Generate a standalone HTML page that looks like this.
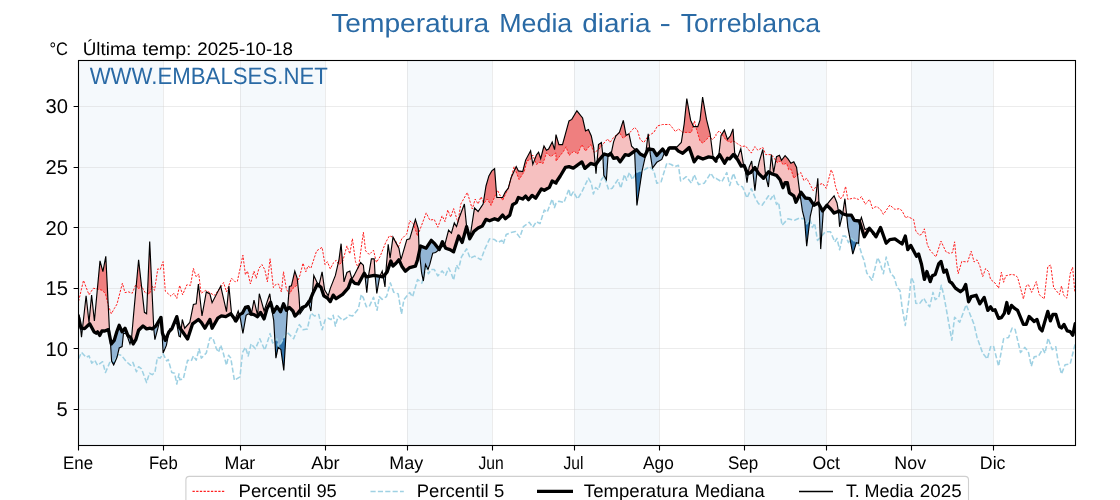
<!DOCTYPE html>
<html><head><meta charset="utf-8"><title>Temperatura Media diaria - Torreblanca</title>
<style>html,body{margin:0;padding:0;background:#fff;overflow:hidden}body{width:1120px;height:500px;font-family:"Liberation Sans",sans-serif}</style></head>
<body>
<svg width="1120" height="500" viewBox="0 0 1120 500" style="display:block;font-family:'Liberation Sans',sans-serif;text-rendering:geometricPrecision;will-change:transform">
<rect width="1120" height="500" fill="#fff"/>
<rect x="78.5" y="60.5" width="84.5" height="385.0" fill="#f5f9fc"/>
<rect x="240.0" y="60.5" width="85.0" height="385.0" fill="#f5f9fc"/>
<rect x="407.0" y="60.5" width="85.0" height="385.0" fill="#f5f9fc"/>
<rect x="574.0" y="60.5" width="85.0" height="385.0" fill="#f5f9fc"/>
<rect x="744.0" y="60.5" width="82.0" height="385.0" fill="#f5f9fc"/>
<rect x="911.0" y="60.5" width="82.0" height="385.0" fill="#f5f9fc"/>
<path d="M163.5 60.5 V445.5 M240.5 60.5 V445.5 M325.5 60.5 V445.5 M407.5 60.5 V445.5 M492.5 60.5 V445.5 M574.5 60.5 V445.5 M659.5 60.5 V445.5 M744.5 60.5 V445.5 M826.5 60.5 V445.5 M911.5 60.5 V445.5 M993.5 60.5 V445.5 M78.5 409.5 H1075.5 M78.5 348.5 H1075.5 M78.5 288.5 H1075.5 M78.5 227.5 H1075.5 M78.5 167.5 H1075.5 M78.5 106.5 H1075.5" stroke="#d0d0d0" stroke-width="1" fill="none" stroke-opacity="0.4"/>
<clipPath id="cp"><rect x="78.5" y="60.5" width="997.0" height="385.0"/></clipPath>
<g clip-path="url(#cp)" fill="none" stroke-linejoin="round">
<path d="M79.2 315.3 L79.5 317.8 L79.8 320.2 L80.0 322.7 L80.0 323.6 L79.8 322.5 L79.5 321.4 L79.2 320.3ZM82.5 328.0 L82.8 325.7 L83.0 323.5 L83.2 321.2 L83.5 319.0 L83.8 316.7 L84.0 314.5 L84.2 312.2 L84.5 310.0 L84.8 307.7 L85.0 305.5 L85.2 303.2 L85.5 301.0 L85.8 298.7 L86.0 296.5 L86.2 297.3 L86.5 299.6 L86.8 302.0 L87.0 304.3 L87.2 306.6 L87.5 308.9 L87.8 311.2 L88.0 313.5 L88.2 315.8 L88.5 318.1 L88.8 320.5 L89.0 322.0 L89.2 319.3 L89.5 316.7 L89.8 314.1 L90.0 311.4 L90.2 308.8 L90.5 306.2 L90.8 303.5 L91.0 300.9 L91.2 298.2 L91.5 295.6 L91.8 296.8 L92.0 299.1 L92.2 301.3 L92.5 303.6 L92.8 305.8 L93.0 308.1 L93.2 310.3 L93.5 312.6 L93.8 314.8 L94.0 317.1 L94.2 319.3 L94.5 320.2 L94.8 317.6 L95.0 314.9 L95.2 312.2 L95.5 309.6 L95.8 306.9 L96.0 304.2 L96.2 301.5 L96.5 298.9 L96.8 296.2 L97.0 293.5 L97.2 290.8 L97.5 288.2 L97.8 285.5 L98.0 282.8 L98.2 280.2 L98.5 277.5 L98.8 274.8 L99.0 272.1 L99.2 269.5 L99.5 266.8 L99.8 264.1 L100.0 261.5 L100.2 261.7 L100.5 262.6 L100.8 263.5 L101.0 264.5 L101.2 265.4 L101.5 266.4 L101.8 267.3 L102.0 268.2 L102.2 269.2 L102.5 270.1 L102.8 271.0 L103.0 271.3 L103.2 270.0 L103.5 268.7 L103.8 267.3 L104.0 266.0 L104.2 264.7 L104.5 263.3 L104.8 262.0 L105.0 260.6 L105.2 259.3 L105.5 258.0 L105.8 256.6 L106.0 260.1 L106.2 265.2 L106.5 270.2 L106.8 275.3 L107.0 280.3 L107.2 285.3 L107.5 290.4 L107.8 295.4 L108.0 300.5 L108.2 305.5 L108.5 310.5 L108.8 315.6 L109.0 320.6 L109.2 325.7 L109.5 330.1 L109.8 333.6 L110.0 337.0 L110.0 337.6 L109.8 336.3 L109.5 335.1 L109.2 333.8 L109.0 332.6 L108.8 331.3 L108.5 330.1 L108.2 329.7 L108.0 329.8 L107.8 329.9 L107.5 330.0 L107.2 330.1 L107.0 330.2 L106.8 330.3 L106.5 330.4 L106.2 330.5 L106.0 330.6 L105.8 330.7 L105.5 330.8 L105.2 330.9 L105.0 331.0 L104.8 331.0 L104.5 331.0 L104.2 331.0 L104.0 331.0 L103.8 331.0 L103.5 331.0 L103.2 331.0 L103.0 331.0 L102.8 331.0 L102.5 331.0 L102.2 331.0 L102.0 331.0 L101.8 331.4 L101.5 331.9 L101.2 332.4 L101.0 332.9 L100.8 333.4 L100.5 333.9 L100.2 334.4 L100.0 334.9 L99.8 335.3 L99.5 334.9 L99.2 334.5 L99.0 334.1 L98.8 333.7 L98.5 333.3 L98.2 332.8 L98.0 332.4 L97.8 332.0 L97.5 331.9 L97.2 332.1 L97.0 332.4 L96.8 332.6 L96.5 332.9 L96.2 333.1 L96.0 333.1 L95.8 332.9 L95.5 332.8 L95.2 332.6 L95.0 332.4 L94.8 332.3 L94.5 332.1 L94.2 331.9 L94.0 331.8 L93.8 331.3 L93.5 330.8 L93.2 330.4 L93.0 329.9 L92.8 329.5 L92.5 329.0 L92.2 328.6 L92.0 328.1 L91.8 327.6 L91.5 327.2 L91.2 326.7 L91.0 326.3 L90.8 325.8 L90.5 325.3 L90.2 324.9 L90.0 324.4 L89.8 324.0 L89.5 324.0 L89.2 324.2 L89.0 324.5 L88.8 324.7 L88.5 325.0 L88.2 325.2 L88.0 325.4 L87.8 325.7 L87.5 325.9 L87.2 326.1 L87.0 326.4 L86.8 326.6 L86.5 326.8 L86.2 327.1 L86.0 327.3 L85.8 327.5 L85.5 327.8 L85.2 328.0 L85.0 328.3 L84.8 328.5 L84.5 328.6 L84.2 328.5 L84.0 328.5 L83.8 328.5 L83.5 328.5 L83.2 328.4 L83.0 328.4 L82.8 328.4 L82.5 328.3ZM131.5 339.0 L131.8 336.1 L132.0 333.2 L132.2 330.3 L132.5 327.4 L132.8 324.4 L133.0 321.5 L133.2 318.6 L133.5 315.7 L133.8 312.9 L134.0 310.2 L134.2 307.5 L134.5 304.8 L134.8 302.0 L135.0 299.3 L135.2 296.6 L135.5 293.9 L135.8 291.2 L136.0 288.5 L136.2 285.8 L136.5 283.0 L136.8 280.3 L137.0 277.6 L137.2 274.9 L137.5 272.2 L137.8 269.5 L138.0 266.8 L138.2 264.0 L138.5 261.3 L138.8 260.7 L139.0 263.0 L139.2 265.3 L139.5 267.6 L139.8 269.9 L140.0 272.1 L140.2 274.4 L140.5 276.7 L140.8 279.0 L141.0 281.3 L141.2 283.5 L141.5 285.8 L141.8 288.1 L142.0 290.4 L142.2 292.7 L142.5 294.9 L142.8 297.2 L143.0 299.5 L143.2 301.8 L143.5 304.1 L143.8 306.4 L144.0 308.6 L144.2 310.9 L144.5 312.4 L144.8 312.6 L145.0 312.7 L145.2 312.9 L145.5 313.1 L145.8 313.2 L146.0 313.4 L146.2 313.6 L146.5 313.7 L146.8 309.5 L147.0 303.8 L147.2 298.1 L147.5 292.4 L147.8 286.7 L148.0 281.0 L148.2 275.3 L148.5 269.6 L148.8 263.9 L149.0 258.2 L149.2 252.5 L149.5 246.8 L149.8 241.9 L150.0 247.3 L150.2 252.7 L150.5 258.2 L150.8 263.6 L151.0 269.0 L151.2 274.5 L151.5 279.9 L151.8 285.4 L152.0 290.8 L152.2 296.2 L152.5 301.7 L152.8 307.1 L153.0 312.5 L153.2 318.0 L153.5 323.4 L153.5 327.9 L153.2 328.1 L153.0 328.3 L152.8 328.5 L152.5 328.7 L152.2 328.9 L152.0 328.8 L151.8 328.7 L151.5 328.6 L151.2 328.5 L151.0 328.4 L150.8 328.4 L150.5 328.3 L150.2 328.2 L150.0 328.2 L149.8 328.2 L149.5 328.3 L149.2 328.3 L149.0 328.4 L148.8 328.4 L148.5 328.5 L148.2 328.5 L148.0 328.6 L147.8 328.6 L147.5 328.7 L147.2 328.7 L147.0 328.8 L146.8 328.8 L146.5 328.8 L146.2 328.6 L146.0 328.4 L145.8 328.2 L145.5 328.0 L145.2 327.8 L145.0 327.6 L144.8 327.4 L144.5 327.2 L144.2 327.0 L144.0 326.8 L143.8 326.6 L143.5 326.4 L143.2 326.2 L143.0 326.0 L142.8 326.2 L142.5 326.5 L142.2 326.7 L142.0 327.0 L141.8 327.2 L141.5 327.5 L141.2 327.7 L141.0 328.0 L140.8 328.2 L140.5 328.5 L140.2 328.7 L140.0 329.0 L139.8 329.2 L139.5 329.5 L139.2 329.7 L139.0 330.0 L138.8 330.2 L138.5 330.8 L138.2 331.6 L138.0 332.4 L137.8 333.2 L137.5 334.0 L137.2 334.9 L137.0 335.7 L136.8 336.5 L136.5 337.3 L136.2 338.1 L136.0 338.9 L135.8 339.7 L135.5 340.1 L135.2 340.5 L135.0 341.0 L134.8 341.4 L134.5 341.8 L134.2 342.2 L134.0 342.6 L133.8 343.0 L133.5 343.5 L133.2 343.9 L133.0 343.5 L132.8 342.9 L132.5 342.2 L132.2 341.6 L132.0 340.9 L131.8 340.2 L131.5 339.6ZM160.0 318.1 L160.2 316.7 L160.2 318.6 L160.0 319.0ZM169.2 330.7 L169.5 329.4 L169.8 328.8 L170.0 328.8 L170.2 328.7 L170.5 328.6 L170.8 328.5 L171.0 328.4 L171.2 328.3 L171.5 328.3 L171.8 328.2 L172.0 327.8 L172.2 327.4 L172.5 327.0 L172.5 327.1 L172.2 327.7 L172.0 328.3 L171.8 328.9 L171.5 329.1 L171.2 329.4 L171.0 329.6 L170.8 329.9 L170.5 330.1 L170.2 330.4 L170.0 330.6 L169.8 330.9 L169.5 331.1 L169.2 331.4ZM181.2 329.0 L181.5 326.7 L181.8 324.4 L182.0 322.1 L182.2 319.8 L182.5 320.3 L182.8 321.2 L183.0 322.1 L183.2 322.9 L183.5 323.8 L183.8 324.7 L184.0 325.6 L184.2 326.5 L184.5 327.4 L184.8 328.1 L185.0 327.9 L185.2 327.6 L185.5 327.3 L185.8 327.0 L186.0 326.7 L186.2 326.4 L186.5 326.1 L186.8 325.9 L187.0 325.6 L187.2 325.3 L187.5 325.0 L187.8 324.7 L188.0 324.4 L188.2 324.1 L188.5 323.9 L188.8 323.6 L189.0 323.3 L189.2 323.0 L189.5 322.7 L189.8 322.4 L190.0 321.2 L190.2 320.0 L190.5 318.7 L190.8 317.5 L191.0 316.2 L191.2 315.0 L191.5 313.7 L191.8 312.5 L192.0 311.2 L192.2 310.0 L192.5 308.7 L192.8 307.5 L193.0 306.2 L193.2 305.0 L193.5 304.4 L193.8 304.3 L194.0 304.2 L194.2 304.2 L194.5 304.1 L194.8 304.1 L195.0 304.0 L195.2 303.9 L195.5 303.9 L195.8 303.8 L196.0 303.7 L196.2 303.7 L196.5 301.4 L196.8 299.1 L197.0 296.8 L197.2 294.5 L197.5 292.2 L197.8 290.0 L198.0 287.7 L198.2 285.4 L198.5 284.8 L198.8 287.0 L199.0 289.2 L199.2 291.4 L199.5 293.7 L199.8 295.9 L200.0 298.1 L200.2 300.3 L200.5 302.5 L200.8 304.8 L201.0 307.0 L201.2 309.2 L201.5 311.4 L201.8 313.6 L202.0 315.9 L202.2 314.6 L202.5 313.2 L202.8 311.8 L203.0 310.4 L203.2 309.0 L203.5 307.6 L203.8 306.2 L204.0 304.8 L204.2 303.4 L204.5 302.1 L204.8 300.7 L205.0 299.3 L205.2 297.9 L205.5 296.5 L205.8 295.1 L206.0 293.7 L206.2 292.3 L206.5 292.0 L206.8 292.1 L207.0 292.3 L207.2 292.4 L207.5 292.6 L207.8 292.7 L208.0 292.9 L208.2 293.0 L208.5 293.2 L208.8 293.3 L209.0 293.5 L209.2 293.6 L209.5 293.8 L209.8 293.9 L210.0 294.3 L210.2 295.3 L210.5 296.3 L210.8 297.3 L211.0 298.3 L211.2 299.3 L211.5 300.3 L211.8 301.3 L212.0 302.3 L212.2 302.4 L212.5 301.9 L212.8 301.4 L213.0 300.9 L213.2 300.5 L213.5 300.0 L213.8 299.5 L214.0 299.0 L214.2 298.5 L214.5 298.1 L214.8 297.6 L215.0 297.1 L215.2 296.6 L215.5 296.1 L215.8 295.7 L216.0 295.2 L216.2 294.7 L216.5 294.2 L216.8 293.8 L217.0 293.3 L217.2 292.8 L217.5 292.3 L217.8 291.8 L218.0 291.4 L218.2 290.9 L218.5 290.4 L218.8 289.9 L219.0 289.4 L219.2 289.0 L219.5 288.5 L219.8 288.0 L220.0 287.5 L220.2 287.0 L220.5 286.6 L220.8 286.2 L221.0 287.3 L221.2 288.4 L221.5 289.5 L221.8 290.6 L222.0 291.7 L222.2 292.8 L222.5 294.0 L222.8 295.1 L223.0 296.2 L223.2 297.3 L223.5 298.4 L223.8 299.5 L224.0 300.6 L224.2 301.7 L224.5 302.8 L224.8 303.9 L225.0 305.0 L225.2 306.1 L225.5 307.2 L225.8 308.3 L226.0 309.4 L226.2 310.5 L226.5 311.5 L226.8 308.9 L227.0 306.3 L227.2 303.7 L227.5 301.1 L227.8 298.5 L228.0 295.9 L228.2 293.3 L228.5 290.7 L228.8 288.1 L229.0 286.8 L229.2 289.4 L229.5 292.0 L229.8 294.6 L230.0 297.2 L230.2 299.7 L230.5 302.3 L230.8 304.9 L231.0 307.5 L231.2 310.1 L231.5 312.7 L231.8 313.6 L232.0 314.3 L232.2 315.0 L232.5 315.7 L232.5 316.0 L232.2 315.7 L232.0 315.3 L231.8 315.0 L231.5 314.7 L231.2 314.3 L231.0 314.0 L230.8 313.8 L230.5 313.9 L230.2 314.1 L230.0 314.2 L229.8 314.4 L229.5 314.5 L229.2 314.7 L229.0 314.8 L228.8 314.9 L228.5 315.1 L228.2 315.2 L228.0 315.4 L227.8 315.5 L227.5 315.7 L227.2 315.8 L227.0 315.9 L226.8 316.1 L226.5 316.2 L226.2 316.4 L226.0 316.5 L225.8 316.6 L225.5 316.6 L225.2 316.6 L225.0 316.5 L224.8 316.5 L224.5 316.4 L224.2 316.4 L224.0 316.3 L223.8 316.3 L223.5 316.3 L223.2 316.2 L223.0 316.2 L222.8 316.1 L222.5 316.1 L222.2 316.1 L222.0 316.0 L221.8 316.0 L221.5 315.9 L221.2 316.0 L221.0 316.2 L220.8 316.3 L220.5 316.5 L220.2 316.6 L220.0 316.8 L219.8 316.9 L219.5 317.1 L219.2 317.2 L219.0 317.4 L218.8 317.5 L218.5 317.7 L218.2 317.8 L218.0 318.0 L217.8 318.3 L217.5 318.7 L217.2 319.1 L217.0 319.6 L216.8 320.0 L216.5 320.4 L216.2 320.9 L216.0 321.3 L215.8 321.8 L215.5 322.2 L215.2 322.6 L215.0 323.1 L214.8 323.5 L214.5 323.9 L214.2 324.4 L214.0 324.8 L213.8 325.3 L213.5 325.7 L213.2 326.1 L213.0 326.6 L212.8 327.0 L212.5 327.4 L212.2 327.9 L212.0 327.8 L211.8 326.8 L211.5 325.8 L211.2 324.8 L211.0 323.8 L210.8 322.8 L210.5 321.8 L210.2 320.8 L210.0 319.8 L209.8 319.8 L209.5 320.3 L209.2 320.7 L209.0 321.1 L208.8 321.5 L208.5 322.0 L208.2 322.4 L208.0 322.8 L207.8 323.3 L207.5 323.7 L207.2 324.1 L207.0 324.5 L206.8 325.0 L206.5 325.4 L206.2 325.8 L206.0 326.3 L205.8 326.7 L205.5 327.1 L205.2 327.5 L205.0 328.0 L204.8 327.9 L204.5 327.5 L204.2 327.1 L204.0 326.7 L203.8 326.3 L203.5 325.9 L203.2 325.5 L203.0 325.1 L202.8 324.7 L202.5 324.3 L202.2 323.9 L202.0 323.5 L201.8 323.1 L201.5 322.7 L201.2 322.4 L201.0 322.1 L200.8 321.9 L200.5 321.6 L200.2 321.4 L200.0 321.1 L199.8 320.9 L199.5 320.6 L199.2 320.4 L199.0 320.1 L198.8 319.9 L198.5 319.6 L198.2 319.6 L198.0 319.8 L197.8 320.0 L197.5 320.2 L197.2 320.4 L197.0 320.6 L196.8 320.8 L196.5 321.0 L196.2 321.1 L196.0 321.3 L195.8 321.5 L195.5 321.7 L195.2 321.9 L195.0 322.1 L194.8 322.3 L194.5 322.5 L194.2 322.6 L194.0 322.8 L193.8 323.0 L193.5 323.2 L193.2 323.4 L193.0 323.6 L192.8 323.8 L192.5 324.3 L192.2 325.0 L192.0 325.8 L191.8 326.5 L191.5 327.3 L191.2 328.0 L191.0 328.8 L190.8 329.5 L190.5 330.3 L190.2 331.0 L190.0 331.8 L189.8 332.5 L189.5 333.3 L189.2 334.0 L189.0 334.8 L188.8 335.5 L188.5 336.3 L188.2 337.0 L188.0 337.8 L187.8 338.5 L187.5 338.8 L187.2 338.5 L187.0 338.1 L186.8 337.7 L186.5 337.4 L186.2 337.0 L186.0 336.7 L185.8 336.3 L185.5 336.0 L185.2 335.6 L185.0 335.2 L184.8 334.9 L184.5 334.5 L184.2 334.2 L184.0 333.8 L183.8 333.5 L183.5 333.1 L183.2 332.7 L183.0 332.4 L182.8 332.0 L182.5 331.7 L182.2 331.3 L182.0 331.0 L181.8 330.6 L181.5 330.3 L181.2 329.9ZM235.2 318.7 L235.5 318.1 L235.8 317.4 L236.0 316.7 L236.2 316.1 L236.5 315.4 L236.8 314.7 L237.0 314.1 L237.2 313.4 L237.5 312.7 L237.8 312.1 L238.0 311.4 L238.2 311.3 L238.5 312.1 L238.8 312.9 L239.0 313.8 L239.2 314.6 L239.2 315.2 L239.0 315.6 L238.8 316.1 L238.5 316.5 L238.2 317.0 L238.0 317.4 L237.8 317.9 L237.5 318.3 L237.2 318.8 L237.0 319.2 L236.8 319.7 L236.5 320.1 L236.2 320.6 L236.0 321.0 L235.8 320.6 L235.5 320.2 L235.2 319.7ZM251.5 313.3 L251.8 312.0 L252.0 310.7 L252.2 309.4 L252.5 308.0 L252.8 306.7 L253.0 305.4 L253.2 304.1 L253.5 302.8 L253.8 301.5 L254.0 300.2 L254.2 301.2 L254.5 302.3 L254.8 303.3 L255.0 304.4 L255.2 305.4 L255.5 306.5 L255.8 307.5 L256.0 308.6 L256.2 309.6 L256.5 310.7 L256.8 311.7 L257.0 312.8 L257.2 313.8 L257.5 314.9 L257.8 313.4 L258.0 310.3 L258.2 307.2 L258.5 304.0 L258.8 300.9 L259.0 297.8 L259.2 294.7 L259.5 294.3 L259.8 295.2 L260.0 296.1 L260.2 297.0 L260.5 297.9 L260.8 298.8 L261.0 299.8 L261.2 300.7 L261.5 301.6 L261.8 302.5 L262.0 303.4 L262.2 304.3 L262.5 305.2 L262.8 306.1 L263.0 307.0 L263.2 307.9 L263.5 308.8 L263.8 309.8 L264.0 310.7 L264.2 310.5 L264.5 309.7 L264.8 309.0 L265.0 308.2 L265.2 307.5 L265.5 306.7 L265.8 306.0 L266.0 305.2 L266.2 304.5 L266.5 303.7 L266.8 303.0 L267.0 302.2 L267.2 301.5 L267.5 300.7 L267.8 300.0 L268.0 299.2 L268.2 298.5 L268.5 297.7 L268.8 297.0 L269.0 296.2 L269.2 295.5 L269.5 294.7 L269.8 294.0 L270.0 294.9 L270.2 296.9 L270.5 298.9 L270.8 300.9 L271.0 302.9 L271.0 303.9 L270.8 303.0 L270.5 302.4 L270.2 302.9 L270.0 303.3 L269.8 303.8 L269.5 304.2 L269.2 304.7 L269.0 305.1 L268.8 305.6 L268.5 306.0 L268.2 306.5 L268.0 306.9 L267.8 307.4 L267.5 307.8 L267.2 308.3 L267.0 308.7 L266.8 309.5 L266.5 310.4 L266.2 311.3 L266.0 312.2 L265.8 313.0 L265.5 313.9 L265.2 314.8 L265.0 315.7 L264.8 316.5 L264.5 317.4 L264.2 318.3 L264.0 318.7 L263.8 318.3 L263.5 317.8 L263.2 317.4 L263.0 316.9 L262.8 316.5 L262.5 316.0 L262.2 315.6 L262.0 315.1 L261.8 314.7 L261.5 314.2 L261.2 313.8 L261.0 313.3 L260.8 312.9 L260.5 312.4 L260.2 312.7 L260.0 313.1 L259.8 313.5 L259.5 313.9 L259.2 314.2 L259.0 314.6 L258.8 315.0 L258.5 315.4 L258.2 315.7 L258.0 316.1 L257.8 316.5 L257.5 316.7 L257.2 316.5 L257.0 316.4 L256.8 316.2 L256.5 316.1 L256.2 315.9 L256.0 315.8 L255.8 315.6 L255.5 315.5 L255.2 315.3 L255.0 315.2 L254.8 315.0 L254.5 314.9 L254.2 314.7 L254.0 314.6 L253.8 314.5 L253.5 314.4 L253.2 314.4 L253.0 314.3 L252.8 314.2 L252.5 314.2 L252.2 314.1 L252.0 314.1 L251.8 314.0 L251.5 313.9ZM287.8 306.7 L288.0 303.4 L288.2 300.1 L288.5 296.8 L288.8 293.5 L289.0 290.2 L289.2 286.9 L289.5 286.4 L289.8 286.3 L290.0 286.2 L290.2 286.2 L290.5 286.1 L290.8 286.0 L291.0 285.9 L291.2 285.8 L291.5 285.5 L291.8 284.4 L292.0 283.3 L292.2 282.2 L292.5 281.1 L292.8 280.0 L293.0 278.9 L293.2 277.8 L293.5 276.6 L293.8 275.5 L294.0 274.4 L294.2 273.3 L294.5 272.2 L294.8 271.1 L295.0 271.8 L295.2 272.5 L295.5 273.3 L295.8 274.0 L296.0 274.7 L296.2 275.5 L296.5 276.2 L296.8 276.9 L297.0 277.7 L297.2 278.7 L297.5 281.0 L297.8 283.4 L298.0 285.7 L298.2 288.0 L298.5 290.4 L298.8 292.7 L299.0 295.5 L299.2 299.8 L299.5 304.0 L299.8 308.2 L299.8 310.7 L299.5 311.0 L299.2 311.4 L299.0 311.7 L298.8 312.0 L298.5 312.4 L298.2 312.7 L298.0 313.0 L297.8 313.3 L297.5 313.5 L297.2 313.8 L297.0 314.0 L296.8 314.3 L296.5 314.5 L296.2 314.8 L296.0 315.0 L295.8 315.3 L295.5 315.5 L295.2 315.8 L295.0 315.9 L294.8 315.3 L294.5 314.7 L294.2 314.2 L294.0 313.6 L293.8 313.0 L293.5 312.4 L293.2 311.8 L293.0 311.2 L292.8 310.8 L292.5 310.6 L292.2 310.3 L292.0 310.1 L291.8 309.8 L291.5 309.6 L291.2 309.3 L291.0 309.1 L290.8 308.8 L290.5 308.6 L290.2 308.3 L290.0 308.1 L289.8 307.8 L289.5 307.6 L289.2 307.4 L289.0 307.6 L288.8 307.9 L288.5 308.1 L288.2 308.4 L288.0 308.6 L287.8 308.9ZM305.2 305.9 L305.5 305.5 L305.8 305.0 L306.0 304.6 L306.2 304.1 L306.5 303.6 L306.8 303.2 L307.0 302.7 L307.2 302.3 L307.5 301.8 L307.8 301.3 L308.0 300.9 L308.2 301.7 L308.5 302.6 L308.5 302.7 L308.2 303.0 L308.0 303.3 L307.8 303.6 L307.5 303.9 L307.2 304.2 L307.0 304.5 L306.8 304.8 L306.5 305.1 L306.2 305.4 L306.0 305.7 L305.8 306.0 L305.5 306.1 L305.2 306.2ZM312.5 292.5 L312.8 289.1 L313.0 285.7 L313.2 282.4 L313.5 279.0 L313.8 275.6 L314.0 275.9 L314.2 276.4 L314.5 277.0 L314.8 277.5 L315.0 278.0 L315.2 278.6 L315.5 279.1 L315.8 279.7 L316.0 280.2 L316.2 280.7 L316.5 281.3 L316.8 281.8 L317.0 282.3 L317.2 282.9 L317.5 283.4 L317.8 283.9 L318.0 284.5 L318.2 285.0 L318.2 285.0 L318.0 284.8 L317.8 284.6 L317.5 284.4 L317.2 284.6 L317.0 285.1 L316.8 285.6 L316.5 286.1 L316.2 286.6 L316.0 287.1 L315.8 287.6 L315.5 288.1 L315.2 288.6 L315.0 289.1 L314.8 289.6 L314.5 290.1 L314.2 290.6 L314.0 291.1 L313.8 291.6 L313.5 292.1 L313.2 292.6 L313.0 293.1 L312.8 293.7 L312.5 294.3ZM319.0 285.4 L319.2 284.3 L319.5 283.2 L319.8 282.1 L320.0 281.0 L320.2 279.9 L320.5 278.8 L320.8 277.7 L321.0 276.7 L321.2 275.6 L321.5 274.5 L321.8 273.4 L322.0 272.3 L322.2 272.8 L322.5 274.6 L322.8 276.5 L323.0 278.3 L323.2 280.1 L323.5 282.0 L323.8 283.8 L324.0 285.6 L324.2 287.5 L324.5 289.3 L324.8 290.1 L325.0 290.5 L325.2 291.0 L325.5 291.4 L325.8 291.8 L326.0 292.2 L326.2 292.6 L326.5 293.0 L326.8 293.5 L327.0 293.9 L327.2 294.3 L327.5 294.7 L327.8 295.1 L328.0 295.6 L328.2 295.5 L328.5 294.7 L328.8 293.8 L329.0 293.0 L329.2 292.1 L329.5 291.2 L329.8 290.4 L330.0 289.5 L330.2 288.6 L330.5 287.9 L330.8 287.3 L331.0 286.6 L331.2 286.0 L331.5 285.3 L331.8 284.7 L332.0 284.1 L332.2 283.4 L332.5 282.8 L332.8 282.1 L333.0 281.5 L333.2 280.8 L333.5 280.2 L333.8 279.6 L334.0 278.9 L334.2 278.3 L334.5 277.6 L334.8 277.0 L335.0 276.3 L335.2 275.7 L335.5 274.8 L335.8 273.7 L336.0 272.6 L336.2 271.5 L336.5 270.4 L336.8 269.3 L337.0 268.2 L337.2 267.1 L337.5 266.0 L337.8 264.9 L338.0 263.8 L338.2 262.7 L338.5 261.6 L338.8 260.5 L339.0 259.3 L339.2 257.5 L339.5 255.7 L339.8 253.8 L340.0 252.0 L340.2 250.2 L340.5 248.3 L340.8 246.5 L341.0 244.7 L341.2 245.4 L341.5 248.7 L341.8 252.0 L342.0 255.3 L342.2 258.6 L342.5 261.9 L342.8 265.2 L343.0 268.5 L343.2 271.9 L343.5 275.2 L343.8 278.5 L344.0 281.8 L344.2 281.1 L344.5 280.3 L344.8 279.5 L345.0 278.7 L345.2 277.8 L345.5 277.0 L345.8 276.2 L346.0 275.4 L346.2 274.6 L346.5 273.8 L346.8 273.0 L347.0 272.5 L347.2 272.3 L347.5 272.2 L347.8 272.1 L348.0 272.0 L348.2 271.8 L348.5 271.7 L348.8 271.6 L349.0 271.5 L349.2 271.3 L349.5 271.2 L349.8 271.1 L350.0 271.9 L350.2 272.9 L350.5 273.8 L350.8 274.7 L351.0 275.6 L351.2 276.5 L351.5 277.4 L351.8 278.4 L352.0 278.9 L352.2 278.5 L352.5 278.0 L352.8 277.6 L353.0 277.2 L353.2 276.8 L353.5 276.4 L353.8 276.0 L354.0 275.5 L354.2 275.1 L354.5 274.6 L354.8 274.1 L355.0 273.6 L355.2 273.1 L355.5 272.6 L355.8 272.1 L356.0 271.6 L356.2 271.1 L356.5 270.6 L356.8 270.1 L357.0 269.6 L357.2 269.1 L357.5 268.6 L357.8 268.1 L358.0 267.6 L358.2 267.1 L358.5 266.6 L358.8 266.1 L359.0 265.6 L359.2 265.1 L359.5 264.6 L359.8 264.1 L360.0 263.6 L360.2 263.1 L360.5 262.6 L360.8 262.6 L361.0 262.9 L361.2 263.1 L361.5 263.4 L361.8 263.6 L362.0 263.9 L362.2 264.1 L362.5 264.4 L362.8 264.6 L363.0 264.9 L363.2 265.1 L363.5 265.9 L363.8 268.6 L364.0 271.4 L364.0 273.6 L363.8 274.0 L363.5 274.5 L363.2 275.0 L363.0 275.4 L362.8 275.9 L362.5 276.4 L362.2 276.8 L362.0 277.3 L361.8 277.8 L361.5 278.2 L361.2 278.7 L361.0 279.2 L360.8 279.7 L360.5 280.1 L360.2 280.6 L360.0 281.1 L359.8 281.5 L359.5 282.0 L359.2 282.5 L359.0 282.9 L358.8 283.4 L358.5 283.9 L358.2 284.0 L358.0 284.0 L357.8 283.9 L357.5 283.9 L357.2 283.8 L357.0 283.8 L356.8 283.7 L356.5 283.7 L356.2 283.6 L356.0 283.6 L355.8 283.5 L355.5 283.5 L355.2 283.4 L355.0 283.4 L354.8 283.3 L354.5 283.0 L354.2 282.8 L354.0 282.5 L353.8 282.3 L353.5 282.0 L353.2 281.8 L353.0 281.5 L352.8 281.3 L352.5 281.0 L352.2 280.8 L352.0 280.5 L351.8 280.3 L351.5 280.0 L351.2 279.8 L351.0 280.3 L350.8 281.0 L350.5 281.7 L350.2 282.4 L350.0 283.2 L349.8 283.9 L349.5 284.6 L349.2 285.3 L349.0 286.0 L348.8 286.7 L348.5 287.4 L348.2 288.0 L348.0 288.3 L347.8 288.6 L347.5 288.9 L347.2 289.1 L347.0 289.4 L346.8 289.7 L346.5 290.0 L346.2 290.3 L346.0 290.5 L345.8 290.8 L345.5 291.1 L345.2 291.4 L345.0 291.7 L344.8 291.9 L344.5 292.2 L344.2 292.5 L344.0 292.8 L343.8 293.1 L343.5 293.4 L343.2 293.6 L343.0 293.9 L342.8 294.2 L342.5 294.4 L342.2 294.6 L342.0 294.8 L341.8 294.9 L341.5 295.1 L341.2 295.3 L341.0 295.4 L340.8 295.6 L340.5 295.8 L340.2 295.9 L340.0 296.1 L339.8 296.3 L339.5 296.4 L339.2 296.6 L339.0 296.8 L338.8 296.9 L338.5 297.1 L338.2 297.3 L338.0 297.4 L337.8 297.6 L337.5 297.8 L337.2 297.9 L337.0 298.1 L336.8 298.3 L336.5 298.4 L336.2 298.6 L336.0 298.6 L335.8 298.3 L335.5 298.0 L335.2 297.7 L335.0 297.4 L334.8 297.1 L334.5 296.7 L334.2 296.4 L334.0 296.1 L333.8 295.8 L333.5 295.5 L333.2 295.2 L333.0 295.6 L332.8 296.1 L332.5 296.7 L332.2 297.3 L332.0 297.8 L331.8 298.4 L331.5 299.0 L331.2 299.5 L331.0 300.1 L330.8 300.6 L330.5 301.2 L330.2 301.5 L330.0 301.2 L329.8 300.9 L329.5 300.6 L329.2 300.3 L329.0 299.9 L328.8 299.6 L328.5 299.3 L328.2 299.0 L328.0 298.7 L327.8 298.4 L327.5 298.1 L327.2 297.9 L327.0 297.7 L326.8 297.6 L326.5 297.4 L326.2 297.3 L326.0 297.1 L325.8 297.0 L325.5 296.8 L325.2 296.7 L325.0 296.5 L324.8 296.4 L324.5 296.2 L324.2 296.1 L324.0 295.9 L323.8 295.6 L323.5 294.8 L323.2 294.1 L323.0 293.3 L322.8 292.6 L322.5 291.8 L322.2 291.1 L322.0 290.3 L321.8 289.6 L321.5 288.8 L321.2 288.1 L321.0 287.3 L320.8 287.0 L320.5 286.8 L320.2 286.6 L320.0 286.4 L319.8 286.2 L319.5 286.0 L319.2 285.8 L319.0 285.6ZM368.5 275.8 L368.8 274.3 L369.0 272.8 L369.2 271.4 L369.5 269.9 L369.8 268.4 L370.0 266.9 L370.2 265.5 L370.5 264.0 L370.8 262.5 L371.0 261.0 L371.2 259.5 L371.5 258.8 L371.8 258.8 L372.0 258.8 L372.2 258.8 L372.5 258.8 L372.8 258.8 L373.0 258.8 L373.2 258.8 L373.5 258.8 L373.8 258.8 L374.0 258.8 L374.2 258.9 L374.5 263.7 L374.8 268.4 L375.0 273.2 L375.0 275.5 L374.8 275.5 L374.5 275.4 L374.2 275.4 L374.0 275.4 L373.8 275.5 L373.5 275.5 L373.2 275.6 L373.0 275.6 L372.8 275.7 L372.5 275.7 L372.2 275.8 L372.0 275.8 L371.8 275.9 L371.5 275.9 L371.2 275.9 L371.0 276.0 L370.8 276.0 L370.5 276.1 L370.2 276.1 L370.0 276.2 L369.8 276.2 L369.5 276.3 L369.2 276.3 L369.0 276.4 L368.8 276.4 L368.5 276.4ZM380.0 275.9 L380.2 275.4 L380.5 274.8 L380.8 274.3 L381.0 273.7 L381.2 273.1 L381.5 272.6 L381.8 272.0 L382.0 271.5 L382.2 271.5 L382.5 272.9 L382.8 274.3 L383.0 275.7 L383.0 276.7 L382.8 276.8 L382.5 276.8 L382.2 276.7 L382.0 276.7 L381.8 276.7 L381.5 276.6 L381.2 276.6 L381.0 276.5 L380.8 276.5 L380.5 276.4 L380.2 276.4 L380.0 276.4ZM385.8 272.9 L386.0 269.9 L386.2 267.0 L386.5 264.1 L386.8 261.3 L387.0 258.4 L387.2 255.5 L387.5 252.7 L387.8 249.8 L388.0 246.9 L388.2 244.7 L388.5 246.5 L388.8 248.3 L389.0 250.2 L389.2 252.0 L389.5 253.8 L389.8 255.6 L390.0 257.5 L390.2 257.0 L390.5 255.1 L390.8 253.3 L391.0 251.5 L391.2 249.7 L391.5 247.9 L391.8 246.1 L392.0 244.3 L392.2 242.5 L392.5 240.6 L392.8 238.8 L393.0 237.3 L393.2 237.8 L393.5 238.2 L393.8 238.7 L394.0 239.2 L394.2 239.6 L394.5 240.1 L394.8 240.5 L395.0 241.0 L395.2 241.5 L395.5 241.9 L395.8 242.4 L396.0 242.9 L396.2 243.3 L396.5 243.8 L396.8 244.3 L397.0 244.7 L397.2 245.2 L397.5 245.6 L397.8 246.1 L398.0 246.6 L398.2 247.0 L398.5 247.5 L398.8 248.0 L399.0 248.8 L399.2 250.2 L399.5 251.5 L399.8 252.8 L400.0 254.2 L400.2 255.5 L400.5 256.8 L400.8 258.2 L401.0 259.5 L401.2 259.0 L401.5 258.1 L401.8 257.2 L402.0 256.4 L402.2 255.5 L402.5 254.6 L402.8 253.7 L403.0 252.9 L403.2 252.0 L403.5 251.1 L403.8 250.2 L404.0 249.4 L404.2 248.5 L404.5 247.6 L404.8 246.7 L405.0 245.9 L405.2 245.0 L405.5 244.1 L405.8 243.2 L406.0 242.4 L406.2 241.5 L406.5 240.6 L406.8 239.7 L407.0 239.5 L407.2 239.4 L407.5 239.4 L407.8 239.3 L408.0 239.3 L408.2 239.2 L408.5 239.1 L408.8 239.1 L409.0 239.0 L409.2 238.9 L409.5 238.9 L409.8 238.6 L410.0 237.8 L410.2 236.9 L410.5 236.1 L410.8 235.2 L411.0 234.4 L411.2 233.5 L411.5 232.7 L411.8 231.9 L412.0 231.0 L412.2 230.2 L412.5 229.3 L412.8 228.5 L413.0 227.6 L413.2 226.8 L413.5 226.0 L413.8 225.1 L414.0 224.3 L414.2 223.4 L414.5 222.6 L414.8 221.7 L415.0 220.9 L415.2 220.0 L415.5 219.6 L415.8 220.4 L416.0 221.2 L416.2 222.0 L416.5 222.8 L416.8 223.7 L417.0 224.5 L417.2 225.3 L417.5 226.1 L417.8 226.9 L418.0 227.7 L418.2 228.5 L418.5 233.2 L418.8 239.5 L419.0 245.7 L419.2 249.3 L419.2 251.9 L419.0 253.1 L418.8 254.3 L418.5 255.5 L418.2 256.6 L418.0 257.8 L417.8 259.0 L417.5 260.0 L417.2 260.8 L417.0 261.5 L416.8 262.3 L416.5 263.0 L416.2 263.8 L416.0 264.5 L415.8 265.3 L415.5 266.0 L415.2 266.3 L415.0 266.3 L414.8 266.4 L414.5 266.4 L414.2 266.5 L414.0 266.6 L413.8 266.6 L413.5 266.7 L413.2 266.8 L413.0 266.8 L412.8 266.9 L412.5 266.9 L412.2 267.0 L412.0 267.1 L411.8 267.1 L411.5 267.2 L411.2 267.3 L411.0 267.3 L410.8 267.4 L410.5 267.4 L410.2 267.5 L410.0 267.6 L409.8 267.6 L409.5 267.8 L409.2 268.0 L409.0 268.2 L408.8 268.4 L408.5 268.6 L408.2 268.8 L408.0 269.0 L407.8 269.3 L407.5 269.5 L407.2 269.7 L407.0 269.9 L406.8 270.1 L406.5 270.3 L406.2 270.5 L406.0 270.7 L405.8 270.9 L405.5 271.1 L405.2 271.1 L405.0 270.7 L404.8 270.4 L404.5 270.0 L404.2 269.7 L404.0 269.3 L403.8 269.0 L403.5 268.6 L403.2 268.3 L403.0 267.9 L402.8 267.6 L402.5 267.2 L402.2 266.9 L402.0 266.5 L401.8 266.2 L401.5 265.6 L401.2 265.1 L401.0 264.5 L400.8 263.9 L400.5 263.4 L400.2 262.8 L400.0 262.2 L399.8 261.7 L399.5 261.1 L399.2 260.6 L399.0 260.0 L398.8 259.9 L398.5 260.2 L398.2 260.5 L398.0 260.8 L397.8 261.1 L397.5 261.4 L397.2 261.8 L397.0 262.1 L396.8 262.4 L396.5 262.7 L396.2 263.0 L396.0 263.3 L395.8 263.5 L395.5 263.8 L395.2 264.0 L395.0 264.2 L394.8 264.4 L394.5 264.7 L394.2 264.9 L394.0 265.1 L393.8 265.3 L393.5 265.6 L393.2 265.8 L393.0 266.0 L392.8 265.5 L392.5 264.9 L392.2 264.4 L392.0 263.8 L391.8 263.2 L391.5 262.6 L391.2 262.0 L391.0 261.4 L390.8 261.2 L390.5 261.9 L390.2 262.7 L390.0 263.4 L389.8 264.2 L389.5 264.9 L389.2 265.7 L389.0 266.4 L388.8 267.2 L388.5 267.9 L388.2 268.7 L388.0 269.4 L387.8 270.2 L387.5 270.9 L387.2 271.7 L387.0 272.0 L386.8 272.3 L386.5 272.6 L386.2 272.9 L386.0 273.2 L385.8 273.5ZM444.0 244.8 L444.2 244.6 L444.5 244.3 L444.8 244.1 L445.0 243.7 L445.2 242.8 L445.5 241.8 L445.8 240.9 L446.0 239.9 L446.2 239.0 L446.5 238.0 L446.8 237.1 L447.0 236.1 L447.2 235.2 L447.5 234.2 L447.8 233.3 L448.0 232.3 L448.2 231.4 L448.5 230.4 L448.8 230.4 L449.0 230.6 L449.2 230.9 L449.5 231.1 L449.8 231.4 L450.0 231.6 L450.2 231.9 L450.5 232.1 L450.8 232.4 L451.0 232.6 L451.2 232.9 L451.5 232.9 L451.8 232.0 L452.0 231.1 L452.2 230.3 L452.5 229.4 L452.8 228.5 L453.0 227.6 L453.2 226.8 L453.5 225.9 L453.8 225.0 L454.0 224.1 L454.2 223.3 L454.5 223.3 L454.8 223.7 L455.0 224.1 L455.2 224.5 L455.5 225.0 L455.8 225.4 L456.0 225.8 L456.2 226.2 L456.5 226.5 L456.8 225.7 L457.0 224.9 L457.2 224.1 L457.5 223.3 L457.8 222.5 L458.0 221.7 L458.2 220.9 L458.5 220.0 L458.8 219.2 L459.0 218.4 L459.2 217.6 L459.5 216.9 L459.8 216.2 L460.0 215.6 L460.2 214.9 L460.5 214.3 L460.8 213.6 L461.0 212.9 L461.2 212.3 L461.5 211.6 L461.8 211.0 L462.0 210.3 L462.2 209.7 L462.5 209.0 L462.8 208.3 L463.0 207.7 L463.2 207.0 L463.5 206.4 L463.8 205.7 L464.0 205.1 L464.2 204.4 L464.5 205.0 L464.8 207.6 L465.0 210.2 L465.2 212.8 L465.5 215.5 L465.8 218.1 L466.0 220.7 L466.2 223.3 L466.5 225.9 L466.8 227.1 L467.0 227.7 L467.2 228.4 L467.5 229.0 L467.8 229.7 L468.0 230.3 L468.2 231.0 L468.5 231.6 L468.8 232.3 L469.0 232.9 L469.2 233.6 L469.5 234.2 L469.8 234.9 L470.0 235.5 L470.2 235.4 L470.5 233.8 L470.8 232.2 L471.0 230.5 L471.2 228.9 L471.5 227.3 L471.8 225.7 L472.0 224.0 L472.2 222.4 L472.5 220.8 L472.8 219.2 L473.0 217.5 L473.2 215.9 L473.5 214.3 L473.8 212.7 L474.0 211.0 L474.2 209.4 L474.5 207.9 L474.8 208.1 L475.0 208.4 L475.2 208.6 L475.5 208.9 L475.8 209.1 L476.0 209.4 L476.2 209.6 L476.5 209.9 L476.8 210.1 L477.0 210.4 L477.2 210.6 L477.5 210.9 L477.8 211.1 L478.0 211.4 L478.2 211.2 L478.5 210.9 L478.8 210.5 L479.0 210.1 L479.2 209.8 L479.5 209.4 L479.8 209.0 L480.0 208.6 L480.2 208.3 L480.5 207.9 L480.8 207.5 L481.0 207.2 L481.2 206.8 L481.5 206.4 L481.8 206.0 L482.0 205.7 L482.2 205.3 L482.5 204.9 L482.8 204.6 L483.0 204.2 L483.2 203.2 L483.5 201.7 L483.8 200.1 L484.0 198.5 L484.2 197.0 L484.5 195.4 L484.8 193.9 L485.0 192.3 L485.2 190.7 L485.5 189.2 L485.8 187.6 L486.0 186.0 L486.2 185.1 L486.5 184.3 L486.8 183.4 L487.0 182.5 L487.2 181.6 L487.5 180.8 L487.8 179.9 L488.0 179.0 L488.2 178.1 L488.5 177.3 L488.8 176.4 L489.0 175.7 L489.2 175.3 L489.5 174.8 L489.8 174.4 L490.0 174.0 L490.2 173.5 L490.5 173.1 L490.8 172.7 L491.0 172.2 L491.2 171.8 L491.5 171.3 L491.8 170.9 L492.0 170.7 L492.2 170.5 L492.5 170.3 L492.8 170.1 L493.0 170.0 L493.2 169.8 L493.5 169.6 L493.8 169.4 L494.0 169.2 L494.2 169.0 L494.5 168.8 L494.8 170.1 L495.0 173.4 L495.2 176.8 L495.5 180.1 L495.8 183.4 L496.0 186.8 L496.2 190.1 L496.5 193.4 L496.8 196.8 L497.0 197.5 L497.2 197.5 L497.5 197.5 L497.8 197.5 L498.0 197.5 L498.2 197.5 L498.5 197.5 L498.8 197.5 L499.0 197.5 L499.2 197.5 L499.5 197.5 L499.8 197.5 L500.0 197.5 L500.2 197.5 L500.5 197.5 L500.8 197.5 L501.0 197.5 L501.2 197.5 L501.5 197.5 L501.8 197.5 L502.0 197.5 L502.2 197.5 L502.5 197.5 L502.8 197.2 L503.0 196.7 L503.2 196.2 L503.5 195.7 L503.8 195.2 L504.0 194.7 L504.2 194.2 L504.5 193.7 L504.8 193.2 L505.0 192.7 L505.2 192.2 L505.5 191.7 L505.8 191.4 L506.0 191.1 L506.2 190.8 L506.5 190.4 L506.8 190.1 L507.0 189.8 L507.2 189.5 L507.5 189.2 L507.8 188.9 L508.0 188.6 L508.2 188.3 L508.5 187.5 L508.8 186.6 L509.0 185.6 L509.2 184.7 L509.5 183.8 L509.8 182.8 L510.0 181.9 L510.2 181.0 L510.5 180.0 L510.8 179.1 L511.0 178.1 L511.2 177.3 L511.5 176.7 L511.8 176.2 L512.0 175.7 L512.2 175.1 L512.5 174.6 L512.8 174.1 L513.0 173.5 L513.2 173.0 L513.5 172.4 L513.8 171.9 L514.0 171.4 L514.2 170.8 L514.5 170.3 L514.8 169.8 L515.0 169.2 L515.2 168.7 L515.5 168.2 L515.8 167.6 L516.0 167.1 L516.2 166.6 L516.5 167.1 L516.8 167.6 L517.0 168.1 L517.2 168.6 L517.5 169.1 L517.8 169.6 L518.0 170.1 L518.2 170.6 L518.5 170.9 L518.8 170.9 L519.0 171.0 L519.2 171.0 L519.5 171.1 L519.8 171.1 L520.0 171.1 L520.2 171.2 L520.5 171.2 L520.8 171.3 L521.0 171.3 L521.2 171.4 L521.5 171.4 L521.8 171.4 L522.0 171.5 L522.2 171.5 L522.5 171.6 L522.8 171.5 L523.0 170.5 L523.2 169.5 L523.5 168.5 L523.8 167.5 L524.0 166.5 L524.2 165.5 L524.5 164.5 L524.8 163.5 L525.0 162.5 L525.2 161.5 L525.5 160.5 L525.8 159.8 L526.0 159.4 L526.2 158.9 L526.5 158.4 L526.8 158.0 L527.0 157.5 L527.2 157.0 L527.5 156.6 L527.8 156.1 L528.0 155.6 L528.2 155.2 L528.5 154.7 L528.8 154.2 L529.0 153.8 L529.2 153.3 L529.5 152.9 L529.8 152.4 L530.0 151.9 L530.2 151.5 L530.5 151.0 L530.8 151.4 L531.0 152.9 L531.2 154.5 L531.5 156.1 L531.8 157.7 L532.0 159.3 L532.2 160.9 L532.5 162.4 L532.8 164.0 L533.0 163.9 L533.2 163.3 L533.5 162.6 L533.8 162.0 L534.0 161.3 L534.2 160.7 L534.5 160.0 L534.8 159.4 L535.0 158.7 L535.2 158.1 L535.5 157.4 L535.8 156.8 L536.0 156.1 L536.2 155.5 L536.5 154.9 L536.8 154.6 L537.0 154.3 L537.2 153.9 L537.5 153.6 L537.8 153.3 L538.0 152.9 L538.2 152.6 L538.5 152.3 L538.8 152.7 L539.0 153.5 L539.2 154.2 L539.5 155.0 L539.8 155.7 L540.0 156.5 L540.2 157.2 L540.5 158.0 L540.8 158.6 L541.0 157.6 L541.2 156.6 L541.5 155.6 L541.8 154.6 L542.0 153.6 L542.2 152.6 L542.5 151.6 L542.8 150.6 L543.0 149.6 L543.2 148.7 L543.5 147.7 L543.8 146.8 L544.0 145.9 L544.2 146.3 L544.5 146.8 L544.8 147.2 L545.0 147.6 L545.2 148.1 L545.5 148.5 L545.8 148.9 L546.0 149.3 L546.2 149.8 L546.5 150.2 L546.8 150.1 L547.0 149.9 L547.2 149.8 L547.5 149.7 L547.8 149.5 L548.0 149.4 L548.2 149.3 L548.5 149.2 L548.8 148.8 L549.0 148.3 L549.2 147.8 L549.5 147.4 L549.8 146.9 L550.0 146.4 L550.2 145.9 L550.5 145.4 L550.8 144.9 L551.0 144.4 L551.2 143.9 L551.5 143.5 L551.8 143.0 L552.0 142.5 L552.2 142.3 L552.5 143.0 L552.8 143.8 L553.0 144.6 L553.2 145.4 L553.5 146.2 L553.8 147.0 L554.0 147.8 L554.2 148.6 L554.5 149.4 L554.8 148.1 L555.0 145.4 L555.2 142.7 L555.5 140.0 L555.8 137.3 L556.0 134.6 L556.2 135.4 L556.5 136.3 L556.8 137.2 L557.0 138.1 L557.2 138.9 L557.5 139.8 L557.8 140.7 L558.0 141.6 L558.2 142.4 L558.5 143.3 L558.8 144.2 L559.0 144.6 L559.2 144.6 L559.5 144.6 L559.8 144.6 L560.0 144.6 L560.2 144.6 L560.5 144.6 L560.8 144.6 L561.0 144.6 L561.2 144.6 L561.5 144.6 L561.8 144.6 L562.0 144.6 L562.2 144.6 L562.5 144.6 L562.8 143.7 L563.0 142.7 L563.2 141.8 L563.5 140.9 L563.8 140.0 L564.0 139.1 L564.2 138.2 L564.5 137.2 L564.8 136.3 L565.0 135.4 L565.2 134.5 L565.5 133.6 L565.8 132.7 L566.0 131.7 L566.2 130.8 L566.5 129.9 L566.8 129.0 L567.0 128.1 L567.2 127.2 L567.5 126.2 L567.8 125.3 L568.0 124.4 L568.2 123.5 L568.5 122.6 L568.8 121.7 L569.0 120.9 L569.2 120.7 L569.5 120.6 L569.8 120.5 L570.0 120.4 L570.2 120.2 L570.5 120.1 L570.8 120.0 L571.0 119.9 L571.2 119.7 L571.5 119.6 L571.8 119.5 L572.0 119.2 L572.2 118.7 L572.5 118.3 L572.8 117.9 L573.0 117.5 L573.2 117.0 L573.5 116.6 L573.8 116.2 L574.0 115.7 L574.2 115.3 L574.5 114.9 L574.8 114.5 L575.0 114.0 L575.2 113.6 L575.5 113.2 L575.8 112.7 L576.0 112.3 L576.2 111.9 L576.5 111.5 L576.8 111.0 L577.0 110.9 L577.2 111.3 L577.5 111.6 L577.8 111.9 L578.0 112.2 L578.2 112.5 L578.5 112.8 L578.8 113.1 L579.0 113.4 L579.2 113.8 L579.5 114.1 L579.8 114.4 L580.0 114.7 L580.2 115.0 L580.5 115.3 L580.8 115.6 L581.0 115.9 L581.2 116.3 L581.5 116.6 L581.8 116.9 L582.0 117.2 L582.2 117.5 L582.5 117.8 L582.8 118.5 L583.0 119.6 L583.2 120.7 L583.5 121.9 L583.8 123.0 L584.0 124.1 L584.2 125.2 L584.5 126.4 L584.8 127.5 L585.0 128.6 L585.2 129.7 L585.5 130.9 L585.8 130.8 L586.0 130.7 L586.2 130.6 L586.5 130.5 L586.8 130.3 L587.0 130.2 L587.2 130.1 L587.5 130.0 L587.8 129.8 L588.0 129.7 L588.2 129.6 L588.5 129.7 L588.8 130.3 L589.0 130.9 L589.2 131.4 L589.5 132.0 L589.8 132.6 L590.0 133.1 L590.2 133.7 L590.5 134.2 L590.8 134.8 L591.0 135.4 L591.2 135.9 L591.5 137.0 L591.8 138.2 L592.0 139.4 L592.2 140.6 L592.5 141.7 L592.8 142.9 L593.0 144.1 L593.2 145.3 L593.5 146.4 L593.8 147.7 L594.0 150.6 L594.2 153.5 L594.5 156.3 L594.8 159.2 L595.0 162.0 L595.0 164.6 L594.8 164.6 L594.5 164.5 L594.2 164.4 L594.0 164.3 L593.8 164.3 L593.5 164.2 L593.2 164.1 L593.0 164.1 L592.8 164.0 L592.5 163.9 L592.2 163.8 L592.0 163.8 L591.8 163.7 L591.5 163.6 L591.2 163.6 L591.0 163.5 L590.8 163.4 L590.5 163.4 L590.2 163.6 L590.0 163.9 L589.8 164.1 L589.5 164.3 L589.2 164.5 L589.0 164.7 L588.8 164.9 L588.5 165.2 L588.2 165.4 L588.0 165.6 L587.8 165.8 L587.5 166.0 L587.2 166.3 L587.0 166.5 L586.8 166.7 L586.5 166.9 L586.2 167.1 L586.0 167.4 L585.8 167.6 L585.5 167.8 L585.2 168.0 L585.0 168.2 L584.8 168.3 L584.5 167.7 L584.2 167.2 L584.0 166.6 L583.8 166.0 L583.5 165.5 L583.2 164.9 L583.0 164.4 L582.8 163.8 L582.5 163.2 L582.2 162.7 L582.0 162.1 L581.8 162.0 L581.5 162.2 L581.2 162.4 L581.0 162.6 L580.8 162.8 L580.5 162.9 L580.2 163.1 L580.0 163.3 L579.8 163.5 L579.5 163.6 L579.2 163.8 L579.0 164.0 L578.8 164.2 L578.5 164.4 L578.2 164.5 L578.0 164.7 L577.8 164.9 L577.5 165.1 L577.2 165.3 L577.0 165.4 L576.8 165.6 L576.5 165.8 L576.2 166.0 L576.0 166.1 L575.8 166.3 L575.5 166.5 L575.2 166.7 L575.0 166.9 L574.8 167.0 L574.5 167.2 L574.2 167.4 L574.0 167.6 L573.8 167.7 L573.5 167.9 L573.2 168.1 L573.0 168.0 L572.8 167.9 L572.5 167.8 L572.2 167.7 L572.0 167.7 L571.8 167.6 L571.5 167.5 L571.2 167.4 L571.0 167.3 L570.8 167.2 L570.5 167.2 L570.2 167.1 L570.0 167.0 L569.8 166.9 L569.5 166.8 L569.2 166.7 L569.0 166.7 L568.8 166.7 L568.5 166.7 L568.2 166.8 L568.0 166.8 L567.8 166.9 L567.5 166.9 L567.2 167.0 L567.0 167.0 L566.8 167.1 L566.5 167.1 L566.2 167.2 L566.0 167.2 L565.8 167.3 L565.5 167.3 L565.2 167.6 L565.0 168.0 L564.8 168.4 L564.5 168.8 L564.2 169.3 L564.0 169.7 L563.8 170.1 L563.5 170.6 L563.2 171.0 L563.0 171.4 L562.8 171.8 L562.5 172.3 L562.2 172.7 L562.0 173.1 L561.8 173.6 L561.5 174.0 L561.2 174.4 L561.0 174.8 L560.8 175.3 L560.5 175.7 L560.2 176.1 L560.0 176.5 L559.8 176.9 L559.5 177.2 L559.2 177.6 L559.0 178.0 L558.8 178.4 L558.5 178.7 L558.2 179.1 L558.0 179.5 L557.8 179.9 L557.5 180.2 L557.2 180.6 L557.0 181.0 L556.8 181.4 L556.5 181.7 L556.2 182.1 L556.0 182.5 L555.8 183.0 L555.5 182.8 L555.2 182.7 L555.0 182.5 L554.8 182.4 L554.5 182.3 L554.2 182.1 L554.0 182.0 L553.8 181.8 L553.5 181.7 L553.2 181.5 L553.0 181.4 L552.8 181.3 L552.5 181.1 L552.2 181.0 L552.0 181.5 L551.8 182.1 L551.5 182.6 L551.2 183.2 L551.0 183.8 L550.8 184.3 L550.5 184.9 L550.2 185.5 L550.0 186.0 L549.8 186.6 L549.5 187.1 L549.2 187.5 L549.0 187.7 L548.8 187.8 L548.5 187.9 L548.2 188.1 L548.0 188.2 L547.8 188.4 L547.5 188.5 L547.2 188.7 L547.0 188.8 L546.8 188.9 L546.5 189.1 L546.2 189.2 L546.0 189.4 L545.8 189.5 L545.5 189.7 L545.2 189.8 L545.0 189.9 L544.8 190.1 L544.5 190.2 L544.2 190.3 L544.0 190.2 L543.8 190.0 L543.5 189.9 L543.2 189.8 L543.0 189.7 L542.8 189.5 L542.5 189.4 L542.2 189.3 L542.0 189.2 L541.8 189.0 L541.5 188.9 L541.2 189.2 L541.0 189.6 L540.8 190.0 L540.5 190.4 L540.2 190.8 L540.0 191.2 L539.8 191.6 L539.5 192.1 L539.2 192.5 L539.0 192.9 L538.8 193.3 L538.5 193.7 L538.2 194.1 L538.0 194.5 L537.8 194.9 L537.5 195.3 L537.2 195.7 L537.0 196.1 L536.8 196.5 L536.5 196.9 L536.2 197.3 L536.0 197.7 L535.8 198.1 L535.5 198.1 L535.2 197.9 L535.0 197.7 L534.8 197.5 L534.5 197.3 L534.2 197.1 L534.0 196.9 L533.8 196.7 L533.5 196.5 L533.2 196.3 L533.0 196.1 L532.8 195.9 L532.5 195.7 L532.2 195.5 L532.0 195.5 L531.8 195.8 L531.5 196.1 L531.2 196.4 L531.0 196.7 L530.8 197.0 L530.5 197.3 L530.2 197.6 L530.0 197.9 L529.8 198.2 L529.5 198.5 L529.2 198.8 L529.0 199.1 L528.8 199.4 L528.5 199.7 L528.2 199.4 L528.0 199.1 L527.8 198.8 L527.5 198.4 L527.2 198.1 L527.0 197.8 L526.8 197.5 L526.5 197.2 L526.2 196.9 L526.0 196.6 L525.8 196.3 L525.5 196.2 L525.2 196.4 L525.0 196.7 L524.8 196.9 L524.5 197.2 L524.2 197.4 L524.0 197.7 L523.8 197.9 L523.5 198.2 L523.2 198.4 L523.0 198.7 L522.8 198.9 L522.5 198.9 L522.2 198.8 L522.0 198.7 L521.8 198.6 L521.5 198.6 L521.2 198.5 L521.0 198.4 L520.8 198.3 L520.5 198.2 L520.2 198.1 L520.0 198.1 L519.8 198.0 L519.5 197.9 L519.2 197.8 L519.0 197.7 L518.8 197.6 L518.5 197.6 L518.2 197.9 L518.0 198.5 L517.8 199.1 L517.5 199.6 L517.2 200.2 L517.0 200.8 L516.8 201.4 L516.5 202.0 L516.2 202.6 L516.0 202.7 L515.8 202.9 L515.5 203.0 L515.2 203.2 L515.0 203.3 L514.8 203.5 L514.5 203.6 L514.2 203.8 L514.0 203.9 L513.8 204.1 L513.5 204.2 L513.2 204.4 L513.0 204.5 L512.8 204.7 L512.5 205.3 L512.2 206.2 L512.0 207.1 L511.8 208.0 L511.5 208.8 L511.2 209.7 L511.0 210.6 L510.8 211.5 L510.5 212.4 L510.2 213.3 L510.0 214.2 L509.8 215.1 L509.5 215.3 L509.2 215.5 L509.0 215.7 L508.8 215.9 L508.5 216.1 L508.2 216.3 L508.0 216.6 L507.8 216.8 L507.5 217.0 L507.2 217.2 L507.0 217.4 L506.8 217.6 L506.5 217.8 L506.2 218.0 L506.0 218.2 L505.8 218.4 L505.5 218.6 L505.2 218.4 L505.0 218.1 L504.8 217.8 L504.5 217.5 L504.2 217.2 L504.0 216.9 L503.8 216.6 L503.5 216.2 L503.2 215.9 L503.0 215.6 L502.8 215.3 L502.5 215.2 L502.2 215.5 L502.0 215.7 L501.8 216.0 L501.5 216.3 L501.2 216.6 L501.0 216.9 L500.8 217.2 L500.5 217.5 L500.2 217.8 L500.0 218.1 L499.8 218.4 L499.5 218.7 L499.2 219.0 L499.0 219.2 L498.8 219.5 L498.5 219.8 L498.2 220.1 L498.0 220.0 L497.8 219.9 L497.5 219.8 L497.2 219.7 L497.0 219.6 L496.8 219.5 L496.5 219.4 L496.2 219.3 L496.0 219.2 L495.8 219.1 L495.5 219.0 L495.2 218.9 L495.0 218.8 L494.8 218.7 L494.5 218.7 L494.2 218.9 L494.0 219.0 L493.8 219.1 L493.5 219.2 L493.2 219.3 L493.0 219.4 L492.8 219.5 L492.5 219.6 L492.2 219.7 L492.0 219.8 L491.8 219.9 L491.5 220.0 L491.2 220.1 L491.0 220.2 L490.8 220.4 L490.5 220.5 L490.2 220.6 L490.0 220.7 L489.8 220.8 L489.5 220.8 L489.2 220.7 L489.0 220.6 L488.8 220.5 L488.5 220.4 L488.2 220.3 L488.0 220.2 L487.8 220.1 L487.5 220.0 L487.2 219.9 L487.0 219.8 L486.8 219.7 L486.5 219.6 L486.2 219.5 L486.0 219.4 L485.8 219.9 L485.5 220.3 L485.2 220.8 L485.0 221.2 L484.8 221.7 L484.5 222.1 L484.2 222.6 L484.0 223.0 L483.8 223.5 L483.5 223.9 L483.2 224.4 L483.0 224.8 L482.8 225.3 L482.5 225.7 L482.2 226.0 L482.0 226.1 L481.8 226.2 L481.5 226.3 L481.2 226.5 L481.0 226.6 L480.8 226.7 L480.5 226.8 L480.2 227.0 L480.0 227.1 L479.8 227.2 L479.5 227.3 L479.2 227.5 L479.0 227.6 L478.8 227.7 L478.5 227.8 L478.2 228.0 L478.0 228.1 L477.8 228.3 L477.5 228.5 L477.2 228.7 L477.0 228.9 L476.8 229.2 L476.5 229.4 L476.2 229.6 L476.0 229.8 L475.8 230.0 L475.5 230.2 L475.2 230.4 L475.0 230.6 L474.8 230.8 L474.5 231.0 L474.2 231.2 L474.0 231.4 L473.8 231.7 L473.5 232.1 L473.2 232.6 L473.0 233.0 L472.8 233.5 L472.5 233.9 L472.2 234.3 L472.0 234.8 L471.8 235.2 L471.5 235.7 L471.2 236.1 L471.0 236.6 L470.8 237.0 L470.5 237.5 L470.2 237.9 L470.0 238.4 L469.8 238.8 L469.5 237.9 L469.2 237.0 L469.0 236.0 L468.8 235.0 L468.5 234.1 L468.2 233.1 L468.0 232.1 L467.8 231.2 L467.5 230.2 L467.2 229.2 L467.0 228.3 L466.8 227.3 L466.5 226.8 L466.2 227.8 L466.0 228.7 L465.8 229.6 L465.5 230.5 L465.2 231.4 L465.0 232.3 L464.8 233.3 L464.5 234.2 L464.2 235.1 L464.0 236.0 L463.8 236.9 L463.5 237.8 L463.2 238.8 L463.0 239.7 L462.8 240.6 L462.5 241.5 L462.2 242.4 L462.0 242.0 L461.8 241.6 L461.5 241.1 L461.2 240.7 L461.0 240.2 L460.8 239.8 L460.5 239.3 L460.2 238.9 L460.0 238.4 L459.8 238.0 L459.5 237.5 L459.2 237.1 L459.0 236.6 L458.8 236.2 L458.5 236.4 L458.2 237.2 L458.0 238.0 L457.8 238.8 L457.5 239.6 L457.2 240.3 L457.0 241.1 L456.8 241.9 L456.5 242.7 L456.2 243.5 L456.0 244.3 L455.8 245.1 L455.5 245.8 L455.2 246.6 L455.0 247.4 L454.8 248.2 L454.5 249.0 L454.2 249.8 L454.0 250.6 L453.8 251.3 L453.5 251.7 L453.2 251.6 L453.0 251.4 L452.8 251.3 L452.5 251.1 L452.2 251.0 L452.0 250.8 L451.8 250.7 L451.5 250.5 L451.2 250.4 L451.0 250.2 L450.8 250.1 L450.5 249.9 L450.2 249.8 L450.0 249.6 L449.8 249.6 L449.5 249.5 L449.2 249.4 L449.0 249.3 L448.8 249.2 L448.5 249.1 L448.2 249.1 L448.0 249.0 L447.8 248.9 L447.5 248.8 L447.2 248.7 L447.0 248.6 L446.8 248.6 L446.5 248.5 L446.2 248.4 L446.0 248.3 L445.8 248.2 L445.5 247.8 L445.2 247.4 L445.0 246.9 L444.8 246.4 L444.5 245.9 L444.2 245.4 L444.0 244.9ZM597.0 162.3 L597.2 159.3 L597.5 156.4 L597.8 153.4 L598.0 150.4 L598.2 147.4 L598.5 144.6 L598.8 144.4 L599.0 144.3 L599.2 144.1 L599.5 143.9 L599.8 143.7 L600.0 143.5 L600.2 143.3 L600.5 143.1 L600.8 142.9 L601.0 142.8 L601.2 142.6 L601.5 143.6 L601.8 145.8 L602.0 147.9 L602.2 150.0 L602.5 152.1 L602.8 154.3 L602.8 155.7 L602.5 156.0 L602.2 156.3 L602.0 156.6 L601.8 156.9 L601.5 157.1 L601.2 157.4 L601.0 157.7 L600.8 158.0 L600.5 158.3 L600.2 158.6 L600.0 158.9 L599.8 159.1 L599.5 159.4 L599.2 159.7 L599.0 160.0 L598.8 160.4 L598.5 160.7 L598.2 161.1 L598.0 161.4 L597.8 161.8 L597.5 162.1 L597.2 162.5 L597.0 162.8ZM608.2 154.6 L608.5 154.5 L608.8 154.3 L609.0 154.2 L609.2 154.0 L609.5 153.8 L609.8 153.7 L610.0 153.5 L610.2 153.3 L610.5 153.2 L610.8 153.0 L611.0 152.9 L611.2 152.7 L611.5 152.3 L611.8 151.0 L612.0 149.8 L612.2 148.5 L612.5 147.3 L612.8 146.0 L613.0 144.8 L613.2 143.5 L613.5 142.3 L613.8 141.4 L614.0 140.7 L614.2 140.0 L614.5 139.4 L614.8 138.7 L615.0 138.0 L615.2 137.4 L615.5 136.7 L615.8 136.0 L616.0 135.8 L616.2 135.5 L616.5 135.3 L616.8 135.0 L617.0 134.8 L617.2 134.5 L617.5 134.3 L617.8 134.0 L618.0 133.8 L618.2 133.5 L618.5 133.3 L618.8 133.0 L619.0 132.8 L619.2 132.5 L619.5 132.0 L619.8 131.2 L620.0 130.4 L620.2 129.7 L620.5 128.9 L620.8 128.1 L621.0 127.4 L621.2 126.6 L621.5 125.8 L621.8 125.1 L622.0 124.3 L622.2 123.5 L622.5 122.8 L622.8 122.0 L623.0 121.2 L623.2 120.5 L623.5 121.7 L623.8 123.0 L624.0 124.3 L624.2 125.6 L624.5 126.9 L624.8 128.2 L625.0 129.4 L625.2 130.7 L625.5 132.0 L625.8 133.3 L626.0 134.6 L626.2 135.2 L626.5 135.1 L626.8 135.0 L627.0 134.8 L627.2 134.7 L627.5 134.6 L627.8 134.5 L628.0 134.3 L628.2 134.2 L628.5 134.1 L628.8 134.0 L629.0 133.8 L629.2 135.0 L629.5 136.1 L629.8 137.3 L630.0 138.5 L630.2 139.7 L630.5 140.9 L630.8 142.0 L631.0 143.2 L631.2 144.4 L631.5 145.6 L631.8 146.2 L632.0 146.5 L632.2 146.7 L632.5 147.0 L632.8 147.2 L633.0 147.5 L633.2 147.7 L633.5 148.0 L633.8 148.2 L634.0 148.5 L634.2 148.7 L634.5 149.3 L634.5 151.1 L634.2 151.3 L634.0 151.5 L633.8 151.7 L633.5 151.9 L633.2 152.0 L633.0 152.2 L632.8 152.4 L632.5 152.6 L632.2 152.8 L632.0 153.0 L631.8 153.2 L631.5 153.4 L631.2 153.5 L631.0 153.7 L630.8 153.9 L630.5 154.1 L630.2 154.3 L630.0 154.5 L629.8 154.7 L629.5 154.9 L629.2 155.0 L629.0 155.2 L628.8 155.4 L628.5 155.4 L628.2 155.3 L628.0 155.3 L627.8 155.2 L627.5 155.2 L627.2 155.1 L627.0 155.1 L626.8 155.0 L626.5 155.0 L626.2 154.9 L626.0 154.9 L625.8 154.8 L625.5 154.8 L625.2 154.7 L625.0 154.9 L624.8 155.3 L624.5 155.6 L624.2 156.0 L624.0 156.3 L623.8 156.7 L623.5 157.0 L623.2 157.4 L623.0 157.8 L622.8 158.1 L622.5 158.5 L622.2 158.8 L622.0 159.2 L621.8 159.5 L621.5 159.9 L621.2 160.3 L621.0 160.6 L620.8 161.0 L620.5 161.3 L620.2 161.7 L620.0 161.8 L619.8 161.4 L619.5 161.0 L619.2 160.7 L619.0 160.3 L618.8 159.9 L618.5 159.5 L618.2 159.2 L618.0 158.8 L617.8 158.4 L617.5 158.0 L617.2 157.7 L617.0 157.6 L616.8 157.7 L616.5 157.7 L616.2 157.8 L616.0 157.8 L615.8 157.9 L615.5 157.9 L615.2 158.0 L615.0 158.0 L614.8 158.1 L614.5 158.1 L614.2 158.2 L614.0 158.2 L613.8 158.3 L613.5 158.1 L613.2 157.7 L613.0 157.3 L612.8 156.8 L612.5 156.4 L612.2 156.0 L612.0 155.5 L611.8 155.1 L611.5 154.6 L611.2 154.2 L611.0 153.8 L610.8 153.3 L610.5 153.5 L610.2 153.8 L610.0 154.0 L609.8 154.3 L609.5 154.5 L609.2 154.8 L609.0 155.0 L608.8 155.3 L608.5 155.4 L608.2 155.3ZM645.8 152.9 L646.0 150.9 L646.2 149.0 L646.5 147.0 L646.8 145.0 L647.0 143.0 L647.2 141.1 L647.5 139.1 L647.8 137.1 L648.0 135.2 L648.2 134.6 L648.5 137.0 L648.8 139.4 L649.0 141.8 L649.2 144.2 L649.5 146.5 L649.8 148.9 L649.8 149.2 L649.5 149.2 L649.2 149.1 L649.0 149.1 L648.8 149.0 L648.5 149.0 L648.2 149.0 L648.0 149.3 L647.8 149.8 L647.5 150.3 L647.2 150.8 L647.0 151.3 L646.8 151.8 L646.5 152.3 L646.2 152.8 L646.0 153.3 L645.8 153.8ZM664.8 152.2 L665.0 151.9 L665.2 151.7 L665.5 151.4 L665.8 151.1 L666.0 150.9 L666.2 150.6 L666.5 150.3 L666.8 150.1 L667.0 149.8 L667.2 149.5 L667.5 149.2 L667.8 149.0 L668.0 148.7 L668.2 148.4 L668.5 148.2 L668.8 147.9 L669.0 147.6 L669.2 147.4 L669.5 147.1 L669.8 146.8 L670.0 146.8 L670.2 146.8 L670.5 146.8 L670.8 146.8 L671.0 146.8 L671.2 146.8 L671.5 146.8 L671.8 146.8 L672.0 146.8 L672.2 146.8 L672.5 146.8 L672.8 146.8 L673.0 146.8 L673.2 146.8 L673.5 146.8 L673.8 146.8 L674.0 146.8 L674.2 146.8 L674.5 146.8 L674.8 146.8 L675.0 146.8 L675.2 146.8 L675.5 146.8 L675.8 146.8 L676.0 146.8 L676.2 146.8 L676.5 146.8 L676.8 146.8 L677.0 146.8 L677.2 146.5 L677.5 146.3 L677.8 146.0 L678.0 145.8 L678.2 145.5 L678.5 145.3 L678.8 145.0 L679.0 144.8 L679.2 144.5 L679.5 144.3 L679.8 144.0 L680.0 143.8 L680.2 143.5 L680.5 143.3 L680.8 143.0 L681.0 142.8 L681.2 142.5 L681.5 141.1 L681.8 139.5 L682.0 137.9 L682.2 136.2 L682.5 134.6 L682.8 133.0 L683.0 131.4 L683.2 129.7 L683.5 128.1 L683.8 126.5 L684.0 124.9 L684.2 123.0 L684.5 120.5 L684.8 118.1 L685.0 115.7 L685.2 113.2 L685.5 110.8 L685.8 108.4 L686.0 106.0 L686.2 103.5 L686.5 101.1 L686.8 98.7 L687.0 99.9 L687.2 101.3 L687.5 102.7 L687.8 104.1 L688.0 105.4 L688.2 106.8 L688.5 108.2 L688.8 109.6 L689.0 111.0 L689.2 112.4 L689.5 113.8 L689.8 115.2 L690.0 116.6 L690.2 117.9 L690.5 119.3 L690.8 120.4 L691.0 121.0 L691.2 121.5 L691.5 122.1 L691.8 122.6 L692.0 123.2 L692.2 123.8 L692.5 124.3 L692.8 124.9 L693.0 125.5 L693.2 126.0 L693.5 126.6 L693.8 126.6 L694.0 126.6 L694.2 126.6 L694.5 126.6 L694.8 126.6 L695.0 126.6 L695.2 126.6 L695.5 126.6 L695.8 126.6 L696.0 126.6 L696.2 126.6 L696.5 126.6 L696.8 126.6 L697.0 126.6 L697.2 126.6 L697.5 126.6 L697.8 126.6 L698.0 126.2 L698.2 125.4 L698.5 124.7 L698.8 123.9 L699.0 123.2 L699.2 122.4 L699.5 121.7 L699.8 120.9 L700.0 120.2 L700.2 118.0 L700.5 115.8 L700.8 113.6 L701.0 111.4 L701.2 109.1 L701.5 106.9 L701.8 104.7 L702.0 102.5 L702.2 100.2 L702.5 98.0 L702.8 98.0 L703.0 99.4 L703.2 100.8 L703.5 102.3 L703.8 103.7 L704.0 105.1 L704.2 106.6 L704.5 108.0 L704.8 109.5 L705.0 110.9 L705.2 112.3 L705.5 113.8 L705.8 115.2 L706.0 116.6 L706.2 118.1 L706.5 119.5 L706.8 120.5 L707.0 121.5 L707.2 122.5 L707.5 123.5 L707.8 124.5 L708.0 125.5 L708.2 126.5 L708.5 127.5 L708.8 128.5 L709.0 129.5 L709.2 130.5 L709.5 131.5 L709.8 132.5 L710.0 133.5 L710.2 135.1 L710.5 137.0 L710.8 139.0 L711.0 140.9 L711.2 142.8 L711.5 144.8 L711.8 146.7 L712.0 148.6 L712.2 150.6 L712.5 152.5 L712.8 154.5 L713.0 156.2 L713.2 156.5 L713.5 156.9 L713.8 157.2 L714.0 157.5 L714.2 157.9 L714.5 158.2 L714.8 158.5 L715.0 158.9 L715.2 158.9 L715.5 158.6 L715.8 158.3 L716.0 158.0 L716.2 157.7 L716.5 157.4 L716.8 157.1 L717.0 156.8 L717.2 156.5 L717.5 156.2 L717.8 155.9 L718.0 155.6 L718.2 155.3 L718.5 155.0 L718.8 154.7 L719.0 153.5 L719.2 151.4 L719.5 149.2 L719.8 147.0 L720.0 144.9 L720.2 142.7 L720.5 140.5 L720.8 138.4 L721.0 136.2 L721.2 135.5 L721.5 135.0 L721.8 134.6 L722.0 134.2 L722.2 133.7 L722.5 133.3 L722.8 132.9 L723.0 132.4 L723.2 132.0 L723.5 131.6 L723.8 131.1 L724.0 130.7 L724.2 130.3 L724.5 130.5 L724.8 131.3 L725.0 132.0 L725.2 132.7 L725.5 133.5 L725.8 134.2 L726.0 134.9 L726.2 135.7 L726.5 136.4 L726.8 137.2 L727.0 137.9 L727.2 138.6 L727.5 139.4 L727.8 139.2 L728.0 138.8 L728.2 138.5 L728.5 138.2 L728.8 137.9 L729.0 137.6 L729.2 137.3 L729.5 137.0 L729.8 136.7 L730.0 136.3 L730.2 136.0 L730.5 135.6 L730.8 134.9 L731.0 134.2 L731.2 133.6 L731.5 132.9 L731.8 132.2 L732.0 131.6 L732.2 130.9 L732.5 130.2 L732.8 129.6 L733.0 129.0 L733.2 132.5 L733.5 136.0 L733.8 139.5 L734.0 143.0 L734.2 146.5 L734.5 150.0 L734.8 153.2 L735.0 153.5 L735.2 153.9 L735.5 154.3 L735.8 154.7 L736.0 155.0 L736.2 155.4 L736.5 155.8 L736.8 156.2 L737.0 156.5 L737.2 156.9 L737.5 157.3 L737.8 157.0 L738.0 156.4 L738.2 155.7 L738.5 155.0 L738.8 154.3 L739.0 153.6 L739.2 152.9 L739.5 152.3 L739.8 151.6 L740.0 150.9 L740.2 150.2 L740.5 149.5 L740.8 148.9 L741.0 150.1 L741.2 151.6 L741.5 153.1 L741.8 154.5 L742.0 156.0 L742.2 157.4 L742.5 158.9 L742.8 160.4 L743.0 161.8 L743.2 163.3 L743.5 164.4 L743.8 165.3 L743.8 165.4 L743.5 165.5 L743.2 165.6 L743.0 165.6 L742.8 165.7 L742.5 165.8 L742.2 165.8 L742.0 165.9 L741.8 165.9 L741.5 166.0 L741.2 166.1 L741.0 165.7 L740.8 165.3 L740.5 164.8 L740.2 164.4 L740.0 163.9 L739.8 163.5 L739.5 163.0 L739.2 162.6 L739.0 162.1 L738.8 161.7 L738.5 161.2 L738.2 160.8 L738.0 160.3 L737.8 159.9 L737.5 159.5 L737.2 159.2 L737.0 158.9 L736.8 158.6 L736.5 158.3 L736.2 158.0 L736.0 157.7 L735.8 157.4 L735.5 157.2 L735.2 156.9 L735.0 156.6 L734.8 156.3 L734.5 156.0 L734.2 155.7 L734.0 155.4 L733.8 155.1 L733.5 154.8 L733.2 154.6 L733.0 154.9 L732.8 155.2 L732.5 155.5 L732.2 155.8 L732.0 156.1 L731.8 156.4 L731.5 156.7 L731.2 157.0 L731.0 157.3 L730.8 157.6 L730.5 157.9 L730.2 158.2 L730.0 158.5 L729.8 158.8 L729.5 158.8 L729.2 158.7 L729.0 158.7 L728.8 158.6 L728.5 158.5 L728.2 158.4 L728.0 158.3 L727.8 158.2 L727.5 158.2 L727.2 158.6 L727.0 159.1 L726.8 159.5 L726.5 159.9 L726.2 160.4 L726.0 160.8 L725.8 161.3 L725.5 161.7 L725.2 162.1 L725.0 162.6 L724.8 163.0 L724.5 163.0 L724.2 162.5 L724.0 162.1 L723.8 161.7 L723.5 161.2 L723.2 160.8 L723.0 160.4 L722.8 160.0 L722.5 159.5 L722.2 159.1 L722.0 158.7 L721.8 158.2 L721.5 157.8 L721.2 157.4 L721.0 157.0 L720.8 156.5 L720.5 156.1 L720.2 155.7 L720.0 155.2 L719.8 154.8 L719.5 154.7 L719.2 155.1 L719.0 155.4 L718.8 155.8 L718.5 156.1 L718.2 156.5 L718.0 156.8 L717.8 157.2 L717.5 157.5 L717.2 157.9 L717.0 158.2 L716.8 158.6 L716.5 158.9 L716.2 159.3 L716.0 159.6 L715.8 160.9 L715.5 160.6 L715.2 160.3 L715.0 160.0 L714.8 159.7 L714.5 159.4 L714.2 159.1 L714.0 158.8 L713.8 158.5 L713.5 158.2 L713.2 157.9 L713.0 157.6 L712.8 157.6 L712.5 157.5 L712.2 157.5 L712.0 157.4 L711.8 157.4 L711.5 157.4 L711.2 157.3 L711.0 157.3 L710.8 157.2 L710.5 157.2 L710.2 157.2 L710.0 157.1 L709.8 157.1 L709.5 157.0 L709.2 157.0 L709.0 156.9 L708.8 156.9 L708.5 156.9 L708.2 157.0 L708.0 157.1 L707.8 157.2 L707.5 157.3 L707.2 157.4 L707.0 157.5 L706.8 157.6 L706.5 157.7 L706.2 157.8 L706.0 157.9 L705.8 158.0 L705.5 158.1 L705.2 158.2 L705.0 158.3 L704.8 158.3 L704.5 158.4 L704.2 158.5 L704.0 158.6 L703.8 158.7 L703.5 158.8 L703.2 158.9 L703.0 159.0 L702.8 159.0 L702.5 158.9 L702.2 158.8 L702.0 158.7 L701.8 158.6 L701.5 158.4 L701.2 158.3 L701.0 158.2 L700.8 158.1 L700.5 158.0 L700.2 157.9 L700.0 157.8 L699.8 157.7 L699.5 157.6 L699.2 157.5 L699.0 157.4 L698.8 157.3 L698.5 157.2 L698.2 157.1 L698.0 156.9 L697.8 157.0 L697.5 157.4 L697.2 157.7 L697.0 158.1 L696.8 158.4 L696.5 158.8 L696.2 159.1 L696.0 159.5 L695.8 159.8 L695.5 160.2 L695.2 160.5 L695.0 160.9 L694.8 161.2 L694.5 161.6 L694.2 161.9 L694.0 161.2 L693.8 160.5 L693.5 159.8 L693.2 159.1 L693.0 158.4 L692.8 157.6 L692.5 156.9 L692.2 156.2 L692.0 155.5 L691.8 154.8 L691.5 154.1 L691.2 153.4 L691.0 152.6 L690.8 151.9 L690.5 151.2 L690.2 150.5 L690.0 149.8 L689.8 149.1 L689.5 148.4 L689.2 147.6 L689.0 147.7 L688.8 147.9 L688.5 148.2 L688.2 148.4 L688.0 148.6 L687.8 148.8 L687.5 149.0 L687.2 149.3 L687.0 149.5 L686.8 149.7 L686.5 149.9 L686.2 150.2 L686.0 150.4 L685.8 150.6 L685.5 150.8 L685.2 151.0 L685.0 151.3 L684.8 151.5 L684.5 151.7 L684.2 151.9 L684.0 152.2 L683.8 152.4 L683.5 152.6 L683.2 152.8 L683.0 153.0 L682.8 153.3 L682.5 153.2 L682.2 153.0 L682.0 152.9 L681.8 152.8 L681.5 152.7 L681.2 152.5 L681.0 152.4 L680.8 152.3 L680.5 152.2 L680.2 152.0 L680.0 151.9 L679.8 151.8 L679.5 151.7 L679.2 151.5 L679.0 151.4 L678.8 151.3 L678.5 151.2 L678.2 151.0 L678.0 150.7 L677.8 150.5 L677.5 150.2 L677.2 150.0 L677.0 149.7 L676.8 149.5 L676.5 149.2 L676.2 149.0 L676.0 148.7 L675.8 148.5 L675.5 148.2 L675.2 148.2 L675.0 148.2 L674.8 148.2 L674.5 148.2 L674.2 148.2 L674.0 148.2 L673.8 148.2 L673.5 148.2 L673.2 148.2 L673.0 148.2 L672.8 148.2 L672.5 148.2 L672.2 148.2 L672.0 148.2 L671.8 148.2 L671.5 148.2 L671.2 148.2 L671.0 148.2 L670.8 148.2 L670.5 148.2 L670.2 148.2 L670.0 148.2 L669.8 148.2 L669.5 148.2 L669.2 148.2 L669.0 148.3 L668.8 148.9 L668.5 149.5 L668.2 150.0 L668.0 150.6 L667.8 151.2 L667.5 151.7 L667.2 152.3 L667.0 152.8 L666.8 153.4 L666.5 154.0 L666.2 154.5 L666.0 154.5 L665.8 154.1 L665.5 153.7 L665.2 153.3 L665.0 152.9 L664.8 152.5ZM748.2 173.6 L748.5 171.9 L748.8 170.1 L749.0 168.4 L749.2 167.2 L749.5 166.6 L749.8 166.0 L750.0 165.3 L750.2 164.7 L750.5 164.1 L750.8 163.5 L751.0 162.8 L751.2 162.2 L751.5 161.6 L751.8 161.4 L752.0 163.8 L752.2 166.1 L752.5 168.5 L752.5 170.3 L752.2 170.6 L752.0 170.9 L751.8 171.2 L751.5 171.5 L751.2 171.8 L751.0 172.1 L750.8 172.3 L750.5 172.6 L750.2 172.7 L750.0 172.8 L749.8 173.0 L749.5 173.1 L749.2 173.2 L749.0 173.3 L748.8 173.5 L748.5 173.6 L748.2 173.7ZM757.2 170.9 L757.5 169.7 L757.8 168.5 L758.0 167.4 L758.2 166.2 L758.5 165.0 L758.8 163.9 L759.0 162.7 L759.2 161.6 L759.5 160.8 L759.8 159.9 L760.0 159.1 L760.2 158.2 L760.5 157.4 L760.8 156.5 L761.0 155.7 L761.2 154.8 L761.5 154.0 L761.8 153.1 L762.0 152.3 L762.2 151.4 L762.5 150.6 L762.8 149.7 L763.0 151.3 L763.2 153.7 L763.5 156.0 L763.8 158.3 L764.0 160.6 L764.2 162.9 L764.5 165.2 L764.8 167.5 L765.0 169.8 L765.2 172.2 L765.5 174.5 L765.5 175.8 L765.2 176.1 L765.0 176.4 L764.8 176.7 L764.5 177.1 L764.2 177.4 L764.0 177.7 L763.8 178.0 L763.5 178.3 L763.2 178.1 L763.0 177.8 L762.8 177.6 L762.5 177.3 L762.2 177.1 L762.0 176.8 L761.8 176.6 L761.5 176.3 L761.2 176.1 L761.0 175.8 L760.8 175.6 L760.5 175.3 L760.2 175.1 L760.0 174.8 L759.8 174.6 L759.5 174.3 L759.2 174.1 L759.0 173.8 L758.8 173.6 L758.5 173.3 L758.2 172.9 L758.0 172.5 L757.8 172.1 L757.5 171.7 L757.2 171.3ZM770.0 170.0 L770.2 167.4 L770.5 164.7 L770.8 162.0 L771.0 159.3 L771.2 156.6 L771.5 155.0 L771.8 157.1 L772.0 159.2 L772.2 161.3 L772.5 163.4 L772.8 165.4 L773.0 167.5 L773.2 169.6 L773.5 171.7 L773.8 171.8 L774.0 170.4 L774.2 169.0 L774.5 167.6 L774.8 166.3 L775.0 164.9 L775.2 163.5 L775.5 162.1 L775.8 160.8 L776.0 159.4 L776.2 158.0 L776.5 156.7 L776.8 156.6 L777.0 156.5 L777.2 156.3 L777.5 156.2 L777.8 156.1 L778.0 156.0 L778.2 155.8 L778.5 155.7 L778.8 155.6 L779.0 155.5 L779.2 155.3 L779.5 155.6 L779.8 156.2 L780.0 156.8 L780.2 157.3 L780.5 157.9 L780.8 158.5 L781.0 159.1 L781.2 159.7 L781.5 160.3 L781.8 160.0 L782.0 159.7 L782.2 159.4 L782.5 159.1 L782.8 158.8 L783.0 158.4 L783.2 158.1 L783.5 157.8 L783.8 157.5 L784.0 157.2 L784.2 156.8 L784.5 156.5 L784.8 156.2 L785.0 155.9 L785.2 155.9 L785.5 156.1 L785.8 156.4 L786.0 156.7 L786.2 157.0 L786.5 157.2 L786.8 157.5 L787.0 157.8 L787.2 158.1 L787.5 158.3 L787.8 158.6 L788.0 158.9 L788.2 159.3 L788.5 159.6 L788.8 160.0 L789.0 160.4 L789.2 160.8 L789.5 161.1 L789.8 161.5 L790.0 161.9 L790.2 162.3 L790.5 162.6 L790.8 163.0 L791.0 163.1 L791.2 163.0 L791.5 162.9 L791.8 162.8 L792.0 162.6 L792.2 162.5 L792.5 162.4 L792.8 162.3 L793.0 162.1 L793.2 162.0 L793.5 161.9 L793.8 161.8 L794.0 162.2 L794.2 162.7 L794.5 163.2 L794.8 163.7 L795.0 164.2 L795.2 164.7 L795.5 165.2 L795.8 165.7 L796.0 166.2 L796.2 166.7 L796.5 167.2 L796.8 168.4 L797.0 170.4 L797.2 172.4 L797.5 174.4 L797.8 176.4 L798.0 178.4 L798.2 180.4 L798.5 182.4 L798.8 184.4 L799.0 186.4 L799.2 188.4 L799.5 190.4 L799.8 192.2 L800.0 193.9 L800.0 194.1 L799.8 194.6 L799.5 195.1 L799.2 195.6 L799.0 196.1 L798.8 196.6 L798.5 197.1 L798.2 197.6 L798.0 198.1 L797.8 198.6 L797.5 199.1 L797.2 199.6 L797.0 200.1 L796.8 200.6 L796.5 201.1 L796.2 201.6 L796.0 202.1 L795.8 201.8 L795.5 201.0 L795.2 200.3 L795.0 199.5 L794.8 198.8 L794.5 198.0 L794.2 197.3 L794.0 196.5 L793.8 195.8 L793.5 195.6 L793.2 195.5 L793.0 195.3 L792.8 195.1 L792.5 195.0 L792.2 194.8 L792.0 194.6 L791.8 194.5 L791.5 194.3 L791.2 194.1 L791.0 194.0 L790.8 193.8 L790.5 193.6 L790.2 193.5 L790.0 193.3 L789.8 193.1 L789.5 193.0 L789.2 192.0 L789.0 190.8 L788.8 189.6 L788.5 188.4 L788.2 187.2 L788.0 186.0 L787.8 184.9 L787.5 183.7 L787.2 182.6 L787.0 182.6 L786.8 182.6 L786.5 182.6 L786.2 182.6 L786.0 182.6 L785.8 182.6 L785.5 182.6 L785.2 182.6 L785.0 182.9 L784.8 183.5 L784.5 184.1 L784.2 184.7 L784.0 185.3 L783.8 185.9 L783.5 186.4 L783.2 187.0 L783.0 187.6 L782.8 187.1 L782.5 186.4 L782.2 185.7 L782.0 185.0 L781.8 184.3 L781.5 183.7 L781.2 183.0 L781.0 182.3 L780.8 181.6 L780.5 180.9 L780.2 180.2 L780.0 179.7 L779.8 179.4 L779.5 179.1 L779.2 178.8 L779.0 178.5 L778.8 178.2 L778.5 177.9 L778.2 177.6 L778.0 177.3 L777.8 177.0 L777.5 176.7 L777.2 176.4 L777.0 176.1 L776.8 175.8 L776.5 175.5 L776.2 175.4 L776.0 175.3 L775.8 175.2 L775.5 175.1 L775.2 175.0 L775.0 174.9 L774.8 174.9 L774.5 174.8 L774.2 174.7 L774.0 174.6 L773.8 174.5 L773.5 174.4 L773.2 174.4 L773.0 174.3 L772.8 174.2 L772.5 174.1 L772.2 174.0 L772.0 173.9 L771.8 173.8 L771.5 173.6 L771.2 173.5 L771.0 173.3 L770.8 173.2 L770.5 173.0 L770.2 172.9 L770.0 172.7ZM813.5 204.0 L813.8 203.5 L814.0 203.1 L814.2 202.7 L814.5 202.3 L814.8 201.9 L815.0 201.5 L815.2 201.0 L815.5 199.6 L815.8 197.3 L816.0 195.0 L816.2 192.7 L816.5 190.4 L816.8 188.1 L817.0 185.8 L817.2 183.5 L817.5 181.2 L817.8 178.9 L818.0 182.4 L818.2 187.9 L818.5 193.4 L818.8 198.9 L818.8 203.9 L818.5 203.5 L818.2 203.0 L818.0 203.1 L817.8 203.2 L817.5 203.4 L817.2 203.5 L817.0 203.6 L816.8 203.7 L816.5 203.9 L816.2 204.0 L816.0 204.1 L815.8 204.2 L815.5 204.4 L815.2 204.5 L815.0 204.6 L814.8 204.7 L814.5 204.9 L814.2 205.0 L814.0 205.1 L813.8 204.9 L813.5 204.5ZM824.8 208.0 L825.0 207.5 L825.2 207.0 L825.5 206.5 L825.8 206.2 L826.0 205.9 L826.2 205.5 L826.5 205.2 L826.8 204.9 L827.0 204.5 L827.2 204.2 L827.5 203.9 L827.8 203.5 L828.0 203.2 L828.2 202.9 L828.5 202.5 L828.8 202.2 L829.0 201.9 L829.2 201.5 L829.5 201.2 L829.8 200.9 L830.0 200.6 L830.2 200.3 L830.5 200.0 L830.8 199.7 L831.0 199.4 L831.2 199.1 L831.5 198.8 L831.8 198.5 L832.0 198.2 L832.2 197.9 L832.5 197.7 L832.8 197.4 L833.0 197.1 L833.2 196.8 L833.5 196.5 L833.8 196.2 L834.0 195.9 L834.2 196.2 L834.5 196.8 L834.8 197.5 L835.0 198.1 L835.2 198.7 L835.5 199.3 L835.8 200.0 L836.0 200.6 L836.2 201.2 L836.5 201.8 L836.8 202.5 L837.0 203.2 L837.2 204.6 L837.5 205.9 L837.8 207.3 L838.0 208.7 L838.2 210.1 L838.2 211.3 L838.0 211.4 L837.8 211.5 L837.5 211.6 L837.2 211.7 L837.0 211.8 L836.8 211.9 L836.5 212.0 L836.2 212.2 L836.0 212.3 L835.8 212.4 L835.5 212.5 L835.2 212.6 L835.0 212.7 L834.8 212.8 L834.5 212.9 L834.2 213.0 L834.0 213.0 L833.8 212.7 L833.5 212.3 L833.2 212.0 L833.0 211.7 L832.8 211.4 L832.5 211.1 L832.2 210.8 L832.0 210.5 L831.8 210.2 L831.5 209.8 L831.2 209.5 L831.0 209.3 L830.8 209.0 L830.5 208.8 L830.2 208.5 L830.0 208.3 L829.8 208.0 L829.5 207.8 L829.2 207.5 L829.0 207.3 L828.8 207.0 L828.5 206.8 L828.2 206.5 L828.0 206.3 L827.8 206.0 L827.5 205.8 L827.2 205.5 L827.0 205.3 L826.8 205.3 L826.5 205.7 L826.2 206.0 L826.0 206.3 L825.8 206.7 L825.5 207.0 L825.2 207.3 L825.0 207.7 L824.8 208.0ZM842.8 213.6 L843.0 211.9 L843.2 210.1 L843.5 208.4 L843.8 206.6 L844.0 204.9 L844.2 203.1 L844.5 201.4 L844.8 199.6 L845.0 199.7 L845.2 201.9 L845.5 204.2 L845.8 206.4 L846.0 208.7 L846.2 210.9 L846.5 213.4 L846.5 215.1 L846.2 215.0 L846.0 214.9 L845.8 214.8 L845.5 214.7 L845.2 214.6 L845.0 214.6 L844.8 214.5 L844.5 214.4 L844.2 214.3 L844.0 214.2 L843.8 214.1 L843.5 214.1 L843.2 214.0 L843.0 213.9 L842.8 213.8ZM860.0 221.9 L860.2 221.0 L860.5 220.3 L860.8 219.5 L861.0 218.8 L861.2 218.0 L861.5 217.6 L861.8 218.4 L862.0 219.3 L862.2 220.1 L862.5 221.0 L862.8 221.8 L863.0 222.7 L863.2 223.5 L863.5 224.4 L863.8 225.2 L864.0 226.1 L864.2 226.9 L864.5 227.8 L864.8 228.6 L865.0 229.5 L865.2 229.6 L865.5 229.5 L865.8 229.4 L866.0 229.3 L866.2 229.2 L866.5 229.1 L866.8 229.0 L867.0 228.9 L867.2 228.8 L867.5 228.7 L867.8 228.6 L868.0 228.5 L868.2 228.4 L868.5 228.3 L868.8 228.3 L869.0 228.4 L869.0 228.8 L868.8 229.3 L868.5 229.7 L868.2 230.1 L868.0 230.6 L867.8 231.0 L867.5 231.4 L867.2 231.8 L867.0 232.3 L866.8 232.7 L866.5 233.1 L866.2 233.6 L866.0 234.0 L865.8 234.4 L865.5 234.8 L865.2 235.3 L865.0 235.7 L864.8 236.1 L864.5 236.6 L864.2 236.6 L864.0 235.8 L863.8 235.0 L863.5 234.2 L863.2 233.5 L863.0 232.7 L862.8 231.9 L862.5 231.1 L862.2 230.3 L862.0 229.5 L861.8 228.7 L861.5 228.0 L861.2 227.2 L861.0 226.4 L860.8 225.6 L860.5 224.8 L860.2 224.0 L860.0 223.2ZM870.5 229.4 L870.8 229.6 L871.0 230.1 L871.0 230.2 L870.8 229.9 L870.5 229.6Z" fill="#f6c0c0" stroke="none"/>
<path d="M80.2 325.2 L80.5 327.6 L80.8 330.1 L81.0 332.6 L81.2 335.0 L81.5 337.0 L81.8 334.7 L82.0 332.5 L82.2 330.2 L82.2 328.3 L82.0 328.3 L81.8 328.2 L81.5 328.2 L81.2 328.2 L81.0 328.0 L80.8 326.9 L80.5 325.8 L80.2 324.7ZM110.2 340.4 L110.5 343.9 L110.8 347.7 L111.0 351.8 L111.2 355.8 L111.5 359.8 L111.8 361.3 L112.0 361.8 L112.2 362.2 L112.5 362.7 L112.8 363.2 L113.0 363.6 L113.2 364.1 L113.5 364.6 L113.8 364.9 L114.0 364.4 L114.2 363.8 L114.5 363.2 L114.8 362.6 L115.0 362.1 L115.2 361.5 L115.5 360.9 L115.8 360.3 L116.0 359.8 L116.2 359.2 L116.5 358.6 L116.8 358.0 L117.0 357.5 L117.2 356.5 L117.5 355.4 L117.8 354.3 L118.0 353.2 L118.2 352.1 L118.5 351.0 L118.8 350.0 L119.0 348.9 L119.2 348.0 L119.5 347.9 L119.8 347.7 L120.0 347.6 L120.2 347.5 L120.5 347.4 L120.8 347.2 L121.0 347.1 L121.2 347.0 L121.5 346.9 L121.8 346.7 L122.0 346.6 L122.2 345.0 L122.5 342.7 L122.8 340.4 L123.0 338.1 L123.2 335.7 L123.5 333.4 L123.8 333.3 L124.0 333.3 L124.2 333.4 L124.5 333.4 L124.8 333.5 L125.0 333.6 L125.2 333.6 L125.5 333.7 L125.8 333.8 L126.0 333.8 L126.2 333.9 L126.5 334.2 L126.8 334.9 L127.0 335.6 L127.2 336.3 L127.5 337.0 L127.8 337.7 L128.0 338.4 L128.2 339.1 L128.5 339.8 L128.8 340.5 L129.0 341.2 L129.2 341.9 L129.5 342.6 L129.8 343.3 L130.0 344.0 L130.2 343.3 L130.5 342.5 L130.8 341.8 L131.0 341.0 L131.2 340.3 L131.2 338.9 L131.0 338.3 L130.8 337.6 L130.5 337.4 L130.2 337.2 L130.0 337.0 L129.8 336.8 L129.5 336.6 L129.2 336.4 L129.0 336.2 L128.8 336.0 L128.5 335.9 L128.2 335.7 L128.0 335.5 L127.8 335.1 L127.5 334.5 L127.2 333.9 L127.0 333.3 L126.8 332.6 L126.5 332.0 L126.2 331.4 L126.0 330.8 L125.8 330.1 L125.5 329.5 L125.2 328.9 L125.0 328.3 L124.8 328.4 L124.5 328.7 L124.2 329.1 L124.0 329.4 L123.8 329.7 L123.5 330.0 L123.2 330.3 L123.0 330.6 L122.8 330.9 L122.5 331.2 L122.2 331.6 L122.0 331.6 L121.8 331.0 L121.5 330.5 L121.2 329.9 L121.0 329.3 L120.8 328.8 L120.5 328.2 L120.2 327.6 L120.0 327.1 L119.8 326.5 L119.5 326.0 L119.2 325.4 L119.0 325.8 L118.8 326.5 L118.5 327.1 L118.2 327.8 L118.0 328.5 L117.8 329.1 L117.5 329.8 L117.2 330.5 L117.0 331.1 L116.8 331.8 L116.5 332.6 L116.2 333.4 L116.0 334.3 L115.8 335.1 L115.5 335.9 L115.2 336.8 L115.0 337.6 L114.8 338.4 L114.5 339.3 L114.2 340.1 L114.0 340.6 L113.8 340.9 L113.5 341.2 L113.2 341.5 L113.0 341.9 L112.8 342.2 L112.5 342.5 L112.2 342.8 L112.0 343.1 L111.8 343.4 L111.5 343.7 L111.2 343.8 L111.0 342.6 L110.8 341.3 L110.5 340.1 L110.2 338.8ZM153.8 328.8 L154.0 331.3 L154.2 333.6 L154.5 335.9 L154.8 338.2 L155.0 339.4 L155.2 338.4 L155.5 337.5 L155.8 336.5 L156.0 335.5 L156.2 334.6 L156.5 333.6 L156.8 332.7 L157.0 331.7 L157.2 330.8 L157.5 329.8 L157.8 328.9 L158.0 327.9 L158.2 326.9 L158.5 326.0 L158.8 325.0 L159.0 324.0 L159.2 322.5 L159.5 321.0 L159.8 319.6 L159.8 319.4 L159.5 319.8 L159.2 320.2 L159.0 320.6 L158.8 321.1 L158.5 321.5 L158.2 321.9 L158.0 322.4 L157.8 322.8 L157.5 323.2 L157.2 323.7 L157.0 324.1 L156.8 324.6 L156.5 325.0 L156.2 325.4 L156.0 325.9 L155.8 326.1 L155.5 326.3 L155.2 326.5 L155.0 326.7 L154.8 326.9 L154.5 327.1 L154.2 327.3 L154.0 327.5 L153.8 327.7ZM160.5 318.9 L160.8 321.1 L161.0 323.3 L161.2 325.5 L161.5 327.7 L161.8 330.0 L162.0 332.2 L162.2 335.8 L162.5 340.7 L162.8 345.7 L163.0 350.6 L163.2 352.8 L163.5 352.2 L163.8 351.6 L164.0 351.0 L164.2 350.5 L164.5 349.9 L164.8 349.3 L165.0 348.7 L165.2 348.2 L165.5 347.6 L165.8 347.0 L166.0 346.4 L166.2 345.9 L166.5 345.1 L166.8 343.8 L167.0 342.5 L167.2 341.2 L167.5 339.9 L167.8 338.6 L168.0 337.3 L168.2 336.0 L168.5 334.7 L168.8 333.4 L169.0 332.1 L169.0 331.6 L168.8 332.1 L168.5 332.7 L168.2 333.3 L168.0 333.9 L167.8 334.5 L167.5 335.1 L167.2 335.7 L167.0 336.3 L166.8 336.9 L166.5 337.5 L166.2 338.1 L166.0 338.7 L165.8 339.3 L165.5 339.9 L165.2 340.3 L165.0 339.7 L164.8 339.1 L164.5 338.4 L164.2 337.8 L164.0 337.2 L163.8 336.6 L163.5 335.9 L163.2 335.3 L163.0 334.7 L162.8 334.1 L162.5 333.4 L162.2 331.5 L162.0 328.7 L161.8 326.0 L161.5 323.2 L161.2 320.5 L161.0 317.7 L160.8 317.7 L160.5 318.1ZM172.8 326.6 L173.0 326.2 L173.2 325.8 L173.5 325.4 L173.8 325.0 L174.0 324.6 L174.2 324.2 L174.5 323.8 L174.8 323.4 L175.0 323.0 L175.2 322.6 L175.5 322.5 L175.8 322.8 L176.0 323.0 L176.2 323.3 L176.5 323.5 L176.8 323.8 L177.0 324.9 L177.2 326.4 L177.5 327.8 L177.8 329.2 L178.0 330.6 L178.2 332.0 L178.5 333.4 L178.8 334.9 L179.0 336.1 L179.2 336.2 L179.5 336.3 L179.8 336.5 L180.0 336.6 L180.2 336.7 L180.5 335.9 L180.8 333.6 L181.0 331.3 L181.0 329.6 L180.8 329.2 L180.5 328.9 L180.2 328.5 L180.0 328.2 L179.8 327.8 L179.5 327.5 L179.2 327.1 L179.0 326.8 L178.8 325.7 L178.5 324.5 L178.2 323.4 L178.0 322.2 L177.8 321.0 L177.5 319.9 L177.2 318.7 L177.0 317.5 L176.8 316.8 L176.5 317.4 L176.2 318.0 L176.0 318.6 L175.8 319.2 L175.5 319.8 L175.2 320.4 L175.0 321.0 L174.8 321.6 L174.5 322.2 L174.2 322.9 L174.0 323.5 L173.8 324.1 L173.5 324.7 L173.2 325.3 L173.0 325.9 L172.8 326.5ZM232.8 316.4 L233.0 317.1 L233.2 317.8 L233.5 318.5 L233.8 319.1 L234.0 319.8 L234.2 320.5 L234.5 320.7 L234.8 320.1 L235.0 319.4 L235.0 319.3 L234.8 319.0 L234.5 318.7 L234.2 318.3 L234.0 318.0 L233.8 317.7 L233.5 317.3 L233.2 317.0 L233.0 316.7 L232.8 316.3ZM239.5 315.4 L239.8 316.3 L240.0 317.1 L240.2 317.9 L240.5 319.2 L240.8 320.7 L241.0 322.1 L241.2 323.6 L241.5 325.0 L241.8 326.5 L242.0 328.0 L242.2 329.4 L242.5 330.9 L242.8 332.3 L243.0 332.8 L243.2 331.4 L243.5 329.9 L243.8 328.5 L244.0 327.1 L244.2 325.7 L244.5 324.3 L244.8 322.8 L245.0 321.4 L245.2 320.0 L245.5 318.6 L245.8 317.2 L246.0 315.7 L246.2 315.2 L246.5 315.0 L246.8 314.8 L247.0 314.7 L247.2 314.5 L247.5 314.3 L247.8 314.2 L248.0 314.0 L248.2 313.8 L248.5 314.0 L248.8 314.1 L249.0 314.2 L249.2 314.3 L249.5 314.5 L249.8 314.6 L250.0 314.7 L250.2 314.8 L250.5 315.0 L250.8 315.1 L251.0 315.2 L251.2 314.6 L251.2 313.9 L251.0 313.5 L250.8 312.9 L250.5 312.3 L250.2 311.7 L250.0 311.0 L249.8 310.4 L249.5 309.8 L249.2 309.2 L249.0 308.5 L248.8 307.9 L248.5 307.3 L248.2 306.7 L248.0 306.7 L247.8 306.8 L247.5 306.8 L247.2 306.9 L247.0 307.0 L246.8 307.0 L246.5 307.1 L246.2 307.1 L246.0 307.2 L245.8 307.3 L245.5 307.3 L245.2 307.6 L245.0 308.1 L244.8 308.6 L244.5 309.1 L244.2 309.6 L244.0 310.1 L243.8 310.6 L243.5 311.1 L243.2 311.6 L243.0 312.1 L242.8 312.6 L242.5 313.1 L242.2 313.2 L242.0 313.4 L241.8 313.5 L241.5 313.6 L241.2 313.7 L241.0 313.9 L240.8 314.0 L240.5 314.1 L240.2 314.2 L240.0 314.4 L239.8 314.5 L239.5 314.7ZM271.2 304.9 L271.5 306.9 L271.8 308.9 L272.0 310.9 L272.2 312.3 L272.5 313.7 L272.8 315.0 L273.0 316.4 L273.2 317.7 L273.5 319.1 L273.8 320.7 L274.0 325.0 L274.2 329.4 L274.5 333.8 L274.8 338.2 L275.0 342.5 L275.2 346.9 L275.5 351.3 L275.8 355.7 L276.0 357.6 L276.2 356.3 L276.5 355.1 L276.8 353.8 L277.0 352.6 L277.2 351.3 L277.5 350.1 L277.8 348.8 L278.0 347.6 L278.2 347.5 L278.5 347.7 L278.8 347.8 L279.0 348.0 L279.2 348.2 L279.5 348.4 L279.8 348.6 L280.0 348.8 L280.2 349.0 L280.5 349.2 L280.8 349.3 L281.0 350.0 L281.2 351.8 L281.5 353.6 L281.8 355.4 L282.0 357.2 L282.2 359.0 L282.5 360.9 L282.8 362.7 L283.0 364.5 L283.2 366.3 L283.5 368.1 L283.8 369.9 L284.0 367.2 L284.2 363.1 L284.5 359.0 L284.8 354.8 L285.0 350.7 L285.2 346.5 L285.5 342.4 L285.8 338.3 L286.0 334.1 L286.2 330.0 L286.5 325.8 L286.8 321.7 L287.0 317.5 L287.2 313.4 L287.5 310.0 L287.5 309.1 L287.2 309.4 L287.0 309.6 L286.8 309.9 L286.5 310.1 L286.2 309.9 L286.0 309.3 L285.8 308.8 L285.5 308.2 L285.2 307.6 L285.0 307.1 L284.8 306.5 L284.5 306.0 L284.2 305.4 L284.0 304.8 L283.8 304.3 L283.5 303.8 L283.2 304.5 L283.0 305.2 L282.8 305.9 L282.5 306.6 L282.2 307.3 L282.0 307.9 L281.8 308.6 L281.5 309.3 L281.2 310.0 L281.0 310.7 L280.8 311.4 L280.5 311.5 L280.2 311.1 L280.0 310.8 L279.8 310.4 L279.5 310.1 L279.2 309.7 L279.0 309.4 L278.8 309.0 L278.5 308.7 L278.2 308.3 L278.0 308.0 L277.8 307.6 L277.5 307.3 L277.2 306.9 L277.0 306.7 L276.8 307.1 L276.5 307.5 L276.2 307.9 L276.0 308.3 L275.8 308.7 L275.5 309.1 L275.2 309.5 L275.0 309.9 L274.8 310.3 L274.5 310.7 L274.2 311.1 L274.0 311.5 L273.8 311.9 L273.5 312.3 L273.2 311.7 L273.0 310.9 L272.8 310.0 L272.5 309.1 L272.2 308.2 L272.0 307.4 L271.8 306.5 L271.5 305.6 L271.2 304.7ZM300.0 312.4 L300.2 313.6 L300.5 313.3 L300.8 312.9 L301.0 312.6 L301.2 312.2 L301.5 311.9 L301.8 311.5 L302.0 311.2 L302.2 310.8 L302.5 310.5 L302.8 310.1 L303.0 309.8 L303.2 309.4 L303.5 309.1 L303.8 308.7 L304.0 308.2 L304.2 307.8 L304.5 307.3 L304.8 306.8 L305.0 306.4 L305.0 306.3 L304.8 306.4 L304.5 306.5 L304.2 306.6 L304.0 306.7 L303.8 306.8 L303.5 306.9 L303.2 307.0 L303.0 307.1 L302.8 307.2 L302.5 307.3 L302.2 307.4 L302.0 307.7 L301.8 308.0 L301.5 308.4 L301.2 308.7 L301.0 309.0 L300.8 309.4 L300.5 309.7 L300.2 310.0 L300.0 310.4ZM308.8 303.5 L309.0 304.4 L309.2 305.2 L309.5 306.1 L309.8 307.0 L310.0 307.9 L310.2 308.7 L310.5 309.6 L310.8 310.5 L311.0 309.7 L311.2 307.1 L311.5 304.4 L311.8 301.8 L312.0 299.1 L312.2 295.8 L312.2 294.9 L312.0 295.5 L311.8 296.1 L311.5 296.7 L311.2 297.3 L311.0 297.9 L310.8 298.5 L310.5 299.1 L310.2 299.7 L310.0 300.3 L309.8 300.9 L309.5 301.5 L309.2 301.8 L309.0 302.1 L308.8 302.4ZM318.5 285.5 L318.8 286.1 L318.8 285.4 L318.5 285.2ZM364.2 273.6 L364.5 274.7 L364.8 275.7 L365.0 276.8 L365.2 278.3 L365.5 280.7 L365.8 283.0 L366.0 285.4 L366.2 287.8 L366.5 290.2 L366.8 292.6 L367.0 290.2 L367.2 287.5 L367.5 284.9 L367.8 282.3 L368.0 279.7 L368.2 277.3 L368.2 276.5 L368.0 276.5 L367.8 276.6 L367.5 276.6 L367.2 276.7 L367.0 276.7 L366.8 276.8 L366.5 276.8 L366.2 276.7 L366.0 276.3 L365.8 275.9 L365.5 275.5 L365.2 275.0 L365.0 274.6 L364.8 274.2 L364.5 273.8 L364.2 273.4ZM375.2 276.8 L375.5 279.4 L375.8 282.0 L376.0 284.6 L376.2 287.2 L376.5 289.9 L376.8 292.5 L377.0 292.5 L377.2 291.0 L377.5 289.5 L377.8 288.1 L378.0 286.6 L378.2 285.2 L378.5 283.7 L378.8 282.2 L379.0 280.8 L379.2 279.3 L379.5 277.8 L379.8 276.5 L379.8 276.3 L379.5 276.3 L379.2 276.2 L379.0 276.2 L378.8 276.2 L378.5 276.1 L378.2 276.1 L378.0 276.0 L377.8 276.0 L377.5 275.9 L377.2 275.9 L377.0 275.9 L376.8 275.8 L376.5 275.8 L376.2 275.7 L376.0 275.7 L375.8 275.7 L375.5 275.6 L375.2 275.6ZM383.2 277.0 L383.5 278.4 L383.8 279.8 L384.0 281.2 L384.2 282.5 L384.5 283.9 L384.8 285.3 L385.0 286.7 L385.2 282.9 L385.5 277.9 L385.5 273.8 L385.2 274.1 L385.0 274.4 L384.8 274.7 L384.5 275.0 L384.2 275.3 L384.0 275.5 L383.8 275.8 L383.5 276.1 L383.2 276.4ZM419.5 252.3 L419.8 255.3 L420.0 257.7 L420.2 260.0 L420.5 262.4 L420.8 264.7 L421.0 267.1 L421.2 269.4 L421.5 271.8 L421.8 273.6 L422.0 274.7 L422.2 275.9 L422.5 277.0 L422.8 278.2 L423.0 279.3 L423.2 280.4 L423.5 279.9 L423.8 278.0 L424.0 276.1 L424.2 274.2 L424.5 272.2 L424.8 270.3 L425.0 268.4 L425.2 266.5 L425.5 264.6 L425.8 264.9 L426.0 265.4 L426.2 265.9 L426.5 266.4 L426.8 266.9 L427.0 267.4 L427.2 268.0 L427.5 268.5 L427.8 269.0 L428.0 269.4 L428.2 268.7 L428.5 268.0 L428.8 267.3 L429.0 266.7 L429.2 266.0 L429.5 265.3 L429.8 264.6 L430.0 263.8 L430.2 262.8 L430.5 261.9 L430.8 260.9 L431.0 259.9 L431.2 258.9 L431.5 258.0 L431.8 257.0 L432.0 256.0 L432.2 255.1 L432.5 254.1 L432.8 253.2 L433.0 253.2 L433.2 253.1 L433.5 253.0 L433.8 253.0 L434.0 252.9 L434.2 252.9 L434.5 252.8 L434.8 252.7 L435.0 252.7 L435.2 252.6 L435.5 252.5 L435.8 252.4 L436.0 252.2 L436.2 252.0 L436.5 251.8 L436.8 251.6 L437.0 251.4 L437.2 251.2 L437.5 251.0 L437.8 250.8 L438.0 250.6 L438.2 250.4 L438.5 250.2 L438.8 250.0 L439.0 249.8 L439.2 249.6 L439.5 249.3 L439.8 249.1 L440.0 248.8 L440.2 248.6 L440.5 248.3 L440.8 248.1 L441.0 247.8 L441.2 247.6 L441.5 247.3 L441.8 247.1 L442.0 246.8 L442.2 246.6 L442.5 246.3 L442.8 246.1 L443.0 245.8 L443.2 245.6 L443.5 245.3 L443.8 245.1 L443.8 244.4 L443.5 243.9 L443.2 243.4 L443.0 243.0 L442.8 242.5 L442.5 242.0 L442.2 242.0 L442.0 242.6 L441.8 243.3 L441.5 243.9 L441.2 244.5 L441.0 245.1 L440.8 245.8 L440.5 246.4 L440.2 247.0 L440.0 247.6 L439.8 248.3 L439.5 248.9 L439.2 249.5 L439.0 249.4 L438.8 249.0 L438.5 248.7 L438.2 248.4 L438.0 248.0 L437.8 247.7 L437.5 247.4 L437.2 247.0 L437.0 246.7 L436.8 246.4 L436.5 246.0 L436.2 245.7 L436.0 245.4 L435.8 245.0 L435.5 244.7 L435.2 244.4 L435.0 244.0 L434.8 243.8 L434.5 243.5 L434.2 243.2 L434.0 243.0 L433.8 242.8 L433.5 242.5 L433.2 242.2 L433.0 242.0 L432.8 241.8 L432.5 241.5 L432.2 241.3 L432.0 241.0 L431.8 240.8 L431.5 240.5 L431.2 240.3 L431.0 240.7 L430.8 241.1 L430.5 241.5 L430.2 241.9 L430.0 242.3 L429.8 242.7 L429.5 243.1 L429.2 243.5 L429.0 243.9 L428.8 244.3 L428.5 244.7 L428.2 245.0 L428.0 245.4 L427.8 245.8 L427.5 246.2 L427.2 246.6 L427.0 247.0 L426.8 247.4 L426.5 247.8 L426.2 248.2 L426.0 248.1 L425.8 248.0 L425.5 247.9 L425.2 247.8 L425.0 247.7 L424.8 247.6 L424.5 247.5 L424.2 247.5 L424.0 247.4 L423.8 247.3 L423.5 247.2 L423.2 247.1 L423.0 247.0 L422.8 246.9 L422.5 246.8 L422.2 246.7 L422.0 246.6 L421.8 246.5 L421.5 246.4 L421.2 246.3 L421.0 246.2 L420.8 246.1 L420.5 246.0 L420.2 247.1 L420.0 248.3 L419.8 249.5 L419.5 250.7ZM595.2 164.9 L595.5 167.7 L595.8 170.6 L596.0 173.4 L596.2 171.3 L596.5 168.3 L596.8 165.3 L596.8 163.2 L596.5 163.5 L596.2 163.9 L596.0 164.2 L595.8 164.6 L595.5 164.8 L595.2 164.7ZM603.0 158.7 L603.2 163.8 L603.5 168.9 L603.8 174.0 L604.0 175.6 L604.2 176.0 L604.5 176.4 L604.8 176.8 L605.0 177.3 L605.2 177.7 L605.5 178.1 L605.8 178.5 L606.0 178.9 L606.2 179.3 L606.5 178.2 L606.8 174.6 L607.0 171.0 L607.2 167.4 L607.5 163.8 L607.8 160.2 L608.0 156.6 L608.0 155.3 L607.8 155.2 L607.5 155.1 L607.2 155.0 L607.0 154.9 L606.8 154.8 L606.5 154.8 L606.2 154.7 L606.0 154.6 L605.8 154.5 L605.5 154.4 L605.2 154.3 L605.0 154.3 L604.8 154.2 L604.5 154.1 L604.2 154.0 L604.0 154.3 L603.8 154.6 L603.5 154.9 L603.2 155.1 L603.0 155.4ZM634.8 154.9 L635.0 160.4 L635.2 166.0 L635.5 171.5 L635.8 177.3 L636.0 183.2 L636.2 189.2 L636.5 195.2 L636.8 201.1 L637.0 205.1 L637.2 203.4 L637.5 201.7 L637.8 200.1 L638.0 198.4 L638.2 196.7 L638.5 195.1 L638.8 193.4 L639.0 191.7 L639.2 190.1 L639.5 188.4 L639.8 186.7 L640.0 185.1 L640.2 183.4 L640.5 181.7 L640.8 180.1 L641.0 178.4 L641.2 176.7 L641.5 175.1 L641.8 173.4 L642.0 171.7 L642.2 170.4 L642.5 169.2 L642.8 168.1 L643.0 167.0 L643.2 165.8 L643.5 164.7 L643.8 163.5 L644.0 162.4 L644.2 161.3 L644.5 160.1 L644.8 159.0 L645.0 157.9 L645.2 156.7 L645.5 154.9 L645.5 154.3 L645.2 154.8 L645.0 155.3 L644.8 155.8 L644.5 156.1 L644.2 156.0 L644.0 155.9 L643.8 155.8 L643.5 155.6 L643.2 155.5 L643.0 155.4 L642.8 155.3 L642.5 155.1 L642.2 155.0 L642.0 154.9 L641.8 154.8 L641.5 154.6 L641.2 154.5 L641.0 154.4 L640.8 154.3 L640.5 154.1 L640.2 154.0 L640.0 153.7 L639.8 153.4 L639.5 153.1 L639.2 152.8 L639.0 152.5 L638.8 152.2 L638.5 151.9 L638.2 151.6 L638.0 151.3 L637.8 151.0 L637.5 150.7 L637.2 150.4 L637.0 150.1 L636.8 149.8 L636.5 149.8 L636.2 149.9 L636.0 150.1 L635.8 150.3 L635.5 150.4 L635.2 150.6 L635.0 150.8 L634.8 150.9ZM650.0 151.3 L650.2 153.7 L650.5 155.5 L650.8 157.1 L651.0 158.7 L651.2 160.3 L651.5 161.8 L651.8 163.4 L652.0 165.0 L652.2 166.6 L652.5 168.1 L652.8 167.7 L653.0 167.4 L653.2 167.1 L653.5 166.7 L653.8 166.4 L654.0 166.1 L654.2 165.7 L654.5 165.4 L654.8 165.1 L655.0 164.7 L655.2 164.4 L655.5 164.1 L655.8 163.7 L656.0 163.4 L656.2 163.1 L656.5 162.7 L656.8 162.4 L657.0 162.2 L657.2 162.1 L657.5 161.9 L657.8 161.8 L658.0 161.6 L658.2 161.5 L658.5 161.4 L658.8 161.2 L659.0 161.1 L659.2 160.9 L659.5 160.8 L659.8 160.6 L660.0 160.5 L660.2 160.4 L660.5 160.2 L660.8 160.1 L661.0 159.9 L661.2 159.8 L661.5 159.6 L661.8 159.5 L662.0 159.1 L662.2 158.4 L662.5 157.8 L662.8 157.2 L663.0 156.6 L663.2 155.9 L663.5 155.3 L663.8 154.7 L664.0 154.1 L664.2 153.4 L664.5 152.8 L664.5 152.1 L664.2 151.7 L664.0 151.3 L663.8 150.9 L663.5 150.5 L663.2 150.1 L663.0 149.7 L662.8 149.3 L662.5 149.0 L662.2 149.3 L662.0 149.6 L661.8 149.9 L661.5 150.2 L661.2 150.4 L661.0 150.7 L660.8 151.0 L660.5 151.3 L660.2 151.6 L660.0 151.9 L659.8 152.1 L659.5 152.4 L659.2 152.7 L659.0 153.0 L658.8 153.3 L658.5 153.5 L658.2 153.8 L658.0 154.1 L657.8 154.4 L657.5 154.7 L657.2 154.9 L657.0 155.2 L656.8 155.4 L656.5 155.0 L656.2 154.6 L656.0 154.2 L655.8 153.8 L655.5 153.4 L655.2 153.0 L655.0 152.6 L654.8 152.2 L654.5 151.8 L654.2 151.4 L654.0 151.0 L653.8 150.6 L653.5 150.2 L653.2 149.8 L653.0 149.7 L652.8 149.6 L652.5 149.6 L652.2 149.5 L652.0 149.5 L651.8 149.5 L651.5 149.4 L651.2 149.4 L651.0 149.4 L650.8 149.3 L650.5 149.3 L650.2 149.3 L650.0 149.2ZM744.0 166.3 L744.2 167.2 L744.5 168.1 L744.8 169.0 L745.0 169.9 L745.2 170.8 L745.5 171.8 L745.8 173.6 L746.0 175.4 L746.2 177.3 L746.5 179.2 L746.8 181.1 L747.0 182.4 L747.2 180.6 L747.5 178.9 L747.8 177.1 L748.0 175.4 L748.0 173.8 L747.8 174.0 L747.5 173.6 L747.2 173.0 L747.0 172.4 L746.8 171.8 L746.5 171.2 L746.2 170.6 L746.0 170.0 L745.8 169.4 L745.5 168.8 L745.2 168.2 L745.0 167.6 L744.8 167.0 L744.5 166.4 L744.2 165.8 L744.0 165.4ZM752.8 170.9 L753.0 173.3 L753.2 175.6 L753.5 177.9 L753.8 180.2 L754.0 182.5 L754.2 184.8 L754.5 187.1 L754.8 189.4 L755.0 189.5 L755.2 187.4 L755.5 185.2 L755.8 183.0 L756.0 180.9 L756.2 178.7 L756.5 176.5 L756.8 174.4 L757.0 172.2 L757.0 170.9 L756.8 170.5 L756.5 170.1 L756.2 169.7 L756.0 169.3 L755.8 168.9 L755.5 168.5 L755.2 168.1 L755.0 167.7 L754.8 167.7 L754.5 168.0 L754.2 168.3 L754.0 168.6 L753.8 168.8 L753.5 169.1 L753.2 169.4 L753.0 169.7 L752.8 170.0ZM765.8 176.4 L766.0 177.4 L766.2 178.4 L766.5 179.4 L766.8 180.4 L767.0 181.4 L767.2 182.3 L767.5 183.3 L767.8 184.3 L768.0 185.3 L768.2 186.3 L768.5 186.1 L768.8 183.4 L769.0 180.7 L769.2 178.1 L769.5 175.4 L769.8 172.7 L769.8 172.6 L769.5 172.4 L769.2 172.3 L769.0 172.1 L768.8 172.0 L768.5 171.9 L768.2 172.2 L768.0 172.6 L767.8 172.9 L767.5 173.2 L767.2 173.5 L767.0 173.9 L766.8 174.2 L766.5 174.5 L766.2 174.8 L766.0 175.1 L765.8 175.5ZM800.2 195.7 L800.5 197.5 L800.8 199.2 L801.0 201.0 L801.2 202.8 L801.5 204.5 L801.8 206.3 L802.0 208.1 L802.2 209.8 L802.5 211.3 L802.8 212.3 L803.0 213.3 L803.2 214.3 L803.5 215.3 L803.8 216.3 L804.0 217.3 L804.2 218.3 L804.5 219.3 L804.8 221.8 L805.0 224.9 L805.2 228.0 L805.5 231.1 L805.8 234.2 L806.0 237.3 L806.2 240.3 L806.5 243.4 L806.8 246.0 L807.0 243.9 L807.2 241.8 L807.5 239.7 L807.8 237.6 L808.0 235.5 L808.2 233.4 L808.5 231.3 L808.8 229.2 L809.0 227.1 L809.2 225.0 L809.5 222.9 L809.8 220.8 L810.0 218.7 L810.2 216.6 L810.5 215.2 L810.8 214.1 L811.0 213.0 L811.2 211.9 L811.5 210.8 L811.8 209.7 L812.0 208.6 L812.2 207.5 L812.5 206.4 L812.8 205.3 L813.0 204.8 L813.2 204.4 L813.2 204.1 L813.0 203.8 L812.8 203.4 L812.5 203.0 L812.2 202.6 L812.0 202.3 L811.8 201.9 L811.5 201.5 L811.2 201.1 L811.0 200.8 L810.8 200.4 L810.5 200.0 L810.2 199.6 L810.0 199.3 L809.8 198.9 L809.5 198.7 L809.2 198.6 L809.0 198.6 L808.8 198.5 L808.5 198.5 L808.2 198.5 L808.0 198.4 L807.8 198.4 L807.5 198.3 L807.2 198.3 L807.0 198.2 L806.8 198.2 L806.5 198.2 L806.2 198.1 L806.0 198.1 L805.8 198.0 L805.5 198.0 L805.2 197.9 L805.0 197.6 L804.8 197.2 L804.5 196.9 L804.2 196.6 L804.0 196.2 L803.8 195.9 L803.5 195.6 L803.2 195.2 L803.0 194.9 L802.8 194.6 L802.5 194.2 L802.2 193.9 L802.0 193.6 L801.8 193.2 L801.5 192.9 L801.2 192.6 L801.0 192.2 L800.8 192.6 L800.5 193.1 L800.2 193.6ZM819.0 204.6 L819.2 211.2 L819.5 217.7 L819.8 224.3 L820.0 230.8 L820.2 237.4 L820.5 244.0 L820.8 248.3 L821.0 244.6 L821.2 240.9 L821.5 237.2 L821.8 233.5 L822.0 229.9 L822.2 226.2 L822.5 222.5 L822.8 218.8 L823.0 215.1 L823.2 211.5 L823.5 210.5 L823.8 210.0 L824.0 209.5 L824.2 209.0 L824.5 208.5 L824.5 208.3 L824.2 208.7 L824.0 209.0 L823.8 209.3 L823.5 209.7 L823.2 210.0 L823.0 210.3 L822.8 210.7 L822.5 210.8 L822.2 210.3 L822.0 209.9 L821.8 209.4 L821.5 209.0 L821.2 208.5 L821.0 208.0 L820.8 207.6 L820.5 207.1 L820.2 206.7 L820.0 206.2 L819.8 205.8 L819.5 205.3 L819.2 204.8 L819.0 204.4ZM838.5 212.2 L838.8 215.6 L839.0 219.1 L839.2 222.5 L839.5 225.9 L839.8 226.0 L840.0 225.0 L840.2 223.9 L840.5 222.9 L840.8 221.9 L841.0 220.9 L841.2 219.8 L841.5 218.8 L841.8 217.8 L842.0 216.8 L842.2 215.8 L842.5 214.7 L842.5 213.6 L842.2 213.4 L842.0 213.2 L841.8 213.0 L841.5 212.8 L841.2 212.6 L841.0 212.4 L840.8 212.2 L840.5 212.0 L840.2 211.8 L840.0 211.6 L839.8 211.4 L839.5 211.2 L839.2 211.0 L839.0 211.0 L838.8 211.1 L838.5 211.2ZM846.8 216.1 L847.0 218.7 L847.2 221.3 L847.5 223.9 L847.8 226.6 L848.0 228.0 L848.2 229.4 L848.5 230.7 L848.8 232.1 L849.0 233.4 L849.2 234.8 L849.5 236.2 L849.8 237.5 L850.0 238.9 L850.2 240.2 L850.5 241.6 L850.8 242.9 L851.0 244.3 L851.2 245.7 L851.5 247.0 L851.8 248.4 L852.0 249.7 L852.2 251.1 L852.5 252.4 L852.8 253.8 L853.0 253.5 L853.2 252.7 L853.5 251.9 L853.8 251.1 L854.0 250.3 L854.2 249.5 L854.5 248.7 L854.8 247.9 L855.0 247.1 L855.2 246.3 L855.5 245.5 L855.8 244.7 L856.0 243.9 L856.2 243.1 L856.5 242.6 L856.8 242.7 L857.0 242.8 L857.2 242.9 L857.5 243.0 L857.8 243.1 L858.0 243.1 L858.2 243.2 L858.5 243.3 L858.8 240.6 L859.0 236.9 L859.2 233.1 L859.5 229.4 L859.8 225.6 L859.8 222.5 L859.5 221.7 L859.2 221.0 L859.0 221.0 L858.8 220.9 L858.5 220.9 L858.2 220.9 L858.0 220.8 L857.8 220.8 L857.5 220.7 L857.2 220.7 L857.0 220.7 L856.8 220.6 L856.5 220.6 L856.2 220.6 L856.0 220.5 L855.8 220.5 L855.5 220.5 L855.2 220.4 L855.0 220.4 L854.8 220.4 L854.5 220.3 L854.2 220.3 L854.0 219.8 L853.8 219.4 L853.5 219.0 L853.2 218.5 L853.0 218.1 L852.8 217.7 L852.5 217.2 L852.2 216.8 L852.0 216.3 L851.8 215.9 L851.5 215.5 L851.2 215.2 L851.0 215.2 L850.8 215.2 L850.5 215.2 L850.2 215.2 L850.0 215.2 L849.8 215.2 L849.5 215.2 L849.2 215.2 L849.0 215.2 L848.8 215.2 L848.5 215.2 L848.2 215.2 L848.0 215.2 L847.8 215.2 L847.5 215.2 L847.2 215.2 L847.0 215.2 L846.8 215.1ZM869.2 228.6 L869.5 228.8 L869.8 228.9 L870.0 229.1 L870.2 229.3 L870.2 229.3 L870.0 229.0 L869.8 228.7 L869.5 228.4 L869.2 228.4ZM871.2 230.7 L871.5 231.3 L871.8 231.8 L872.0 232.4 L872.2 233.0 L872.5 233.6 L872.8 234.2 L872.8 232.3 L872.5 232.0 L872.2 231.7 L872.0 231.4 L871.8 231.1 L871.5 230.8 L871.2 230.5Z" fill="#92b5d5" stroke="none"/>
<path d="M97.5 288.2 L97.8 285.5 L98.0 282.8 L98.2 280.2 L98.5 277.5 L98.8 274.8 L99.0 272.1 L99.2 269.5 L99.5 266.8 L99.8 264.1 L100.0 261.5 L100.2 261.7 L100.5 262.6 L100.8 263.5 L101.0 264.5 L101.2 265.4 L101.5 266.4 L101.8 267.3 L102.0 268.2 L102.2 269.2 L102.5 270.1 L102.8 271.0 L103.0 271.3 L103.2 270.0 L103.5 268.7 L103.8 267.3 L104.0 266.0 L104.2 264.7 L104.5 263.3 L104.8 262.0 L105.0 260.6 L105.2 259.3 L105.5 258.0 L105.8 256.6 L106.0 260.1 L106.2 265.2 L106.5 270.2 L106.8 275.3 L107.0 280.3 L107.2 285.3 L107.5 290.4 L107.8 295.4 L108.0 300.5 L108.0 304.0 L107.8 303.0 L107.5 302.0 L107.2 301.0 L107.0 300.0 L106.8 299.0 L106.5 298.0 L106.2 297.0 L106.0 296.0 L105.8 295.0 L105.5 294.0 L105.2 293.7 L105.0 293.4 L104.8 293.1 L104.5 292.8 L104.2 292.5 L104.0 292.1 L103.8 291.8 L103.5 291.5 L103.2 291.2 L103.0 290.9 L102.8 290.6 L102.5 290.4 L102.2 290.3 L102.0 290.3 L101.8 290.2 L101.5 290.1 L101.2 290.0 L101.0 290.0 L100.8 289.9 L100.5 289.8 L100.2 289.8 L100.0 289.7 L99.8 289.6 L99.5 289.5 L99.2 289.5 L99.0 289.4 L98.8 289.3 L98.5 289.3 L98.2 289.2 L98.0 289.1 L97.8 289.0 L97.5 289.0ZM136.5 283.0 L136.8 280.3 L137.0 277.6 L137.2 274.9 L137.5 272.2 L137.8 269.5 L138.0 266.8 L138.2 264.0 L138.5 261.3 L138.8 260.7 L139.0 263.0 L139.2 265.3 L139.5 267.6 L139.8 269.9 L140.0 272.1 L140.2 274.4 L140.5 276.7 L140.8 279.0 L141.0 281.3 L141.2 283.5 L141.5 285.8 L141.5 286.1 L141.2 285.7 L141.0 285.5 L140.8 285.9 L140.5 286.3 L140.2 286.6 L140.0 287.0 L139.8 287.4 L139.5 287.7 L139.2 288.1 L139.0 288.5 L138.8 288.8 L138.5 288.8 L138.2 288.4 L138.0 288.0 L137.8 287.7 L137.5 287.3 L137.2 286.9 L137.0 286.5 L136.8 286.2 L136.5 285.8ZM147.5 292.4 L147.8 286.7 L148.0 281.0 L148.2 275.3 L148.5 269.6 L148.8 263.9 L149.0 258.2 L149.2 252.5 L149.5 246.8 L149.8 241.9 L150.0 247.3 L150.2 252.7 L150.5 258.2 L150.8 263.6 L151.0 269.0 L151.2 274.5 L151.5 279.9 L151.8 285.4 L151.8 287.7 L151.5 288.4 L151.2 289.1 L151.0 289.8 L150.8 290.5 L150.5 291.1 L150.2 291.8 L150.0 292.5 L149.8 293.2 L149.5 293.9 L149.2 294.0 L149.0 293.9 L148.8 293.8 L148.5 293.7 L148.2 293.6 L148.0 293.6 L147.8 293.5 L147.5 293.4ZM219.0 289.4 L219.2 289.0 L219.5 288.5 L219.8 288.0 L220.0 287.5 L220.2 287.0 L220.5 286.6 L220.8 286.2 L220.8 287.1 L220.5 287.5 L220.2 287.9 L220.0 288.3 L219.8 288.6 L219.5 288.9 L219.2 289.2 L219.0 289.5ZM289.0 290.2 L289.2 286.9 L289.5 286.4 L289.8 286.3 L290.0 286.2 L290.2 286.2 L290.5 286.1 L290.8 286.0 L291.0 285.9 L291.2 285.8 L291.5 285.5 L291.8 284.4 L292.0 283.3 L292.2 282.2 L292.5 281.1 L292.8 280.0 L293.0 278.9 L293.2 277.8 L293.5 276.6 L293.8 275.5 L294.0 274.4 L294.2 273.3 L294.5 272.2 L294.8 271.1 L295.0 271.8 L295.2 272.5 L295.5 273.3 L295.8 274.0 L296.0 274.7 L296.2 275.5 L296.5 276.2 L296.8 276.9 L297.0 277.7 L297.2 278.7 L297.5 281.0 L297.5 282.4 L297.2 283.2 L297.0 283.9 L296.8 284.7 L296.5 285.4 L296.2 285.7 L296.0 285.9 L295.8 286.1 L295.5 286.3 L295.2 286.5 L295.0 286.7 L294.8 286.9 L294.5 287.1 L294.2 287.3 L294.0 287.5 L293.8 287.7 L293.5 287.9 L293.2 288.1 L293.0 288.3 L292.8 288.6 L292.5 289.0 L292.2 289.4 L292.0 289.8 L291.8 290.2 L291.5 290.6 L291.2 291.0 L291.0 291.4 L290.8 291.8 L290.5 292.2 L290.2 292.6 L290.0 293.0 L289.8 293.4 L289.5 293.8 L289.2 294.1 L289.0 293.6ZM338.2 262.7 L338.5 261.6 L338.8 260.5 L339.0 259.3 L339.2 257.5 L339.5 255.7 L339.8 253.8 L340.0 252.0 L340.2 250.2 L340.5 248.3 L340.8 246.5 L341.0 244.7 L341.2 245.4 L341.5 248.7 L341.8 252.0 L342.0 255.3 L342.2 258.6 L342.2 262.0 L342.0 262.2 L341.8 262.4 L341.5 262.6 L341.2 262.8 L341.0 263.0 L340.8 263.2 L340.5 263.4 L340.2 263.6 L340.0 263.8 L339.8 264.0 L339.5 264.2 L339.2 264.4 L339.0 264.6 L338.8 264.3 L338.5 263.9 L338.2 263.5ZM358.2 267.1 L358.5 266.6 L358.5 267.5 L358.2 267.8ZM397.5 245.6 L397.8 246.1 L398.0 246.6 L398.2 247.0 L398.2 247.3 L398.0 247.1 L397.8 246.4 L397.5 245.7ZM414.0 224.3 L414.2 223.4 L414.5 222.6 L414.8 221.7 L415.0 220.9 L415.2 220.0 L415.5 219.6 L415.8 220.4 L416.0 221.2 L416.2 222.0 L416.5 222.8 L416.8 223.7 L417.0 224.5 L417.2 225.3 L417.5 226.1 L417.8 226.9 L418.0 227.7 L418.2 228.5 L418.5 233.2 L418.5 233.6 L418.2 234.2 L418.0 234.9 L417.8 235.6 L417.5 235.7 L417.2 235.0 L417.0 234.3 L416.8 233.5 L416.5 232.8 L416.2 232.1 L416.0 231.4 L415.8 230.7 L415.5 230.0 L415.2 229.3 L415.0 228.6 L414.8 227.9 L414.5 227.2 L414.2 226.5 L414.0 225.8ZM483.5 201.7 L483.8 200.1 L484.0 198.5 L484.2 197.0 L484.5 195.4 L484.8 193.9 L485.0 192.3 L485.2 190.7 L485.5 189.2 L485.8 187.6 L486.0 186.0 L486.2 185.1 L486.5 184.3 L486.8 183.4 L487.0 182.5 L487.2 181.6 L487.5 180.8 L487.8 179.9 L488.0 179.0 L488.2 178.1 L488.5 177.3 L488.8 176.4 L489.0 175.7 L489.2 175.3 L489.5 174.8 L489.8 174.4 L490.0 174.0 L490.2 173.5 L490.5 173.1 L490.8 172.7 L491.0 172.2 L491.2 171.8 L491.5 171.3 L491.8 170.9 L492.0 170.7 L492.2 170.5 L492.5 170.3 L492.8 170.1 L493.0 170.0 L493.2 169.8 L493.5 169.6 L493.8 169.4 L494.0 169.2 L494.2 169.0 L494.5 168.8 L494.8 170.1 L495.0 173.4 L495.2 176.8 L495.5 180.1 L495.8 183.4 L496.0 186.8 L496.2 190.1 L496.2 193.3 L496.0 193.9 L495.8 194.5 L495.5 195.1 L495.2 195.6 L495.0 196.2 L494.8 196.8 L494.5 197.4 L494.2 198.0 L494.0 198.6 L493.8 199.1 L493.5 199.7 L493.2 200.3 L493.0 200.9 L492.8 201.5 L492.5 202.1 L492.2 202.6 L492.0 203.2 L491.8 203.8 L491.5 204.4 L491.2 205.0 L491.0 205.4 L490.8 204.9 L490.5 204.5 L490.2 204.0 L490.0 203.6 L489.8 203.1 L489.5 202.7 L489.2 202.2 L489.0 201.8 L488.8 201.3 L488.5 200.9 L488.2 200.4 L488.0 200.0 L487.8 199.5 L487.5 199.1 L487.2 199.2 L487.0 199.5 L486.8 199.8 L486.5 200.1 L486.2 200.4 L486.0 200.7 L485.8 201.0 L485.5 201.3 L485.2 201.6 L485.0 201.9 L484.8 202.2 L484.5 202.5 L484.2 202.8 L484.0 203.1 L483.8 203.1 L483.5 202.5ZM501.2 197.5 L501.5 197.5 L501.8 197.5 L502.0 197.5 L502.2 197.5 L502.5 197.5 L502.8 197.2 L503.0 196.7 L503.2 196.2 L503.5 195.7 L503.8 195.2 L504.0 194.7 L504.2 194.2 L504.5 193.7 L504.8 193.2 L505.0 192.7 L505.2 192.2 L505.5 191.7 L505.8 191.4 L506.0 191.1 L506.2 190.8 L506.5 190.4 L506.8 190.1 L507.0 189.8 L507.2 189.5 L507.5 189.2 L507.8 188.9 L508.0 188.6 L508.2 188.3 L508.2 188.3 L508.0 188.9 L507.8 189.4 L507.5 189.9 L507.2 190.5 L507.0 191.0 L506.8 191.5 L506.5 192.0 L506.2 192.6 L506.0 193.1 L505.8 193.6 L505.5 194.2 L505.2 194.7 L505.0 195.2 L504.8 195.8 L504.5 196.3 L504.2 196.8 L504.0 197.4 L503.8 197.9 L503.5 198.4 L503.2 199.0 L503.0 199.5 L502.8 200.0 L502.5 200.3 L502.2 199.8 L502.0 199.3 L501.8 198.8 L501.5 198.3 L501.2 197.8ZM515.2 168.7 L515.5 168.2 L515.8 167.6 L516.0 167.1 L516.2 166.6 L516.5 167.1 L516.8 167.6 L517.0 168.1 L517.2 168.6 L517.5 169.1 L517.8 169.6 L518.0 170.1 L518.2 170.6 L518.5 170.9 L518.8 170.9 L519.0 171.0 L519.2 171.0 L519.5 171.1 L519.8 171.1 L520.0 171.1 L520.2 171.2 L520.5 171.2 L520.8 171.3 L521.0 171.3 L521.2 171.4 L521.5 171.4 L521.8 171.4 L522.0 171.5 L522.2 171.5 L522.5 171.6 L522.8 171.5 L523.0 170.5 L523.2 169.5 L523.5 168.5 L523.8 167.5 L524.0 166.5 L524.2 165.5 L524.5 164.5 L524.8 163.5 L525.0 162.5 L525.2 161.5 L525.5 160.5 L525.8 159.8 L526.0 159.4 L526.2 158.9 L526.5 158.4 L526.8 158.0 L527.0 157.5 L527.2 157.0 L527.5 156.6 L527.8 156.1 L528.0 155.6 L528.2 155.2 L528.5 154.7 L528.8 154.2 L529.0 153.8 L529.2 153.3 L529.5 152.9 L529.8 152.4 L530.0 151.9 L530.2 151.5 L530.5 151.0 L530.8 151.4 L531.0 152.9 L531.2 154.5 L531.5 156.1 L531.5 157.7 L531.2 158.2 L531.0 158.7 L530.8 159.2 L530.5 159.4 L530.2 159.5 L530.0 159.6 L529.8 159.7 L529.5 159.8 L529.2 159.9 L529.0 160.0 L528.8 160.1 L528.5 160.2 L528.2 160.3 L528.0 160.4 L527.8 160.5 L527.5 160.6 L527.2 160.7 L527.0 161.0 L526.8 161.9 L526.5 162.9 L526.2 163.8 L526.0 164.7 L525.8 165.7 L525.5 166.6 L525.2 167.5 L525.0 168.5 L524.8 169.4 L524.5 170.4 L524.2 171.3 L524.0 171.9 L523.8 172.3 L523.5 172.7 L523.2 173.0 L523.0 173.4 L522.8 173.8 L522.5 174.2 L522.2 174.6 L522.0 175.0 L521.8 175.4 L521.5 175.8 L521.2 176.2 L521.0 176.6 L520.8 177.0 L520.5 177.4 L520.2 177.8 L520.0 178.2 L519.8 178.5 L519.5 178.9 L519.2 179.3 L519.0 179.2 L518.8 178.6 L518.5 177.9 L518.2 177.3 L518.0 176.6 L517.8 176.0 L517.5 175.3 L517.2 174.7 L517.0 174.1 L516.8 173.4 L516.5 172.8 L516.2 172.1 L516.0 171.5 L515.8 170.8 L515.5 170.2 L515.2 169.6ZM534.8 159.4 L535.0 158.7 L535.2 158.1 L535.5 157.4 L535.8 156.8 L536.0 156.1 L536.2 155.5 L536.5 154.9 L536.8 154.6 L537.0 154.3 L537.2 153.9 L537.5 153.6 L537.8 153.3 L538.0 152.9 L538.2 152.6 L538.5 152.3 L538.8 152.7 L539.0 153.5 L539.2 154.2 L539.5 155.0 L539.8 155.7 L540.0 156.5 L540.2 157.2 L540.5 158.0 L540.8 158.6 L541.0 157.6 L541.2 156.6 L541.5 155.6 L541.8 154.6 L542.0 153.6 L542.2 152.6 L542.5 151.6 L542.8 150.6 L543.0 149.6 L543.2 148.7 L543.5 147.7 L543.8 146.8 L544.0 145.9 L544.2 146.3 L544.5 146.8 L544.8 147.2 L545.0 147.6 L545.2 148.1 L545.5 148.5 L545.8 148.9 L546.0 149.3 L546.2 149.8 L546.5 150.2 L546.8 150.1 L547.0 149.9 L547.2 149.8 L547.5 149.7 L547.8 149.5 L548.0 149.4 L548.2 149.3 L548.5 149.2 L548.8 148.8 L549.0 148.3 L549.2 147.8 L549.5 147.4 L549.8 146.9 L550.0 146.4 L550.2 145.9 L550.5 145.4 L550.8 144.9 L551.0 144.4 L551.2 143.9 L551.5 143.5 L551.8 143.0 L552.0 142.5 L552.2 142.3 L552.5 143.0 L552.8 143.8 L553.0 144.6 L553.2 145.4 L553.5 146.2 L553.8 147.0 L554.0 147.8 L554.2 148.6 L554.5 149.4 L554.8 148.1 L555.0 145.4 L555.2 142.7 L555.5 140.0 L555.8 137.3 L556.0 134.6 L556.2 135.4 L556.5 136.3 L556.8 137.2 L557.0 138.1 L557.2 138.9 L557.5 139.8 L557.8 140.7 L558.0 141.6 L558.2 142.4 L558.5 143.3 L558.8 144.2 L559.0 144.6 L559.2 144.6 L559.5 144.6 L559.8 144.6 L560.0 144.6 L560.2 144.6 L560.5 144.6 L560.8 144.6 L561.0 144.6 L561.2 144.6 L561.5 144.6 L561.8 144.6 L562.0 144.6 L562.2 144.6 L562.5 144.6 L562.8 143.7 L563.0 142.7 L563.2 141.8 L563.5 140.9 L563.8 140.0 L564.0 139.1 L564.2 138.2 L564.5 137.2 L564.8 136.3 L565.0 135.4 L565.2 134.5 L565.5 133.6 L565.8 132.7 L566.0 131.7 L566.2 130.8 L566.5 129.9 L566.8 129.0 L567.0 128.1 L567.2 127.2 L567.5 126.2 L567.8 125.3 L568.0 124.4 L568.2 123.5 L568.5 122.6 L568.8 121.7 L569.0 120.9 L569.2 120.7 L569.5 120.6 L569.8 120.5 L570.0 120.4 L570.2 120.2 L570.5 120.1 L570.8 120.0 L571.0 119.9 L571.2 119.7 L571.5 119.6 L571.8 119.5 L572.0 119.2 L572.2 118.7 L572.5 118.3 L572.8 117.9 L573.0 117.5 L573.2 117.0 L573.5 116.6 L573.8 116.2 L574.0 115.7 L574.2 115.3 L574.5 114.9 L574.8 114.5 L575.0 114.0 L575.2 113.6 L575.5 113.2 L575.8 112.7 L576.0 112.3 L576.2 111.9 L576.5 111.5 L576.8 111.0 L577.0 110.9 L577.2 111.3 L577.5 111.6 L577.8 111.9 L578.0 112.2 L578.2 112.5 L578.5 112.8 L578.8 113.1 L579.0 113.4 L579.2 113.8 L579.5 114.1 L579.8 114.4 L580.0 114.7 L580.2 115.0 L580.5 115.3 L580.8 115.6 L581.0 115.9 L581.2 116.3 L581.5 116.6 L581.8 116.9 L582.0 117.2 L582.2 117.5 L582.5 117.8 L582.8 118.5 L583.0 119.6 L583.2 120.7 L583.5 121.9 L583.8 123.0 L584.0 124.1 L584.2 125.2 L584.5 126.4 L584.8 127.5 L585.0 128.6 L585.2 129.7 L585.5 130.9 L585.8 130.8 L586.0 130.7 L586.2 130.6 L586.5 130.5 L586.8 130.3 L587.0 130.2 L587.2 130.1 L587.5 130.0 L587.8 129.8 L588.0 129.7 L588.2 129.6 L588.5 129.7 L588.8 130.3 L589.0 130.9 L589.2 131.4 L589.5 132.0 L589.8 132.6 L590.0 133.1 L590.2 133.7 L590.5 134.2 L590.8 134.8 L591.0 135.4 L591.2 135.9 L591.5 137.0 L591.8 138.2 L592.0 139.4 L592.2 140.6 L592.5 141.7 L592.8 142.9 L593.0 144.1 L593.2 145.3 L593.5 146.4 L593.8 147.7 L594.0 150.6 L594.0 152.2 L593.8 151.7 L593.5 151.1 L593.2 150.6 L593.0 150.0 L592.8 149.5 L592.5 148.9 L592.2 148.4 L592.0 147.8 L591.8 147.3 L591.5 146.7 L591.2 146.2 L591.0 145.6 L590.8 145.1 L590.5 144.7 L590.2 145.0 L590.0 145.4 L589.8 145.7 L589.5 146.0 L589.2 146.3 L589.0 146.7 L588.8 147.0 L588.5 147.3 L588.2 147.6 L588.0 147.9 L587.8 148.3 L587.5 148.6 L587.2 148.9 L587.0 149.2 L586.8 149.5 L586.5 149.9 L586.2 150.2 L586.0 150.5 L585.8 150.8 L585.5 151.1 L585.2 150.6 L585.0 150.2 L584.8 149.7 L584.5 149.3 L584.2 148.8 L584.0 148.4 L583.8 147.9 L583.5 147.5 L583.2 147.0 L583.0 146.6 L582.8 146.1 L582.5 145.7 L582.2 145.2 L582.0 144.8 L581.8 145.0 L581.5 145.6 L581.2 146.1 L581.0 146.6 L580.8 147.2 L580.5 147.7 L580.2 148.3 L580.0 148.8 L579.8 149.3 L579.5 149.9 L579.2 150.4 L579.0 151.0 L578.8 151.5 L578.5 152.1 L578.2 152.6 L578.0 153.1 L577.8 153.7 L577.5 153.9 L577.2 153.7 L577.0 153.5 L576.8 153.3 L576.5 153.1 L576.2 152.9 L576.0 152.7 L575.8 152.5 L575.5 152.3 L575.2 152.1 L575.0 151.9 L574.8 151.7 L574.5 151.5 L574.2 151.3 L574.0 151.1 L573.8 151.3 L573.5 151.6 L573.2 151.8 L573.0 152.0 L572.8 152.2 L572.5 152.4 L572.2 152.6 L572.0 152.8 L571.8 153.1 L571.5 153.3 L571.2 153.5 L571.0 153.7 L570.8 153.9 L570.5 154.1 L570.2 154.3 L570.0 154.6 L569.8 154.8 L569.5 155.0 L569.2 155.2 L569.0 155.4 L568.8 154.8 L568.5 154.1 L568.2 153.3 L568.0 152.6 L567.8 151.8 L567.5 151.1 L567.2 150.3 L567.0 149.6 L566.8 148.8 L566.5 148.1 L566.2 147.3 L566.0 146.9 L565.8 147.4 L565.5 147.8 L565.2 148.3 L565.0 148.7 L564.8 149.1 L564.5 149.6 L564.2 150.0 L564.0 150.4 L563.8 150.9 L563.5 151.3 L563.2 151.8 L563.0 152.1 L562.8 152.4 L562.5 152.7 L562.2 153.0 L562.0 153.3 L561.8 153.7 L561.5 154.0 L561.2 154.3 L561.0 154.6 L560.8 154.9 L560.5 155.2 L560.2 155.5 L560.0 155.9 L559.8 156.2 L559.5 156.5 L559.2 156.9 L559.0 157.2 L558.8 157.5 L558.5 157.9 L558.2 158.2 L558.0 158.5 L557.8 158.9 L557.5 159.2 L557.2 159.5 L557.0 159.9 L556.8 160.2 L556.5 160.5 L556.2 160.9 L556.0 161.2 L555.8 153.0 L555.5 153.2 L555.2 153.4 L555.0 153.6 L554.8 153.7 L554.5 153.9 L554.2 154.1 L554.0 154.3 L553.8 154.4 L553.5 154.6 L553.2 154.8 L553.0 155.0 L552.8 155.1 L552.5 155.3 L552.2 155.5 L552.0 155.7 L551.8 155.8 L551.5 156.0 L551.2 156.2 L551.0 156.3 L550.8 156.4 L550.5 156.2 L550.2 156.0 L550.0 155.8 L549.8 155.6 L549.5 155.4 L549.2 155.2 L549.0 155.0 L548.8 154.8 L548.5 154.6 L548.2 154.3 L548.0 154.1 L547.8 153.9 L547.5 153.7 L547.2 153.5 L547.0 153.3 L546.8 153.1 L546.5 152.9 L546.2 153.6 L546.0 154.3 L545.8 155.1 L545.5 155.8 L545.2 156.6 L545.0 157.3 L544.8 158.1 L544.5 158.8 L544.2 159.6 L544.0 160.3 L543.8 161.1 L543.5 161.8 L543.2 162.6 L543.0 163.3 L542.8 163.6 L542.5 163.5 L542.2 163.4 L542.0 163.2 L541.8 163.1 L541.5 163.0 L541.2 162.9 L541.0 162.7 L540.8 162.6 L540.5 162.5 L540.2 162.4 L540.0 162.2 L539.8 162.4 L539.5 162.5 L539.2 162.7 L539.0 162.8 L538.8 163.0 L538.5 163.1 L538.2 163.3 L538.0 163.4 L537.8 163.6 L537.5 163.7 L537.2 163.9 L537.0 164.0 L536.8 164.2 L536.5 164.3 L536.2 164.0 L536.0 163.3 L535.8 162.7 L535.5 162.0 L535.2 161.4 L535.0 160.7 L534.8 160.1ZM598.2 147.4 L598.5 144.6 L598.8 144.4 L599.0 144.3 L599.2 144.1 L599.5 143.9 L599.8 143.7 L600.0 143.5 L600.2 143.3 L600.5 143.1 L600.8 142.9 L601.0 142.8 L601.2 142.6 L601.5 143.6 L601.5 146.0 L601.2 146.3 L601.0 146.6 L600.8 146.9 L600.5 147.2 L600.2 147.5 L600.0 147.8 L599.8 148.1 L599.5 148.4 L599.2 148.7 L599.0 149.1 L598.8 149.4 L598.5 149.7 L598.2 149.8ZM619.5 132.0 L619.8 131.2 L620.0 130.4 L620.2 129.7 L620.5 128.9 L620.8 128.1 L621.0 127.4 L621.2 126.6 L621.5 125.8 L621.8 125.1 L622.0 124.3 L622.2 123.5 L622.5 122.8 L622.8 122.0 L623.0 121.2 L623.2 120.5 L623.5 121.7 L623.8 123.0 L624.0 124.3 L624.2 125.6 L624.5 126.9 L624.8 128.2 L625.0 129.4 L625.2 130.7 L625.5 132.0 L625.8 133.3 L626.0 134.6 L626.2 135.2 L626.5 135.1 L626.8 135.0 L627.0 134.8 L627.2 134.7 L627.5 134.6 L627.8 134.5 L628.0 134.3 L628.2 134.2 L628.2 134.3 L628.0 134.6 L627.8 134.7 L627.5 134.9 L627.2 135.1 L627.0 135.3 L626.8 135.5 L626.5 135.6 L626.2 135.8 L626.0 136.0 L625.8 136.2 L625.5 136.4 L625.2 136.5 L625.0 136.7 L624.8 136.9 L624.5 137.1 L624.2 137.2 L624.0 137.4 L623.8 137.6 L623.5 137.8 L623.2 138.0 L623.0 138.1 L622.8 137.8 L622.5 137.4 L622.2 137.0 L622.0 136.6 L621.8 136.2 L621.5 135.8 L621.2 135.4 L621.0 135.0 L620.8 134.6 L620.5 134.2 L620.2 133.8 L620.0 133.4 L619.8 133.0 L619.5 132.6ZM648.0 135.2 L648.2 134.6 L648.2 135.9 L648.0 136.3ZM683.0 131.4 L683.2 129.7 L683.5 128.1 L683.8 126.5 L684.0 124.9 L684.2 123.0 L684.5 120.5 L684.8 118.1 L685.0 115.7 L685.2 113.2 L685.5 110.8 L685.8 108.4 L686.0 106.0 L686.2 103.5 L686.5 101.1 L686.8 98.7 L687.0 99.9 L687.2 101.3 L687.5 102.7 L687.8 104.1 L688.0 105.4 L688.2 106.8 L688.5 108.2 L688.8 109.6 L689.0 111.0 L689.2 112.4 L689.5 113.8 L689.8 115.2 L690.0 116.6 L690.2 117.9 L690.5 119.3 L690.8 120.4 L691.0 121.0 L691.2 121.5 L691.5 122.1 L691.8 122.6 L692.0 123.2 L692.2 123.8 L692.5 124.3 L692.8 124.9 L693.0 125.5 L693.0 126.5 L692.8 127.4 L692.5 128.3 L692.2 129.2 L692.0 130.1 L691.8 131.0 L691.5 131.9 L691.2 132.4 L691.0 132.4 L690.8 132.4 L690.5 132.4 L690.2 132.4 L690.0 132.4 L689.8 132.4 L689.5 132.4 L689.2 132.4 L689.0 132.4 L688.8 132.4 L688.5 132.4 L688.2 132.4 L688.0 132.4 L687.8 132.4 L687.5 132.4 L687.2 132.4 L687.0 132.4 L686.8 132.4 L686.5 132.4 L686.2 132.4 L686.0 132.4 L685.8 132.4 L685.5 132.4 L685.2 132.4 L685.0 132.4 L684.8 132.4 L684.5 132.4 L684.2 132.4 L684.0 132.4 L683.8 132.4 L683.5 132.4 L683.2 132.4 L683.0 132.4ZM696.0 126.6 L696.2 126.6 L696.5 126.6 L696.8 126.6 L697.0 126.6 L697.2 126.6 L697.5 126.6 L697.8 126.6 L698.0 126.2 L698.2 125.4 L698.5 124.7 L698.8 123.9 L699.0 123.2 L699.2 122.4 L699.5 121.7 L699.8 120.9 L700.0 120.2 L700.2 118.0 L700.5 115.8 L700.8 113.6 L701.0 111.4 L701.2 109.1 L701.5 106.9 L701.8 104.7 L702.0 102.5 L702.2 100.2 L702.5 98.0 L702.8 98.0 L703.0 99.4 L703.2 100.8 L703.5 102.3 L703.8 103.7 L704.0 105.1 L704.2 106.6 L704.5 108.0 L704.8 109.5 L705.0 110.9 L705.2 112.3 L705.5 113.8 L705.8 115.2 L706.0 116.6 L706.2 118.1 L706.5 119.5 L706.8 120.5 L707.0 121.5 L707.2 122.5 L707.5 123.5 L707.8 124.5 L708.0 125.5 L708.2 126.5 L708.5 127.5 L708.8 128.5 L709.0 129.5 L709.2 130.5 L709.5 131.5 L709.8 132.5 L710.0 133.5 L710.2 135.1 L710.5 137.0 L710.5 137.4 L710.2 137.1 L710.0 136.8 L709.8 136.5 L709.5 136.2 L709.2 136.2 L709.0 136.5 L708.8 136.8 L708.5 137.1 L708.2 137.4 L708.0 137.7 L707.8 138.0 L707.5 138.3 L707.2 138.7 L707.0 139.0 L706.8 139.3 L706.5 139.6 L706.2 139.8 L706.0 140.1 L705.8 140.3 L705.5 140.6 L705.2 140.8 L705.0 141.1 L704.8 141.3 L704.5 141.6 L704.2 141.8 L704.0 142.1 L703.8 142.3 L703.5 142.6 L703.2 142.8 L703.0 143.1 L702.8 143.1 L702.5 142.9 L702.2 142.7 L702.0 142.5 L701.8 142.3 L701.5 142.2 L701.2 142.0 L701.0 141.8 L700.8 141.6 L700.5 141.4 L700.2 141.2 L700.0 141.0 L699.8 140.2 L699.5 139.3 L699.2 138.5 L699.0 137.6 L698.8 136.8 L698.5 135.9 L698.2 135.1 L698.0 134.2 L697.8 133.4 L697.5 132.5 L697.2 131.7 L697.0 130.8 L696.8 130.0 L696.5 129.1 L696.2 128.1 L696.0 127.1ZM722.0 134.2 L722.2 133.7 L722.5 133.3 L722.8 132.9 L723.0 132.4 L723.2 132.0 L723.5 131.6 L723.8 131.1 L724.0 130.7 L724.2 130.3 L724.5 130.5 L724.8 131.3 L725.0 132.0 L725.2 132.7 L725.5 133.5 L725.8 134.2 L726.0 134.9 L726.2 135.7 L726.5 136.4 L726.8 137.2 L727.0 137.9 L727.2 138.6 L727.5 139.4 L727.8 139.2 L728.0 138.8 L728.2 138.5 L728.5 138.2 L728.8 137.9 L729.0 137.6 L729.2 137.3 L729.5 137.0 L729.8 136.7 L730.0 136.3 L730.2 136.0 L730.5 135.6 L730.8 134.9 L731.0 134.2 L731.2 133.6 L731.5 132.9 L731.8 132.2 L732.0 131.6 L732.2 130.9 L732.5 130.2 L732.8 129.6 L733.0 129.0 L733.2 132.5 L733.5 136.0 L733.8 139.5 L733.8 141.4 L733.5 141.5 L733.2 141.5 L733.0 141.6 L732.8 141.7 L732.5 141.7 L732.2 141.8 L732.0 141.9 L731.8 141.9 L731.5 142.0 L731.2 142.1 L731.0 142.2 L730.8 142.2 L730.5 142.3 L730.2 142.2 L730.0 142.1 L729.8 142.0 L729.5 141.9 L729.2 141.7 L729.0 141.6 L728.8 141.5 L728.5 141.4 L728.2 141.2 L728.0 141.1 L727.8 141.0 L727.5 140.9 L727.2 140.7 L727.0 140.6 L726.8 140.5 L726.5 140.4 L726.2 140.2 L726.0 140.0 L725.8 139.7 L725.5 139.3 L725.2 139.0 L725.0 138.6 L724.8 138.3 L724.5 137.9 L724.2 137.6 L724.0 137.2 L723.8 136.9 L723.5 136.5 L723.2 136.2 L723.0 135.8 L722.8 135.5 L722.5 135.1 L722.2 134.8 L722.0 134.5ZM776.0 159.4 L776.2 158.0 L776.5 156.7 L776.8 156.6 L777.0 156.5 L777.2 156.3 L777.5 156.2 L777.8 156.1 L778.0 156.0 L778.2 155.8 L778.5 155.7 L778.8 155.6 L779.0 155.5 L779.2 155.3 L779.5 155.6 L779.8 156.2 L780.0 156.8 L780.2 157.3 L780.5 157.9 L780.8 158.5 L781.0 159.1 L781.2 159.7 L781.5 160.3 L781.8 160.0 L782.0 159.7 L782.2 159.4 L782.5 159.1 L782.8 158.8 L783.0 158.4 L783.2 158.1 L783.5 157.8 L783.8 157.5 L784.0 157.2 L784.2 156.8 L784.5 156.5 L784.8 156.2 L785.0 155.9 L785.2 155.9 L785.5 156.1 L785.8 156.4 L786.0 156.7 L786.2 157.0 L786.5 157.2 L786.8 157.5 L787.0 157.8 L787.2 158.1 L787.5 158.3 L787.8 158.6 L788.0 158.9 L788.2 159.3 L788.5 159.6 L788.8 160.0 L789.0 160.4 L789.2 160.8 L789.5 161.1 L789.8 161.5 L790.0 161.9 L790.2 162.3 L790.5 162.6 L790.8 163.0 L791.0 163.1 L791.2 163.0 L791.5 162.9 L791.8 162.8 L792.0 162.6 L792.2 162.5 L792.5 162.4 L792.8 162.3 L793.0 162.1 L793.2 162.0 L793.5 161.9 L793.8 161.8 L794.0 162.2 L794.2 162.7 L794.5 163.2 L794.8 163.7 L795.0 164.2 L795.2 164.7 L795.5 165.2 L795.8 165.7 L796.0 166.2 L796.2 166.7 L796.5 167.2 L796.8 168.4 L797.0 170.4 L797.2 172.4 L797.5 174.4 L797.5 174.9 L797.2 175.0 L797.0 175.2 L796.8 175.4 L796.5 175.6 L796.2 175.8 L796.0 176.1 L795.8 176.3 L795.5 176.6 L795.2 176.8 L795.0 177.1 L794.8 177.3 L794.5 177.6 L794.2 177.8 L794.0 178.1 L793.8 178.3 L793.5 177.5 L793.2 176.7 L793.0 175.8 L792.8 175.0 L792.5 174.2 L792.2 173.4 L792.0 172.6 L791.8 171.8 L791.5 171.0 L791.2 170.2 L791.0 169.3 L790.8 169.0 L790.5 169.1 L790.2 169.2 L790.0 169.3 L789.8 169.3 L789.5 169.4 L789.2 169.5 L789.0 169.6 L788.8 169.7 L788.5 169.0 L788.2 168.3 L788.0 167.5 L787.8 166.8 L787.5 166.0 L787.2 165.3 L787.0 164.5 L786.8 163.8 L786.5 163.2 L786.2 163.3 L786.0 163.4 L785.8 163.5 L785.5 163.6 L785.2 163.7 L785.0 163.8 L784.8 163.9 L784.5 164.0 L784.2 164.1 L784.0 164.2 L783.8 164.3 L783.5 164.4 L783.2 164.5 L783.0 164.6 L782.8 164.3 L782.5 163.9 L782.2 163.5 L782.0 163.0 L781.8 162.6 L781.5 162.2 L781.2 161.8 L781.0 161.4 L780.8 161.1 L780.5 161.2 L780.2 161.3 L780.0 161.4 L779.8 161.5 L779.5 161.6 L779.2 161.7 L779.0 161.8 L778.8 161.9 L778.5 162.0 L778.2 162.1 L778.0 162.2 L777.8 162.3 L777.5 162.4 L777.2 162.5 L777.0 162.2 L776.8 161.8 L776.5 161.5 L776.2 161.1 L776.0 160.8ZM817.2 183.5 L817.5 181.2 L817.8 178.9 L818.0 182.4 L818.0 185.1 L817.8 185.2 L817.5 185.3 L817.2 185.4Z" fill="#ef7f7f" stroke="none"/>
<path d="M112.0 361.8 L112.2 362.2 L112.5 362.7 L112.8 363.2 L113.0 363.6 L113.2 364.1 L113.5 364.6 L113.8 364.9 L114.0 364.4 L114.2 363.8 L114.5 363.2 L114.8 362.6 L115.0 362.1 L115.2 361.5 L115.5 360.9 L115.8 360.3 L116.0 359.8 L116.2 359.2 L116.5 358.6 L116.8 358.0 L117.0 357.5 L117.2 356.5 L117.5 355.4 L117.5 355.0 L117.2 355.4 L117.0 355.9 L116.8 356.3 L116.5 356.8 L116.2 357.2 L116.0 357.7 L115.8 358.1 L115.5 358.6 L115.2 359.0 L115.0 359.5 L114.8 359.9 L114.5 360.4 L114.2 360.8 L114.0 361.0 L113.8 361.1 L113.5 361.2 L113.2 361.3 L113.0 361.3 L112.8 361.4 L112.5 361.5 L112.2 361.6 L112.0 361.7ZM275.0 342.5 L275.2 346.9 L275.5 351.3 L275.8 355.7 L276.0 357.6 L276.2 356.3 L276.5 355.1 L276.8 353.8 L277.0 352.6 L277.2 351.3 L277.5 350.1 L277.8 348.8 L278.0 347.6 L278.2 347.5 L278.5 347.7 L278.8 347.8 L279.0 348.0 L279.2 348.2 L279.5 348.4 L279.8 348.6 L280.0 348.8 L280.2 349.0 L280.5 349.2 L280.8 349.3 L281.0 350.0 L281.2 351.8 L281.5 353.6 L281.8 355.4 L282.0 357.2 L282.2 359.0 L282.5 360.9 L282.8 362.7 L283.0 364.5 L283.2 366.3 L283.5 368.1 L283.8 369.9 L284.0 367.2 L284.2 363.1 L284.5 359.0 L284.8 354.8 L285.0 350.7 L285.2 346.5 L285.5 342.4 L285.8 338.3 L285.8 334.6 L285.5 335.0 L285.2 335.5 L285.0 335.9 L284.8 336.4 L284.5 336.8 L284.2 337.2 L284.0 337.7 L283.8 338.1 L283.5 338.5 L283.2 339.0 L283.0 339.4 L282.8 339.9 L282.5 340.3 L282.2 340.7 L282.0 341.2 L281.8 341.6 L281.5 342.0 L281.2 342.5 L281.0 342.9 L280.8 343.4 L280.5 343.8 L280.2 344.2 L280.0 344.7 L279.8 345.1 L279.5 345.5 L279.2 346.0 L279.0 346.4 L278.8 346.9 L278.5 347.3 L278.2 345.9 L278.0 344.4 L277.8 342.9 L277.5 341.4 L277.2 339.9 L277.0 338.7 L276.8 339.0 L276.5 339.2 L276.2 339.5 L276.0 339.7 L275.8 340.0 L275.5 340.2 L275.2 340.5 L275.0 340.7ZM423.0 279.3 L423.2 280.4 L423.5 279.9 L423.8 278.0 L424.0 276.1 L424.0 275.5 L423.8 276.4 L423.5 277.3 L423.2 278.3 L423.0 279.2ZM635.8 177.3 L636.0 183.2 L636.2 189.2 L636.5 195.2 L636.8 201.1 L637.0 205.1 L637.2 203.4 L637.5 201.7 L637.8 200.1 L638.0 198.4 L638.2 196.7 L638.5 195.1 L638.8 193.4 L639.0 191.7 L639.2 190.1 L639.5 188.4 L639.8 186.7 L640.0 185.1 L640.2 183.4 L640.5 181.7 L640.8 180.1 L641.0 178.4 L641.2 176.7 L641.5 175.1 L641.8 173.4 L642.0 171.7 L642.0 171.0 L641.8 171.0 L641.5 171.0 L641.2 171.0 L641.0 171.0 L640.8 171.0 L640.5 171.0 L640.2 171.0 L640.0 171.0 L639.8 171.0 L639.5 171.0 L639.2 171.0 L639.0 171.0 L638.8 171.0 L638.5 171.2 L638.2 171.4 L638.0 171.6 L637.8 171.8 L637.5 171.9 L637.2 172.1 L637.0 172.3 L636.8 172.5 L636.5 172.7 L636.2 172.9 L636.0 173.1 L635.8 173.4ZM804.8 221.8 L805.0 224.9 L805.2 228.0 L805.5 231.1 L805.8 234.2 L806.0 237.3 L806.2 240.3 L806.5 243.4 L806.8 246.0 L807.0 243.9 L807.2 241.8 L807.5 239.7 L807.8 237.6 L808.0 235.5 L808.2 233.4 L808.5 231.3 L808.8 229.2 L809.0 227.1 L809.2 225.0 L809.5 222.9 L809.8 220.8 L809.8 219.3 L809.5 219.0 L809.2 219.5 L809.0 219.9 L808.8 220.3 L808.5 220.8 L808.2 221.2 L808.0 221.7 L807.8 222.1 L807.5 222.5 L807.2 223.0 L807.0 223.4 L806.8 223.8 L806.5 223.5 L806.2 223.0 L806.0 222.6 L805.8 222.2 L805.5 221.7 L805.2 221.3 L805.0 220.9 L804.8 220.4ZM820.5 244.0 L820.8 248.3 L821.0 244.6 L821.2 240.9 L821.5 237.2 L821.5 236.1 L821.2 236.4 L821.0 236.7 L820.8 236.9 L820.5 237.2ZM850.2 240.2 L850.5 241.6 L850.8 242.9 L851.0 244.3 L851.2 245.7 L851.5 247.0 L851.8 248.4 L852.0 249.7 L852.2 251.1 L852.5 252.4 L852.8 253.8 L853.0 253.5 L853.2 252.7 L853.5 251.9 L853.8 251.1 L854.0 250.3 L854.2 249.5 L854.5 248.7 L854.8 247.9 L855.0 247.1 L855.2 246.3 L855.5 245.5 L855.8 244.7 L856.0 243.9 L856.2 243.1 L856.2 242.7 L856.0 242.5 L855.8 242.4 L855.5 242.2 L855.2 242.1 L855.0 241.9 L854.8 241.7 L854.5 241.4 L854.2 241.2 L854.0 240.9 L853.8 240.7 L853.5 240.4 L853.2 240.2 L853.0 239.9 L852.8 239.7 L852.5 239.4 L852.2 239.2 L852.0 238.9 L851.8 238.7 L851.5 238.4 L851.2 238.5 L851.0 238.8 L850.8 239.2 L850.5 239.6 L850.2 240.0Z" fill="#2e72aa" stroke="none"/>
<path d="M78.6 301.2 L83.5 280.4 L89.0 294.8 L93.3 288.3 L97.6 289.0 L102.6 290.4 L105.5 294.0 L108.4 305.6 L111.3 313.8 L114.2 308.7 L117.0 304.1 L122.4 283.2 L125.0 292.6 L128.6 291.9 L132.2 293.3 L135.8 284.7 L138.6 289.0 L141.1 285.4 L145.1 292.6 L149.4 294.0 L152.3 286.1 L154.5 290.4 L157.8 268.8 L160.2 269.6 L163.1 261.6 L165.3 291.2 L171.0 296.2 L173.9 293.3 L176.8 298.4 L179.7 285.4 L182.6 294.8 L186.9 284.7 L190.5 285.4 L193.4 268.4 L196.2 276.8 L198.8 273.9 L201.0 293.3 L205.6 290.4 L209.9 292.6 L214.2 295.5 L220.0 288.3 L223.6 282.5 L226.5 291.9 L231.5 278.2 L235.1 281.8 L237.4 281.2 L242.9 255.2 L245.4 274.7 L247.5 271.1 L250.4 284.0 L254.0 271.1 L256.2 278.3 L259.0 268.2 L261.9 264.6 L264.8 269.6 L267.4 281.9 L270.1 258.8 L273.4 287.6 L276.3 284.0 L278.5 284.0 L281.4 292.0 L283.5 271.8 L286.4 289.1 L289.3 294.1 L292.9 288.4 L296.5 285.5 L300.1 274.7 L303.0 263.2 L305.8 271.8 L308.0 266.0 L310.9 268.2 L316.6 250.9 L322.1 247.3 L325.0 264.6 L327.4 261.7 L330.3 268.9 L333.2 263.2 L336.1 260.3 L339.0 264.6 L342.6 261.7 L346.9 245.9 L349.8 253.8 L352.4 238.7 L355.5 261.7 L358.4 268.2 L363.4 232.2 L365.6 250.9 L369.2 254.5 L373.5 250.2 L376.4 262.4 L380.0 256.7 L385.8 242.3 L389.4 235.8 L393.0 237.2 L396.0 241.7 L398.2 247.5 L401.8 238.8 L406.8 233.8 L409.7 220.8 L413.3 223.7 L417.6 236.0 L426.2 212.9 L429.8 220.1 L434.2 219.4 L437.8 227.3 L442.1 215.8 L445.0 221.6 L447.8 210.0 L450.7 217.2 L453.6 208.6 L457.9 222.3 L460.8 204.0 L467.3 192.5 L472.3 209.0 L475.2 199.0 L478.1 204.0 L481.0 196.8 L483.8 203.3 L487.4 199.0 L491.0 205.4 L497.5 190.3 L502.6 200.4 L508.3 188.2 L514.1 166.6 L519.1 179.5 L524.2 171.6 L527.0 160.8 L530.6 159.4 L532.8 155.0 L536.4 164.4 L540.0 162.2 L542.9 163.7 L546.5 152.9 L550.8 156.5 L556.0 152.9 L556.0 161.2 L560.3 155.4 L563.2 151.8 L566.1 146.8 L569.0 155.4 L574.0 151.1 L577.6 154.0 L581.9 144.6 L585.5 151.1 L590.6 144.6 L594.2 152.6 L598.5 149.7 L605.0 141.8 L607.8 138.9 L610.0 142.5 L613.6 137.4 L619.4 132.4 L623.0 138.2 L628.0 134.6 L634.5 127.4 L637.4 130.2 L640.2 139.6 L643.8 142.5 L648.2 136.0 L653.9 132.4 L657.5 125.9 L662.6 124.5 L669.8 124.5 L675.5 131.7 L678.4 128.8 L682.7 132.4 L691.4 132.4 L694.5 120.9 L696.4 128.8 L700.0 141.0 L702.9 143.2 L706.5 139.6 L709.4 136.0 L712.2 139.6 L716.0 136.0 L716.0 134.4 L719.2 130.8 L722.5 135.1 L726.1 140.2 L730.4 142.3 L734.0 141.3 L737.6 143.8 L741.9 146.6 L745.5 145.9 L751.3 153.1 L754.9 146.6 L757.8 150.2 L762.8 147.4 L765.7 154.6 L771.4 154.6 L773.6 157.4 L777.2 162.5 L780.8 161.0 L783.0 164.6 L786.6 163.2 L788.7 169.7 L790.9 169.0 L793.8 178.3 L796.6 175.4 L801.0 172.6 L803.8 180.5 L806.7 178.3 L811.0 186.2 L813.2 190.6 L816.8 185.5 L822.6 183.4 L826.2 188.4 L831.2 169.7 L833.4 175.4 L835.5 186.4 L839.8 198.7 L842.7 197.2 L845.6 186.4 L847.8 199.4 L854.2 198.0 L858.6 199.4 L861.0 197.2 L861.4 196.5 L865.4 204.4 L865.8 203.7 L869.4 199.4 L869.7 200.0 L872.6 208.7 L873.0 208.0 L876.0 206.6 L877.6 207.2 L880.5 209.4 L883.4 214.4 L889.8 205.1 L894.9 209.4 L899.2 208.7 L902.1 210.8 L905.7 218.0 L907.8 216.6 L913.6 219.5 L915.8 231.0 L919.4 235.3 L922.2 233.9 L924.4 228.8 L927.3 244.7 L930.2 250.4 L935.9 256.9 L941.0 241.1 L946.0 251.9 L949.6 253.3 L952.5 252.6 L954.6 241.8 L956.8 265.0 L958.2 273.7 L961.8 261.4 L967.6 262.0 L971.2 251.2 L974.1 262.0 L977.0 259.8 L979.8 265.8 L982.7 276.6 L985.6 268.6 L988.5 271.5 L990.6 279.4 L995.0 283.0 L998.6 288.1 L1001.4 272.2 L1003.6 282.3 L1005.8 275.8 L1011.5 274.4 L1015.1 275.1 L1017.6 277.3 L1023.4 298.9 L1026.2 286.0 L1028.4 284.5 L1031.6 292.4 L1036.3 281.6 L1039.2 294.6 L1044.2 298.9 L1047.8 266.5 L1050.7 265.1 L1053.6 287.4 L1059.4 294.6 L1061.5 286.0 L1063.7 295.3 L1066.9 298.2 L1070.2 273.7 L1072.6 267.2 L1074.9 292.4" stroke="#ff2020" stroke-width="1.0" stroke-dasharray="2.3 1.38"/>
<path d="M78.6 358.8 L81.5 352.3 L86.1 357.4 L89.0 355.9 L91.8 363.1 L94.7 360.2 L97.6 365.3 L102.6 361.7 L105.5 372.5 L109.8 362.4 L114.2 361.0 L117.8 354.5 L121.4 355.2 L126.4 361.7 L130.7 365.3 L132.9 362.4 L136.5 371.8 L138.6 366.7 L141.5 368.9 L146.6 382.6 L149.4 373.2 L152.3 374.6 L154.9 372.5 L157.4 357.4 L160.2 358.1 L163.1 353.8 L166.7 361.0 L168.2 359.5 L171.8 372.5 L174.6 373.2 L176.8 384.0 L179.0 373.9 L179.7 379.7 L183.3 379.0 L187.6 360.2 L191.2 361.0 L193.4 355.9 L196.2 360.2 L199.1 348.7 L201.3 358.1 L206.3 353.0 L209.9 337.9 L212.8 337.9 L216.4 348.7 L218.6 352.3 L220.7 345.1 L222.9 351.6 L226.5 365.3 L228.6 355.2 L230.8 358.1 L234.4 380.4 L240.0 376.8 L242.5 352.4 L245.4 347.3 L248.2 356.0 L251.1 343.7 L255.4 348.8 L259.8 338.7 L264.8 350.2 L270.1 333.6 L272.7 343.0 L277.0 338.7 L278.5 347.3 L287.1 332.2 L293.6 338.7 L299.4 324.6 L303.0 329.7 L307.3 329.0 L310.9 313.1 L314.5 316.0 L318.8 314.6 L322.1 329.7 L325.3 319.6 L328.2 318.2 L331.0 319.6 L333.2 315.3 L335.4 326.1 L338.2 316.0 L342.6 320.3 L346.2 318.2 L349.0 315.3 L352.6 316.0 L358.4 308.8 L361.3 294.4 L363.4 298.0 L366.3 306.6 L369.2 306.6 L373.5 297.3 L377.1 310.2 L379.3 296.6 L382.2 299.4 L386.5 296.6 L390.4 282.9 L393.7 292.2 L398.2 293.9 L401.5 314.1 L403.9 299.7 L406.8 296.1 L409.7 292.5 L412.6 296.8 L417.6 279.5 L421.9 283.1 L426.2 267.3 L428.4 273.8 L431.3 269.4 L434.2 269.4 L437.8 275.9 L442.1 270.9 L445.7 275.2 L448.6 268.0 L451.4 273.8 L453.6 280.2 L456.5 265.1 L458.6 268.7 L461.5 256.8 L466.6 248.9 L470.2 258.3 L474.5 256.1 L481.0 259.7 L484.6 249.6 L489.6 238.8 L494.6 239.6 L498.2 242.4 L501.8 240.3 L503.3 243.9 L506.2 234.5 L511.2 232.4 L515.5 231.6 L519.8 237.4 L523.4 226.6 L529.2 222.3 L532.8 227.3 L536.4 221.6 L540.0 223.7 L544.3 210.0 L547.2 212.2 L552.2 199.0 L554.4 207.6 L556.0 203.4 L558.9 201.2 L563.9 202.6 L569.0 189.0 L570.4 196.9 L573.3 191.8 L577.6 199.0 L581.9 191.8 L588.4 178.2 L591.3 183.2 L593.4 194.0 L595.6 187.5 L598.5 189.7 L601.4 179.6 L604.2 176.0 L608.6 189.7 L612.2 188.2 L617.9 179.6 L620.8 188.2 L624.4 174.6 L626.6 180.3 L629.4 172.4 L632.3 179.6 L635.9 173.1 L638.8 171.0 L642.4 171.0 L649.6 166.6 L653.9 171.0 L656.8 183.2 L661.1 181.8 L666.9 163.0 L671.2 164.5 L674.8 166.6 L678.4 165.2 L680.6 181.0 L686.3 176.7 L691.4 183.2 L694.2 174.6 L698.6 184.6 L704.3 183.2 L710.8 173.1 L714.4 178.9 L716.0 178.3 L721.8 181.9 L726.8 172.6 L729.7 185.5 L733.3 173.3 L737.6 184.1 L742.6 187.0 L747.0 198.0 L751.3 188.6 L755.6 198.7 L758.5 203.7 L762.1 205.2 L768.6 195.8 L770.7 199.4 L773.6 194.4 L776.5 204.4 L778.6 202.3 L782.0 225.3 L788.0 218.8 L794.5 220.3 L799.5 218.1 L803.8 218.8 L806.7 223.9 L809.6 218.8 L812.5 227.5 L814.6 223.2 L817.5 240.4 L825.4 231.8 L830.5 231.8 L834.8 241.9 L837.0 238.3 L839.6 249.8 L842.7 236.1 L845.6 236.1 L848.5 242.6 L851.4 238.3 L855.0 241.9 L858.6 244.0 L862.2 255.6 L863.9 260.0 L866.8 273.0 L872.1 280.2 L877.6 257.6 L879.8 262.2 L883.4 273.7 L886.2 257.1 L890.6 273.0 L894.2 277.3 L897.0 287.4 L899.9 290.2 L902.1 307.5 L905.3 325.5 L908.6 301.8 L911.4 277.3 L913.6 282.3 L915.8 303.2 L919.4 303.9 L923.7 298.2 L926.6 303.2 L929.7 306.8 L933.0 292.4 L935.2 299.6 L938.8 297.4 L941.3 285.2 L943.8 295.3 L946.0 307.5 L951.8 340.2 L954.6 317.2 L959.7 322.2 L966.2 304.7 L974.1 324.4 L977.0 337.4 L982.7 353.2 L987.3 359.0 L990.6 346.7 L993.5 346.0 L998.6 366.2 L1003.6 338.8 L1008.6 337.4 L1012.2 328.0 L1015.1 329.4 L1020.5 352.5 L1024.8 347.4 L1028.4 351.8 L1031.3 366.2 L1034.2 356.8 L1038.5 356.1 L1042.8 348.9 L1045.0 353.2 L1048.1 338.1 L1052.2 349.6 L1055.8 346.7 L1057.9 360.4 L1061.5 374.1 L1065.1 364.7 L1070.2 364.0 L1075.2 343.8" stroke="#9fd1e3" stroke-width="1.55" stroke-dasharray="5.15 2.22"/>
<path d="M78.6 317.4 L81.0 328.2 L84.6 328.6 L89.7 323.8 L94.0 331.8 L96.2 333.2 L97.6 331.8 L99.8 335.4 L101.9 331.0 L104.8 331.0 L108.4 329.6 L111.3 344.0 L114.2 340.4 L116.8 331.8 L119.2 325.3 L122.1 331.8 L125.0 328.2 L127.8 335.4 L130.7 337.5 L133.2 344.0 L135.8 339.7 L138.6 330.3 L143.0 326.0 L146.6 328.9 L150.2 328.2 L152.3 328.9 L155.9 326.0 L158.8 321.0 L161.0 317.4 L162.4 333.2 L165.3 340.4 L168.9 331.8 L171.8 328.9 L176.8 316.6 L179.0 326.7 L182.6 331.8 L187.6 339.0 L192.6 323.8 L198.4 319.5 L201.3 322.4 L204.9 328.2 L209.9 319.5 L212.1 328.2 L217.8 318.1 L221.4 315.9 L225.8 316.6 L230.8 313.8 L235.1 319.5 L236.0 321.0 L239.6 314.6 L242.5 313.1 L245.4 307.4 L248.2 306.6 L251.1 313.8 L254.0 314.6 L257.6 316.7 L260.5 312.4 L264.1 318.9 L267.0 308.8 L270.6 302.3 L273.4 312.4 L277.0 306.6 L280.6 311.7 L283.5 303.8 L286.4 310.2 L289.3 307.4 L292.9 311.0 L295.0 316.0 L297.9 313.1 L302.2 307.4 L305.8 305.9 L309.4 301.6 L313.0 293.0 L317.4 284.3 L321.0 287.2 L323.8 295.8 L327.4 298.0 L330.3 301.6 L333.2 295.1 L336.1 298.7 L342.6 294.4 L348.3 287.9 L351.2 279.7 L354.8 283.3 L358.4 284.0 L364.2 273.2 L366.3 276.8 L374.2 275.4 L378.6 276.1 L382.9 276.8 L387.2 271.8 L390.8 261.0 L393.0 266.0 L396.0 263.3 L398.9 259.7 L401.8 266.2 L405.4 271.2 L409.7 267.6 L415.4 266.2 L417.6 259.7 L420.5 246.0 L426.2 248.2 L431.3 240.3 L434.9 243.9 L439.2 249.6 L442.4 241.7 L445.7 248.2 L450.0 249.6 L453.6 251.8 L458.6 236.0 L462.2 242.4 L466.6 226.6 L469.7 238.8 L473.8 231.6 L478.1 228.0 L482.4 225.9 L486.0 219.4 L489.6 220.8 L494.6 218.7 L498.2 220.1 L502.6 215.1 L505.4 218.7 L509.8 215.1 L512.6 204.7 L516.2 202.6 L518.4 197.5 L522.7 199.0 L525.6 196.1 L528.5 199.7 L532.1 195.4 L535.7 198.2 L541.4 188.9 L544.3 190.3 L549.4 187.4 L552.2 181.0 L556.0 183.1 L556.0 182.5 L560.3 176.0 L565.4 167.4 L569.0 166.6 L573.3 168.1 L581.9 161.9 L584.8 168.4 L590.6 163.4 L595.6 164.8 L599.2 159.8 L604.2 154.0 L608.6 155.4 L610.7 153.3 L613.6 158.3 L617.2 157.6 L620.1 161.9 L625.1 154.7 L628.7 155.4 L634.5 151.1 L636.6 149.7 L640.2 154.0 L644.6 156.2 L648.2 149.0 L653.2 149.7 L656.8 155.4 L662.6 149.0 L666.2 154.7 L669.0 148.2 L675.5 148.2 L678.4 151.1 L682.7 153.3 L689.2 147.5 L694.2 161.9 L697.8 156.9 L702.9 159.0 L708.6 156.9 L713.0 157.6 L716.0 161.2 L716.0 159.6 L719.6 154.6 L724.6 163.2 L727.5 158.2 L729.7 158.9 L733.3 154.6 L737.6 159.6 L741.2 166.1 L744.1 165.4 L747.7 174.0 L750.6 172.6 L754.9 167.5 L758.5 173.3 L763.5 178.3 L768.6 171.8 L772.2 174.0 L776.5 175.4 L780.1 179.8 L783.0 187.7 L785.1 182.6 L787.3 182.6 L789.4 192.9 L793.8 195.8 L795.9 202.3 L801.0 192.2 L805.3 198.0 L809.6 198.7 L813.9 205.2 L818.2 203.0 L822.6 210.9 L826.9 205.2 L831.2 209.5 L834.1 213.1 L839.1 210.9 L842.7 213.8 L847.0 215.2 L851.4 215.2 L854.2 220.3 L859.3 221.0 L864.3 236.8 L869.4 228.2 L873.0 232.5 L876.0 236.8 L880.5 227.4 L886.2 243.2 L889.8 239.6 L894.9 238.9 L902.1 244.0 L905.3 236.0 L907.8 249.7 L910.7 245.4 L916.5 256.2 L918.6 254.0 L921.5 264.3 L924.4 279.4 L926.9 271.5 L930.2 281.6 L932.3 275.8 L935.2 274.4 L938.8 263.6 L941.0 261.4 L943.8 272.2 L946.4 270.1 L949.6 281.6 L951.8 283.0 L955.4 288.1 L960.4 291.7 L963.3 289.5 L965.7 284.5 L968.6 301.8 L971.2 296.7 L976.2 295.3 L979.8 303.9 L984.2 297.4 L987.8 310.4 L990.6 306.8 L992.8 310.4 L995.0 309.7 L998.6 318.3 L1001.4 317.6 L1004.3 313.3 L1006.8 302.5 L1008.6 313.3 L1011.5 305.4 L1014.4 308.2 L1017.6 310.4 L1023.4 324.4 L1026.2 324.4 L1029.1 316.5 L1034.2 321.5 L1037.0 319.4 L1039.9 328.7 L1042.1 330.9 L1047.8 311.4 L1050.4 320.8 L1052.9 314.3 L1055.8 314.3 L1059.4 326.6 L1061.5 328.0 L1064.0 324.4 L1067.3 330.9 L1070.2 331.6 L1072.8 335.2 L1075.2 323.7" stroke="#000" stroke-width="3.3" stroke-linecap="round"/>
<path d="M79.2 314.5 L81.5 337.2 L86.1 295.8 L89.0 322.4 L91.6 295.0 L94.4 321.0 L100.0 260.9 L102.9 271.7 L105.8 256.3 L109.4 328.9 L110.6 344.7 L111.6 361.0 L113.7 365.0 L117.0 357.4 L119.2 348.0 L122.1 346.6 L123.5 333.2 L126.4 333.9 L130.0 344.0 L131.4 339.7 L133.6 314.5 L138.6 259.8 L144.4 312.3 L146.6 313.8 L149.7 241.5 L153.8 329.2 L154.9 339.7 L158.9 324.3 L160.2 316.6 L162.1 333.2 L163.1 353.0 L166.4 345.4 L169.6 328.9 L171.8 328.2 L175.4 322.4 L176.8 323.8 L179.0 336.1 L180.4 336.8 L182.3 319.5 L184.7 328.2 L189.8 322.4 L193.4 304.4 L196.2 303.7 L198.4 284.0 L202.0 315.9 L206.3 291.9 L209.9 294.0 L212.1 302.7 L220.7 286.1 L226.5 311.6 L228.9 286.1 L231.5 313.0 L234.4 321.0 L238.2 311.0 L240.3 318.2 L242.9 333.3 L246.1 315.3 L248.2 313.8 L251.1 315.3 L254.0 300.2 L257.6 315.3 L259.3 293.7 L264.1 311.0 L269.8 293.7 L272.0 311.0 L273.7 320.3 L275.9 358.1 L278.1 347.3 L280.9 349.5 L283.8 370.4 L287.3 313.1 L289.3 286.5 L291.4 285.8 L294.8 271.1 L297.2 278.3 L298.9 294.4 L300.1 313.8 L303.7 308.8 L308.0 300.9 L310.9 311.0 L312.0 298.7 L313.8 275.4 L318.8 286.2 L322.1 271.8 L324.6 289.8 L328.2 295.8 L330.3 288.4 L335.4 275.4 L339.0 259.6 L341.1 243.7 L344.0 281.9 L346.9 272.5 L349.8 271.1 L351.9 279.0 L354.1 275.4 L360.6 262.4 L363.4 265.3 L364.2 273.2 L365.2 277.6 L366.8 292.7 L368.2 277.6 L371.4 258.8 L374.2 258.8 L375.1 275.4 L376.8 293.4 L379.7 276.6 L382.2 271.1 L385.0 286.9 L385.8 272.5 L388.2 244.4 L390.1 258.1 L393.0 237.2 L398.9 248.2 L401.0 259.7 L406.8 239.6 L409.7 238.8 L415.4 219.4 L418.3 228.8 L419.0 246.8 L419.8 255.4 L421.6 273.0 L423.4 281.0 L425.5 264.4 L428.0 269.4 L429.8 264.4 L432.7 253.2 L435.6 252.5 L439.2 249.6 L445.0 243.9 L448.6 230.2 L451.4 233.1 L454.3 223.0 L456.5 226.6 L459.4 217.2 L464.4 204.0 L466.6 226.6 L470.2 236.0 L474.5 207.9 L478.1 211.5 L483.1 204.0 L486.0 186.0 L488.9 175.9 L491.8 170.9 L494.6 168.7 L496.8 197.5 L502.6 197.5 L505.4 191.8 L508.3 188.2 L511.2 177.4 L516.2 166.6 L518.4 170.9 L522.7 171.6 L525.6 160.1 L530.6 150.7 L532.8 164.4 L536.4 155.0 L538.6 152.2 L540.7 158.6 L542.9 150.0 L544.0 145.9 L546.5 150.2 L548.6 149.1 L552.2 142.1 L554.6 149.7 L556.0 134.6 L558.9 144.6 L562.5 144.6 L569.0 120.9 L571.8 119.4 L576.9 110.8 L582.6 118.0 L585.5 131.0 L588.4 129.5 L591.3 136.0 L593.7 147.5 L596.0 173.8 L598.5 144.6 L601.4 142.5 L602.8 154.7 L603.8 175.3 L606.4 179.6 L608.1 154.7 L611.4 152.6 L613.6 141.8 L615.8 136.0 L619.4 132.4 L623.3 120.4 L626.1 135.3 L629.0 133.8 L631.6 146.1 L634.5 149.0 L635.6 174.6 L636.9 205.5 L642.1 171.0 L645.3 156.6 L648.2 133.8 L650.3 154.4 L652.5 168.1 L656.8 162.3 L661.8 159.4 L664.7 152.2 L669.8 146.8 L677.0 146.8 L681.3 142.5 L684.2 123.8 L686.8 98.6 L690.6 120.2 L693.5 126.6 L697.8 126.6 L700.0 120.2 L702.6 97.1 L706.5 119.4 L710.1 133.8 L713.0 156.2 L715.1 159.0 L718.9 154.6 L721.0 135.8 L724.4 130.1 L727.5 139.4 L730.4 135.8 L733.0 128.9 L734.7 153.1 L737.6 157.4 L740.8 148.8 L743.4 163.9 L745.5 171.8 L747.0 182.6 L749.1 167.5 L751.7 161.0 L753.2 174.7 L754.9 190.6 L757.0 171.8 L759.2 161.8 L762.8 149.5 L765.7 176.2 L768.4 187.0 L771.4 154.6 L773.6 172.6 L776.5 156.7 L779.4 155.3 L781.5 160.3 L785.1 155.7 L788.0 158.9 L790.9 163.2 L793.8 161.8 L796.6 167.5 L799.5 190.6 L802.4 210.9 L804.6 219.6 L806.7 246.2 L810.3 216.0 L812.8 205.2 L815.4 200.8 L817.8 178.3 L819.0 203.7 L820.7 249.1 L823.3 210.9 L825.4 206.6 L829.8 200.8 L834.1 195.8 L837.0 203.0 L838.4 210.9 L839.6 226.8 L842.7 213.8 L844.9 198.7 L846.3 211.6 L847.8 226.8 L852.8 254.1 L856.4 242.6 L858.6 243.3 L860.0 221.7 L861.4 217.4 L865.0 229.6 L868.6 228.2 L870.8 229.6 L873.0 234.7" stroke="#000" stroke-width="1.15" stroke-linejoin="miter"/>
</g>
<rect x="78.5" y="60.5" width="997.0" height="385.0" fill="none" stroke="#000" stroke-width="1.1"/>
<path d="M78.5 445.5 v4.9 M163.5 445.5 v4.9 M240.5 445.5 v4.9 M325.5 445.5 v4.9 M407.5 445.5 v4.9 M492.5 445.5 v4.9 M574.5 445.5 v4.9 M659.5 445.5 v4.9 M744.5 445.5 v4.9 M826.5 445.5 v4.9 M911.5 445.5 v4.9 M993.5 445.5 v4.9 M78.5 409.5 h-4.9 M78.5 348.5 h-4.9 M78.5 288.5 h-4.9 M78.5 227.5 h-4.9 M78.5 167.5 h-4.9 M78.5 106.5 h-4.9" stroke="#000" stroke-width="1.1" fill="none"/>
<clipPath id="lc"><rect x="0" y="0" width="1120" height="500"/></clipPath>
<rect x="185.9" y="476.4" width="782.6" height="40" rx="3.5" ry="3.5" fill="#fff" fill-opacity="0.8" stroke="#cfcfcf" stroke-width="1.1"/>
<path d="M192.5 491.4 H224.6" stroke="#ff2020" stroke-width="1.15" stroke-dasharray="2.3 1.38"/>
<path d="M370.5 491.4 H403.8" stroke="#9fd1e3" stroke-width="1.45" stroke-dasharray="5.15 2.22"/>
<path d="M537 491.45 H573" stroke="#000" stroke-width="3.2"/>
<path d="M799 491.45 H833" stroke="#000" stroke-width="1.4"/>
<text x="331.19" y="31.80" font-size="26.10" fill="#2a6aa5" textLength="158.06" lengthAdjust="spacingAndGlyphs">Temperatura</text>
<text x="499.23" y="31.80" font-size="26.10" fill="#2a6aa5" textLength="73.06" lengthAdjust="spacingAndGlyphs">Media</text>
<text x="582.34" y="31.80" font-size="26.10" fill="#2a6aa5" textLength="68.25" lengthAdjust="spacingAndGlyphs">diaria</text>
<text x="659.58" y="31.80" font-size="26.10" fill="#2a6aa5" textLength="11.42" lengthAdjust="spacingAndGlyphs">-</text>
<text x="680.66" y="31.80" font-size="26.10" fill="#2a6aa5" textLength="139.57" lengthAdjust="spacingAndGlyphs">Torreblanca</text>
<text x="49.48" y="54.60" font-size="18.10" fill="#000" textLength="18.50" lengthAdjust="spacingAndGlyphs">°C</text>
<text x="89.67" y="84.00" font-size="23.55" fill="#2a6aa5" textLength="238.14" lengthAdjust="spacingAndGlyphs">WWW.EMBALSES.NET</text>
<text x="45.50" y="113.40" font-size="19.90" fill="#000" textLength="22.50" lengthAdjust="spacingAndGlyphs">30</text>
<text x="45.50" y="174.00" font-size="19.90" fill="#000" textLength="22.50" lengthAdjust="spacingAndGlyphs">25</text>
<text x="45.50" y="234.60" font-size="19.90" fill="#000" textLength="22.50" lengthAdjust="spacingAndGlyphs">20</text>
<text x="45.50" y="295.20" font-size="19.90" fill="#000" textLength="22.50" lengthAdjust="spacingAndGlyphs">15</text>
<text x="45.50" y="355.80" font-size="19.90" fill="#000" textLength="22.50" lengthAdjust="spacingAndGlyphs">10</text>
<text x="56.50" y="416.40" font-size="19.90" fill="#000" textLength="11.20" lengthAdjust="spacingAndGlyphs">5</text>
<text x="63.02" y="468.90" font-size="18.10" fill="#000" textLength="30.02" lengthAdjust="spacingAndGlyphs">Ene</text>
<text x="148.91" y="468.90" font-size="18.10" fill="#000" textLength="28.77" lengthAdjust="spacingAndGlyphs">Feb</text>
<text x="224.53" y="468.90" font-size="18.10" fill="#000" textLength="30.76" lengthAdjust="spacingAndGlyphs">Mar</text>
<text x="311.24" y="468.90" font-size="18.10" fill="#000" textLength="28.35" lengthAdjust="spacingAndGlyphs">Abr</text>
<text x="389.31" y="468.90" font-size="18.10" fill="#000" textLength="33.89" lengthAdjust="spacingAndGlyphs">May</text>
<text x="478.48" y="468.90" font-size="18.10" fill="#000" textLength="25.25" lengthAdjust="spacingAndGlyphs">Jun</text>
<text x="563.50" y="468.90" font-size="18.10" fill="#000" textLength="19.94" lengthAdjust="spacingAndGlyphs">Jul</text>
<text x="643.08" y="468.90" font-size="18.10" fill="#000" textLength="30.68" lengthAdjust="spacingAndGlyphs">Ago</text>
<text x="727.89" y="468.90" font-size="18.10" fill="#000" textLength="30.30" lengthAdjust="spacingAndGlyphs">Sep</text>
<text x="812.48" y="468.90" font-size="18.10" fill="#000" textLength="27.52" lengthAdjust="spacingAndGlyphs">Oct</text>
<text x="894.36" y="468.90" font-size="18.10" fill="#000" textLength="31.72" lengthAdjust="spacingAndGlyphs">Nov</text>
<text x="979.82" y="468.90" font-size="18.10" fill="#000" textLength="25.71" lengthAdjust="spacingAndGlyphs">Dic</text>
<text x="82.67" y="54.60" font-size="18.10" fill="#000" textLength="53.45" lengthAdjust="spacingAndGlyphs">Última</text>
<text x="142.44" y="54.60" font-size="18.10" fill="#000" textLength="49.11" lengthAdjust="spacingAndGlyphs">temp:</text>
<text x="197.31" y="54.60" font-size="18.10" fill="#000" textLength="95.69" lengthAdjust="spacingAndGlyphs">2025-10-18</text>
<text x="238.60" y="496.90" font-size="18.10" fill="#000" textLength="72.31" lengthAdjust="spacingAndGlyphs">Percentil</text>
<text x="316.43" y="496.90" font-size="18.10" fill="#000" textLength="20.40" lengthAdjust="spacingAndGlyphs">95</text>
<text x="416.77" y="496.90" font-size="18.10" fill="#000" textLength="71.93" lengthAdjust="spacingAndGlyphs">Percentil</text>
<text x="493.98" y="496.90" font-size="18.10" fill="#000" textLength="10.30" lengthAdjust="spacingAndGlyphs">5</text>
<text x="583.85" y="496.90" font-size="18.10" fill="#000" textLength="104.39" lengthAdjust="spacingAndGlyphs">Temperatura</text>
<text x="694.72" y="496.90" font-size="18.10" fill="#000" textLength="69.84" lengthAdjust="spacingAndGlyphs">Mediana</text>
<text x="845.89" y="496.90" font-size="18.10" fill="#000" textLength="13.89" lengthAdjust="spacingAndGlyphs">T.</text>
<text x="864.50" y="496.90" font-size="18.10" fill="#000" textLength="48.96" lengthAdjust="spacingAndGlyphs">Media</text>
<text x="919.82" y="496.90" font-size="18.10" fill="#000" textLength="41.88" lengthAdjust="spacingAndGlyphs">2025</text>
</svg>
</body></html>
